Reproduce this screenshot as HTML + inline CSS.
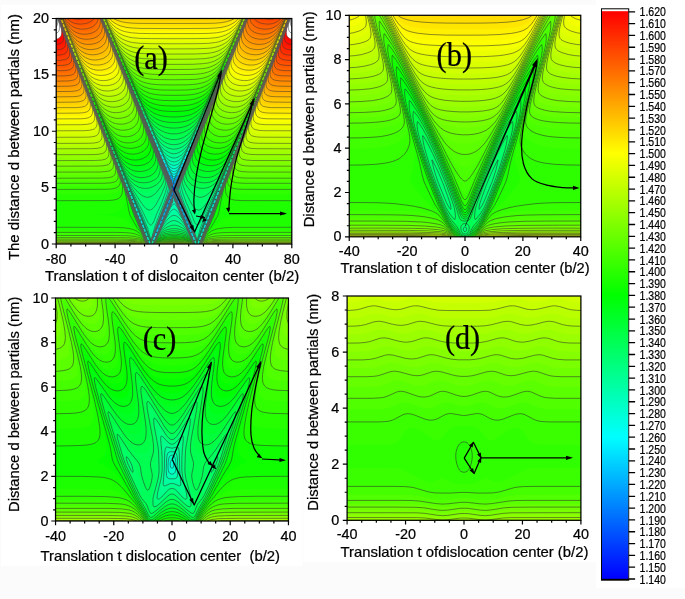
<!DOCTYPE html>
<html><head><meta charset="utf-8"><title>figure</title>
<style>
html,body{margin:0;padding:0;background:#fbfbfb;overflow:hidden}
svg{display:block;will-change:transform}
text{font-family:"Liberation Sans",sans-serif;fill:#000;stroke:#000;stroke-width:.22px}
.tk{font-size:14.4px}
.lb{font-size:14.2px}
.pl{font-family:"Liberation Serif",serif;font-size:33px}
.cb{font-size:13.2px}
</style></head><body>
<svg width="685" height="599" viewBox="0 0 685 599">
<rect width="685" height="599" fill="#fbfbfb"/>
<rect x="1" y="4.6" width="595" height="557.6" fill="#fff"/>
<rect x="1" y="560" width="301.3" height="5.8" fill="#fff"/>
<rect x="596" y="0" width="89" height="588.3" fill="#fff"/>
<rect x="302.2" y="440" width="1.2" height="126" fill="#fdfdfd"/>
<g id="panel-a">
<clipPath id="cpa"><rect x="56.20" y="18.50" width="235.60" height="225.50"/></clipPath>
<g clip-path="url(#cpa)">
<clipPath id="ha"><rect x="55.20" y="17.50" width="119.80" height="227.50"/></clipPath>
<g id="fa" clip-path="url(#ha)" fill-rule="evenodd" stroke="#333333" stroke-width="0.5" stroke-linejoin="round">
<rect x="53.2" y="15.5" width="123.8" height="231.5" fill="#0000ff"/>
<path fill="#0000ff" d="M53.2 15.5l123.8 0l0 231.5l-123.8 0zM173.8 189.6l.4 .2l0-.2z"/>
<path fill="#0000ff" stroke="none" d="M53.2 15.5l123.8 0l0 231.5l-123.8 0zM173.8 189.5l0 .5l.4 .4l0-.9z"/>
<path fill="#0000ff" d="M53.2 15.5l123.8 0l0 231.5l-123.8 0zM173.8 189.3l0 1.2l.4 .1l0-1.3z"/>
<path fill="#0000ff" stroke="none" d="M53.2 15.5l123.8 0l0 231.5l-123.8 0zM173.8 189.2l0 1.4l.4 .1l.1-1.1l-.1-.4z"/>
<path fill="#0004ff" d="M53.2 15.5l123.8 0l0 231.5l-123.8 0zM173.8 189.1l-.2 .5l.2 1.2l.4 0l.2-1.2l-.2-.5z"/>
<path fill="#000dff" stroke="none" d="M53.2 15.5l123.8 0l0 231.5l-123.8 0zM173.8 188.9l-.1 1.9l.5 .1l.1-1.7z"/>
<path fill="#0015ff" d="M53.2 15.5l123.8 0l0 231.5l-123.8 0zM173.8 188.8l-.3 .8l.2 1.2l.1 .2l.4 0l.4-2.2z"/>
<path fill="#001eff" stroke="none" d="M53.2 15.5l123.8 0l0 231.5l-123.8 0zM173.4 188.4l.2 2.4l.6 .3l.4-2.7z"/>
<path fill="#0026ff" d="M53.2 15.5l123.8 0l0 231.5l-123.8 0zM173.4 188.2l.2 2.6l.2 .4l.4 0l.2-.4l.2-2.4l0-.1l-.8 .1z"/>
<path fill="#002fff" stroke="none" d="M53.2 15.5l123.8 0l0 231.5l-123.8 0zM173.4 188.1l.1 2.7l.3 .5l.4 0l.5-2.9l-.1-.3z"/>
<path fill="#0037ff" d="M53.2 15.5l123.8 0l0 231.5l-123.8 0zM173 187.5l0 .2l.1-.1zM173.4 187.9l-.2 .5l.3 2.4l.1 .4l.6 .2l.2-.2l.1-.4l.2-2.8l-.1-.1l-.8 .1z"/>
<path fill="#0040ff" stroke="none" d="M53.2 15.5l123.8 0l0 231.5l-123.8 0zM173 187.3l.4 4.3l.8-.1l.4 .2l.4-4.3l-1.2 .4z"/>
<path fill="#0048ff" d="M53.2 15.5l123.8 0l0 231.5l-123.8 0zM173 187.1l-.1 .5l.5 2.4l-.1 1.6l.1 .2l.8-.2l.4 .2l.1-2.2l.4-2l-.1-.4l-.8 .4l-.4 0z"/>
<path fill="#0051ff" stroke="none" d="M53.2 15.5l123.8 0l0 231.5l-123.8 0zM173 186.9l-.2 .7l.5 2.4l0 1.6l.1 .3l.8-.2l.4 .2l.5-4.7l-.1-.3l-1.2 .4zM175.4 186.5l-.2 .3l.2 .1z"/>
<path fill="#0059ff" d="M53.2 15.5l123.8 0l0 231.5l-123.8 0zM172.6 186.2l-.1 .6l.2 .4l.6 2.8l-.1 1.6l.2 .4l.8-.2l.4 .2l.2-.4l0-2.4l.7-2.4l-.1-.5l-.8 .7l-.8 .1l-.8-.4z"/>
<path fill="#0062ff" stroke="none" d="M53.2 15.5l123.8 0l0 231.5l-123.8 0zM172.6 186l-.1 .8l.7 2.8l.1 2.4l.9-.1l.4 .2l.9-5.7l-.1-.4l-.8 .7l-.8 .1z"/>
<path fill="#006aff" d="M53.2 15.5l123.8 0l0 231.5l-123.8 0zM172.2 185.2l-.1 .4l1 4l.1 2.4l.2 .3l.8-.3l.8 .6l-.2-.6l.1-2.4l.9-3.6l0-.8l-.8 1l-.4 .2l-.8 .1l-.8-.4zM176.2 184.6l-.1 .2l.1 .1z"/>
<path fill="#0073ff" stroke="none" d="M53.2 15.5l123.8 0l0 231.5l-123.8 0zM171.8 184.3l1.3 5.3l-.2 3.2l1.3-.7l.8 .7l0-3.6l1.3-4.4l-.1-.5l-1.2 1.6l-1.2 .3l-.8-.4z"/>
<path fill="#007bff" d="M53.2 15.5l123.8 0l0 167.1l-.1 .2l.1 .1l0 64.1l-123.8 0zM171.4 183.3l0 .6l.2-.3zM171.8 184l-.1 .8l.9 2.8l.4 2l.1 1.2l-.2 2l.1 .2l.5-.6l.7-.1l.8 .7l.1-.6l-.2-1.6l.1-1.3l1.3-5.1l-.1-.4l-1.2 1.5l-1.2 .4l-.8-.4zM176.6 183.3l-.3 .7l.3 0z"/>
<path fill="#0084ff" stroke="none" d="M53.2 15.5l123.8 0l0 166.8l-1.6 2.5l-1.2 .7l-1.2-.3l-1.6-2.2l-.2 .6l1.8 6l-.2 3.2l.2 .4l.8-.8l.4 0l.8 .7l.2-.3l-.2-2l.2-2l1.5-5.6l.3-.1l0 63.9l-123.8 0zM171 182.3l0 .7l.2-.2z"/>
<path fill="#008cff" d="M53.2 15.5l123.8 0l0 166.6l-1.6 2.4l-1.2 .7l-1.2-.4l-.8-.8l-1.2-2l-.2 .4l1.8 5.5l.3 1.7l.1 1.6l-.6 2.4l.2 .4l.8-1.2l.4-.2l.8 .2l.8 1.1l.1-.3l-.5-2.4l.1-1.6l.7-2.9l1.2-3.5l0 63.8l-123.8 0zM170.2 180.5l0 .5l.1-.2zM170.6 181.3l0 .7l.2 0z"/>
<path fill="#0095ff" stroke="none" d="M53.2 15.5l123.8 0l0 166.3l-1.6 2.3l-.8 .6l-.8 .1l-1.6-1.2l-2-3.4l-.1 .6l.3 .4l2.3 7.6l.2 2l-.5 2.8l.2 .6l1.2-1.5l.8 .3l1 1l-.5-4.4l1.9-6.3l0 63.7l-123.8 0zM175.8 194.1l-.2 .3l.2 .5z"/>
<path fill="#009dff" d="M53.2 15.5l123.8 0l0 165.9l-1.6 2.3l-.8 .6l-.8 .1l-.8-.4l-.8-.8l-2.4-4l-.1 .4l2.5 7.3l.5 2.3l.1 2l-.8 3.2l0 .4l.2 .3l.8-1.4l.8-.8l.4 0l.4 .2l1.2 1.9l.2-.2l-.7-2.8l-.1-2l.6-3l1.2-3.5l0 63.5l-123.8 0zM169.4 178.4l0 .6l.2-.2zM171.4 196.2l0 .6l.1-.4zM171.8 195.2l-.2 .4l.2 .4l.1-.4zM176.2 195.1l-.2 .1l.2 .7l.1-.3zM176.6 196.2l-.1 .2l.1 .4z"/>
<path fill="#00a6ff" stroke="none" d="M53.2 15.5l123.8 0l0 165.6l-1.6 2.2l-.8 .6l-.8 .1l-.8-.4l-1.2-1.4l-2.4-4.1l-.2 .7l2.6 7l.9 3.8l-.1 2.4l-1.4 4.4l.2 .6l1.6-3.2l.8-.7l.4 0l.8 .7l1.7 3l-1.3-4.6l-.2-1.8l.6-3.2l1.2-3.6l0 63.4l-123.8 0zM169 177.3l0 .8l.3-.1z"/>
<path fill="#00aeff" d="M53.2 15.5l123.8 0l0 165.2l-1.2 1.7l-.8 .8l-.8 .3l-.8-.1l-.8-.6l-1.2-1.6l-2.8-5.1l-.2 .7l3.4 9.2l.8 2.8l.1 1.2l-.1 1.6l-.4 2l-2.2 6.1l.2 .3l2.4-5.3l.8-1.2l.4-.2l.4-.1l.8 .8l2 4l0 49l-123.8 0zM167.4 173.6l0 .5l.1-.1zM167.8 174.5l0 .6l.1-.3zM168.2 175.3l0 .9l.2-.2zM168.6 203.1l0 .7l.1-.5zM169 202.1l-.2 .4l.2 .3l.1-.3zM169.4 201.1l-.2 .6l.2 .2l.1-.6zM169.8 200l-.2 .5l.2 .4l.2-.4zM176.9 184l.1 12.9l-1.3-3.7l-.4-2.8l.4-2.8z"/>
<path fill="#00b7ff" stroke="none" d="M53.2 15.5l123.8 0l0 164.7l-2 2.5l-.8 .4l-1-.3l-1-.9l-1.6-2.4l-3.2-6.2l-.1 .7l.3 .4l4.2 11.8l.9 4.2l-.9 4.2l-4.2 11.1l.2 .2l4.4-10.2l1.2-2l.8-.3l.8 .8l2 4l0 48.8l-123.8 0zM167 206.9l0 .9l.1-.5zM177 184l0 12.7l-1.2-3.5l-.5-2.8l.5-2.8z"/>
<path fill="#00bfff" d="M53.2 15.5l123.8 0l0 164.3l-1.2 1.6l-1.2 1l-.8 .1l-.8-.3l-1.2-1.3l-1.2-1.8l-4.1-7.8l0 .3l-.1 .4l.4 .4l.1 .8l4.9 13.2l.7 2.8l.1 1.7l-.4 2.2l-.8 2.4l-7.9 19.8l.2 .4l.2-.4l6.7-15.9l2.4-5l.8-.7l.4 0l.4 .2l.8 1.1l1.6 3.4l0 48.6l-123.8 0zM161.7 219.7l-.1 .4l.1 .3l.2-.3zM162.1 218.7l0 .8l.2-.6zM162.5 217.7l-.1 .4l.1 .4l.2-.4zM162.9 216.7l-.1 .6l.1 .3l.2-.7zM163.3 215.7l-.1 .4l.1 .5l.2-.5zM165.7 169.6l0 .6l.2-.2zM166.1 170.5l0 .7l.2 0zM176.9 184.4l.1 12.1l-1.2-3.5l-.4-2.6l.4-2.5z"/>
<path fill="#00c8ff" stroke="none" d="M53.2 15.5l123.8 0l0 163.8l-1.2 1.6l-1.2 1l-.8 .1l-.8-.4l-2.8-3.6l-4.5-8.7l-.1 .3l6.2 17l.6 2.6l.1 2l-1.5 5.2l-9.9 24.9l.2 .2l.1-.2l11.2-26l.8-1.1l.8-.3l1.2 1.4l1.6 3.3l0 48.4l-123.8 0zM160.9 221.5l-.2 .6l.2 .4zM165.3 168.5l0 .8l.3-.1zM176.9 184.4l.1 11.9l-1.2-3.6l-.3-2.3l.3-2.3z"/>
<path fill="#00d0ff" d="M53.2 15.5l123.8 0l0 163.3l-1.2 1.5l-1.2 1l-.8 .1l-1.2-.7l-1.2-1.4l-1.6-2.5l-4.9-9.5l-.1 .3l.1 .8l6.5 17.1l.9 3.3l.1 2.4l-.6 2.7l-1.2 3.3l-11.9 29.7l.2 .5l.2-.5l0-.4l.4-.4l12.7-29.8l1.2-1.9l.4-.3l.4 0l.4 .3l.8 1.1l1.6 3.4l0 48.1l-123.8 0zM158.1 228.5l-.1 .4l.1 .3l.1-.3zM158.5 227.4l-.1 .7l.1 .2l.2-.6zM163.7 164.7l0 .6l.2-.1zM164.1 165.6l0 .7l.2-.3zM164.5 166.5l0 .8l.3-.1zM177 184.4l0 11.7l-1.2-3.7l-.2-2l.2-2z"/>
<path fill="#00d9ff" stroke="none" d="M53.2 15.5l123.8 0l0 162.7l-1.2 1.5l-1.2 1l-1.2 0l-1.2-1l-3.2-4.8l-5.3-10.5l-.1 .8l7.8 20.5l.8 3.1l.1 2.4l-.5 2.4l-1.6 4.4l-12.3 30.9l.2 .5l.2-.5l13.9-32.3l1.2-1.9l.8-.3l.4 .3l2.4 4.4l0 47.9l-123.8 0zM162.9 162.7l0 .7l.3-.3zM176.9 184.8l.1 11l-1.1-3.4l-.2-2l.2-2z"/>
<path fill="#00e1ff" d="M53.2 15.5l123.8 0l0 162.1l-1.2 1.5l-1.2 .9l-1.2 0l-1.2-.9l-1.2-1.5l-2-3.3l-2.9-5.2l-3.2-6.7l-.1 .3l0 .4l.3 .4l.2 .9l7.7 20.3l1.1 4.1l.1 2.4l-.4 2.1l-1.6 4.5l-13.5 34l.2 .4l.1-.8l.3-.1l1.4-3.2l13.1-30.4l1.6-2.7l.4-.3l.4 0l.4 .2l.8 1.2l1.6 3.3l0 47.6l-123.8 0zM162.1 160.7l0 .7l.3-.3zM162.5 161.6l0 .8l.3-.1zM177 184.8l0 10.8l-.9-2.8l-.4-2.4l.4-2.4z"/>
<path fill="#00eaff" stroke="none" d="M53.2 15.5l123.8 0l0 161.5l-1.6 1.8l-1.2 .6l-1.2-.4l-1.2-1l-4-6.4l-6.5-12.9l0 .8l.4 0l0 .8l9.3 24.6l.9 3.5l.2 2.4l-.3 2.1l-1.2 3.6l-14.3 36.5l.2 .2l2.3-5.1l13-30.1l1.6-2.7l.8-.3l.4 .3l2.4 4.4l0 47.3l-123.8 0zM160.9 157.8l0 .7l.2-.2zM176.9 185.2l.1 10.1l-.8-2.5l-.4-2.4l.3-2.4z"/>
<path fill="#00f2ff" d="M53.2 15.5l123.8 0l0 160.8l-1.6 1.7l-1.2 .5l-1.2-.2l-1.6-1.5l-1.6-2.3l-2.4-4.2l-3.7-6.9l-3.1-6.7l-.1-.1l-.1 .1l.1 .8l.6 1.2l9.5 25.3l1.2 4l.2 2.8l-.6 3.1l-1.2 3.4l-11.8 29.6l-2.6 6.9l0 .4l.3 0l3-6.5l12.3-28.5l1.6-3.1l.8-.7l.4 0l.4 .2l.8 1.1l1.6 3.3l0 47l-123.8 0zM155.3 235.4l-.1 .4l.1 .2zM155.7 234.2l-.2 .8l.2 .1l.2-.5zM159.3 154l0 .5l.2-.2zM159.7 154.8l0 .7l.2-.4zM160.1 155.7l0 .8l.3-.2zM176.9 185.6l.1 9.4l-.8-2.7l-.2-1.9l.2-2.2z"/>
<path fill="#00fbff" stroke="none" d="M53.2 15.5l123.8 0l0 160l-1.6 1.6l-1.2 .5l-1.6-.5l-1.6-1.6l-4.5-7.2l-7.1-14.4l-.1-.2l-.1 .2l11 29.1l1.6 5.4l.1 2.4l-.5 2.7l-1.2 3.4l-11.9 30l-3.2 8.9l.2 .3l3.8-8.4l12.3-28.2l1.6-3l.8-.7l.4-.1l1.2 1.4l1.6 3.2l0 46.7l-123.8 0zM158.5 151.9l0 .6l.2-.2zM158.9 152.8l0 .8l.2-.1zM177 185.6l0 9l-.9-4.2l.1-1.7z"/>
<path fill="#00fffb" d="M53.2 15.5l123.8 0l0 159.2l-1.6 1.5l-.8 .3l-.8 .1l-.8-.2l-.8-.5l-1.6-1.7l-2.4-3.7l-2.9-5l-3.6-7.1l-3.6-7.7l-.1 .8l.4 .4l.1 .8l8.5 21.7l3.2 8.9l1.2 3.9l.4 3.2l-.4 2.6l-1.2 3.6l-12.4 31.1l-3.1 8.9l0 .4l.2 0l4.2-8.9l12.3-28.2l1.6-3l.8-.7l.4 0l.4 .2l.8 1.1l1.6 3.2l0 46.3l-123.8 0zM133.6 201.8l0 .5l.1-.2zM134 202.8l0 .6l.1-.1zM134.4 203.8l0 .5l.1-.2zM134.8 204.7l0 .7l.2-.1zM135.2 205.7l0 .7l.2-.3zM135.6 206.7l0 .8l.2-.2zM136 207.7l0 .8l.2-.4zM136.4 208.7l0 .8l.3-.2zM136.8 209.7l0 .8l.2 0l0-.4zM137.2 210.7l-.1 .6l.1 .3l.4 .1l0 .9l.2-.1l0-.4zM138 212.7l-.1 .6l.1 .3l.4 .1l0 .9l.3-.1l-.1-.4zM138.8 214.7l0 .9l.3-.3zM139.2 215.7l0 1l.3-.2zM139.6 216.7l0 1l.3-.4zM140 217.7l0 1l.3-.2zM140.4 218.8l0 .9l.3-.4zM140.8 219.8l0 .9l.3-.2zM141.2 220.8l0 .9l.2-.4zM141.6 221.8l0 .9l.3-.2zM142 222.9l0 .9l.2-.5zM142.4 223.9l0 .9l.3-.3zM142.8 224.9l0 .9l.2-.5zM143.2 225.9l0 .9l.3-.3zM143.6 227l0 .8l.2-.5zM144 228l0 .8l.3-.3zM144.8 230.2l0 .5l.2-.1zM157.3 149l0 .6l.2-.1zM157.7 149.9l0 .7l.2-.3zM176.9 186l.1 8.3l-.6-2.3l-.2-1.6l.2-2z"/>
<path fill="#00fff2" stroke="none" d="M53.2 15.5l123.8 0l0 158.3l-1.6 1.3l-1.6 .4l-1.6-.7l-2-2l-2.4-3.6l-3.3-5.8l-7.7-15.5l.1 .8l12.5 32.5l2 6.4l.3 2.8l-.3 2.1l-1.2 3.7l-12.3 31.1l-3.6 10.5l.2 .2l.1-.2l4.6-9.7l12.2-27.8l1.6-2.9l.8-.7l.4 0l1.2 1.3l1.6 3.1l0 45.9l-123.8 0zM132 197.6l0 .7l.2-.2zM132.4 198.6l0 .8l.2-.1zM132.8 199.5l0 .9l.2-.3zM133.2 200.5l0 .9l.2-.1zM133.6 201.5l0 .9l.2-.3zM134 202.5l-.1 .8l.4 .4l.4 1.6l9.7 24.6l.4-.2l-.6-1.6zM144.8 229.8l0 1.1l.3-.3zM145.2 231l0 .9l.2-.1zM156.5 146.9l0 .8l.3-.2zM176.9 186.4l.1 7.4l-.7-3.8z"/>
<path fill="#00ffea" d="M53.2 15.5l123.8 0l0 157.3l-1.2 .9l-.8 .4l-1.6 .1l-1.6-.8l-2-2l-2.4-3.6l-2.9-4.9l-4-7.9l-4.7-9.9l-.1-.2l-.1 .2l0 .4l.4 .4l.1 .8l.2 .4l.1 .4l12.6 32.8l2 6.2l.5 3.5l-.2 2l-1.1 3.8l-12.8 32.3l-3.5 10.5l.2 .3l5-10.4l12.3-27.7l1.6-2.9l.8-.7l.4 0l.4 .3l.8 1l1.6 3.1l0 45.4l-123.8 0zM128.8 189.6l0 .5l.1-.1zM129.6 191.5l0 .7l.2-.2zM130 192.5l0 .8l.1-.5zM130.4 193.4l0 .9l.2-.3zM130.8 194.4l0 .9l.2-.1zM131.2 195.4l-.2 .6l.2 .4l.2 0l.1 .8l.3 .5l.2 .7l.6 1.3l3.6 9.6l7.3 18.4l1.7 4.3l.3 .2l.5 1.7l.3-.1l-.1-.4l-2-5.7l-6-15.2zM146.5 234l0 .8l.2-.2zM146.9 235.2l0 .6l.1 0zM154.9 143.2l0 .5l.2-.2zM155.3 144l0 .8l.2-.1zM176.9 186.8l.1 6.5l-.4-1.7l-.1-1.6z"/>
<path fill="#00ffe1" stroke="none" d="M53.2 15.5l123.8 0l0 156.2l-2 1.1l-1.6 .1l-2-.9l-2-2.1l-5.3-8.4l-9.1-18.4l-.1-.2l-.1 .2l13.8 36.3l2.3 7.4l.5 3.2l-.4 2.8l-1.2 3.7l-12.3 31.2l-3.7 11.3l.3 0l5.5-11.3l11.8-26.4l1.6-2.7l1.2-.7l1.2 1.2l1.6 3l0 44.9l-123.8 0zM128.4 188.4l0 .8l.2-.4zM128.8 189.4l-.1 .6l.4 .4l0 .8l.4 0zM129.6 191.3l-.2 .7l.8 2l16.7 42l.3-.2l-.1-.4l-2.9-8.1zM147.3 236l0 .9l.2-.3zM154.1 141.1l0 .7l.2-.3zM154.5 142l0 .8l.3-.1zM177 187.2l0 5.5l-.4-2.7z"/>
<path fill="#00ffd9" d="M53.2 15.5l123.8 0l0 155l-2 1l-1.2 .1l-.8-.1l-2-1.1l-2.4-2.5l-2.9-4.2l-3.2-5.8l-5.2-10.3l-3.6-7.7l-.1 .8l.3 .4l.2 .8l9.6 24.8l4.9 12.9l2 6.3l.4 2.1l.2 2l-.2 2l-1.2 3.9l-12.7 32.2l-2.5 7.3l-1.2 4.4l.3 .2l.1-.2l5.7-11.7l11.9-26.1l1.6-2.7l.8-.6l.4 0l.4 .2l.8 .9l1.6 2.9l0 44.3l-123.8 0zM126.8 184.5l0 .6l.1-.3zM127.2 185.4l0 .8l.2-.2zM127.6 186.3l0 .9l.4 1.1l.2 .1l.1 .8l3.9 10.1l11.2 28.4l4.3 10.3l.2-.2l-.1-.4l-3.5-10.5l-6.9-17.2zM148.1 238.2l0 .6l.1-.2zM152.1 136.4l0 .4l.1-.1zM152.9 138.1l0 .8l.2-.2zM153.3 139l-.1 .5l.1 .4l.1 0l.1-.4zM177 188l0 3.8l-.2-1.8z"/>
<path fill="#00ffd0" stroke="none" d="M53.2 15.5l123.8 0l0 153.7l-2 .9l-2.4-.2l-2-1.1l-2.4-2.5l-2.5-3.4l-2.8-4.9l-6.4-12.5l-4.4-9.4l-.1 .6l.4 .4l0 .8l15.4 39.7l2.4 7.4l.8 4.6l-.4 3.1l-1.2 3.8l-12.3 31.2l-2.8 8.5l-1.2 4.4l.2 .2l.5-1l5.6-11.3l11.6-25l2-3.3l1.2-.6l1.2 1.1l1.6 2.7l0 43.6l-123.8 0zM126 182.4l0 .7l.2-.3zM126.4 183.3l0 .9l.2-.2zM126.8 184.2l-.1 1l5.9 15.3l10.8 27.2l4.7 11.3l.2-.4l-.8-2.8l-3.6-10.5l-7.3-18z"/>
<path fill="#00ffc8" d="M53.2 15.5l123.8 0l0 152.2l-1.2 .6l-1.2 .3l-1.2 0l-1.2-.3l-1.2-.6l-1.2-.9l-2.4-2.6l-2.5-3.5l-3.2-5.6l-6-11.7l-4.6-9.9l-.2-.4l-.1 .4l16.6 43.3l2.4 7.3l.7 3.1l.2 2l-.1 2.4l-1.2 4.2l-2.9 7.6l-9.7 24.7l-2.6 7.7l-1.2 4.8l.3 .3l6.3-12.4l11.4-24.1l2-3.1l.8-.6l.4 0l1.2 1l1.6 2.6l0 42.7l-123.8 0zM124.3 178.4l0 .6l.2-.2zM125.1 180.3l-.1 .5l.1 .3l.4 .1l0 .8l.3 .4l0 .4l1.2 3.2l7.6 19.7l8.9 22.4l5 11.9l.3-.2l-.9-3.2l-3.6-10.9l-4.9-12.4l-5.6-13.2zM149.3 129.5l0 .5l.1-.2zM150.1 131.3l0 .7l.2-.1zM150.5 132.2l0 .8l.2-.3zM148.9 240.2l0 .6l.1-.2z"/>
<path fill="#00ffbf" stroke="none" d="M53.2 15.5l123.8 0l0 150.7l-2.4 .8l-2.8-.4l-2.4-1.5l-2.9-3l-2.8-4.2l-3.2-5.7l-5.6-10.9l-5.5-11.9l-.2 .4l.4 .4l0 .8l17.4 44.9l2.8 8.8l.7 4.5l-.3 2.9l-1.2 4l-12.3 31.6l-2.8 8.5l-1.2 5.2l.2 .4l7.1-13.7l10.6-21.9l2-3.2l.8-.7l.8-.1l1.2 .8l1.6 2.4l0 41.6l-123.8 0zM123.5 176.3l0 .7l.2-.2zM124.3 178.2l-.1 .6l.4 .4l.1 .8l10.3 26.9l8.4 21.2l5.5 12.9l.2-.4l-1.2-4.8l-3.2-9.7l-10.5-25.6z"/>
<path fill="#00ffb7" d="M53.2 15.5l123.8 0l0 149.2l-1.2 .4l-1.6 .3l-1.6-.2l-1.2-.4l-1.6-.8l-1.2-1l-2.5-2.6l-2.8-4.1l-3.2-5.5l-5.2-10l-6.4-13.6l-.2 .6l.4 .4l.1 .8l11.3 29l6.4 17.1l2.9 8.7l.8 4.6l-.2 2.8l-1 3.9l-2.9 7.8l-9.8 25.2l-2.8 8.9l-1 4.8l.4 .1l1.3-2.5l6.2-11.7l10.2-20.1l2-2.9l.8-.6l.8-.1l1.2 .7l1.6 2.1l0 40.2l-123.8 0zM121.9 172.4l0 .5l.2-.1zM122.3 173.3l0 .6l.2-.3zM122.7 174.2l0 .8l.3-.2zM123.1 175.1l0 .9l.3 0zM123.5 176.1l-.1 .7l.3 .4l.2 .8l3.4 9.2l8.1 20.9l8.5 21.2l4 9.7l1 2.1l.3 .3l.1 .5l.2-.1l-.1-.4l-1.1-5.2l-2-6.5l-1.3-3.6l-4.8-12l-6.1-14.4zM147.3 124.5l0 .6l.1-.1zM147.7 125.4l0 .7l.2-.3zM148.1 126.3l0 .8l.2-.1z"/>
<path fill="#00ffae" stroke="none" d="M53.2 15.5l123.8 0l0 147.5l-3.2 .6l-2.8-.6l-2.8-1.8l-2.9-3l-3.2-4.7l-4.4-7.8l-10.2-21.1l-.2-.4l-.2 .4l19 49.7l2.9 8.8l.8 4.9l-.2 3.2l-1 3.9l-12.8 33.4l-2.8 9.3l-.7 4.8l.2 .1l.5-.9l16.8-31.2l2.4-3.3l1.2-.8l.8-.1l1.2 .5l1.6 1.8l0 38.3l-123.8 0zM121.5 171.2l0 .7l.2-.3zM121.9 172.1l-.1 .7l.4 .4l.1 .8l5.5 14.4l9.6 24.9l8.1 20.1l4.2 9.3l-1-6.1l-3.2-10.1l-10.9-26.4zM146.5 122.5l0 .7l.2-.2zM146.9 123.4l0 .8l.2-.4z"/>
<path fill="#00ffa6" d="M53.2 15.5l123.8 0l0 145.8l-1.6 .4l-1.6 .2l-1.6-.3l-1.6-.5l-1.6-.9l-1.6-1.3l-2.9-3l-3.2-4.7l-4-6.9l-4.8-9.5l-6.8-14.2l-.1-.2l-.1 .6l.5 .4l0 .8l.6 1.2l.5 1.6l11 28.1l7.2 19.3l2.9 8.4l.8 3.2l.4 3.2l-.1 3.2l-1.1 4.5l-2.9 8l-9.9 25.6l-2.7 9.7l-.5 2.4l-.1 2l.4 .2l12.4-22.5l4.1-6.6l1.6-2.2l1.6-1.6l1.2-.6l1.2 0l1.2 .6l1.2 1.1l0 36l-123.8 0zM119.9 167.2l0 .6l.2-.2zM120.3 168.1l0 .8l.2-.1zM120.7 169l0 .9l.3-.3zM121.1 170l-.1 .8l.4 .4l.1 .8l5.9 15.6l8.8 22.9l8 20.1l3.3 7.6l2.2 4.7l.2-.3l0-.8l-.5-3.6l-1.2-4.4l-2-6.5l-5.6-14l-6-14zM144.8 118.7l0 .5l.2-.2zM145.2 119.5l0 .7l.2-.4z"/>
<path fill="#00ff9d" stroke="none" d="M53.2 15.5l123.8 0l0 143.9l-3.2 .6l-3.6-.9l-3.2-2.2l-3.3-3.3l-2.8-4l-3.6-6l-5.2-10.1l-7.1-14.9l-.2-.2l-.1 .6l20.2 52.6l2.9 8.5l1.1 6.3l-.3 4.7l-1.6 5.6l-12.3 32.6l-2.8 10.9l.1 3.2l.5-.5l11.6-20.2l3.3-4.9l2-2.5l2-1.9l1.6-.9l1.6-.1l2.4 1.3l0 33.3l-123.8 0zM119.1 165.1l0 .7l.2-.2zM119.5 166l0 .9l.3-.1zM119.9 166.9l-.1 .7l.4 1.2l16.4 42.9l8.4 20.9l5.1 11.2l.1-2.4l-.4-2.8l-3.1-11.3l-5.3-13.2l-6.5-14.8zM144 116.6l0 .7l.2-.3zM144.4 117.5l0 .8l.3-.1z"/>
<path fill="#00ff95" d="M53.2 15.5l123.8 0l0 142l-1.6 .4l-1.6 .1l-1.6-.2l-2-.7l-1.6-.8l-2.1-1.4l-1.6-1.5l-2-2.2l-3.6-5.1l-3.2-5.5l-6.8-13.3l-5.5-11.5l-.2-.4l-.1 .4l14.6 37.7l6 16.2l3.3 9.8l.8 3.6l.2 2.1l-.2 4.2l-1.2 4.9l-2.9 8.3l-4.6 11.5l-5 13.6l-3.2 12.4l-.4 .3l-3.2-12.3l-5.9-14.4l-7.2-16l-9.9-20.4l-6.3-14.2l-.1-.1l-.1 .5l.1 .3l.4 .1l0 .9l.3 .4l.4 1.6l8.3 22l10.9 28.1l6.8 16.9l3.2 7.2l1.1 2.1l.3 .3l.1 .6l.2-.2l.6-1.9l.4 .3l.4 1.2l.4 .2l7.2-12.4l5.2-7.9l2.9-3.7l2-2l2-1.5l1.6-.6l1.6-.1l1.2 .4l1.2 .6l0 30.6l-123.8 0zM117.5 161.2l0 .5l.2-.2zM117.9 162.1l0 .7l.1-.5zM142 111.9l0 .4l.2-.1zM142.8 113.7l0 .7l.2-.2zM143.2 114.6l0 .7l.3-.3z"/>
<path fill="#00ff8c" stroke="none" d="M53.2 15.5l123.8 0l0 139.9l-3.6 .5l-2-.4l-2-.7l-3.7-2.3l-4-4.2l-2.8-3.8l-3.2-5.4l-7.2-14l-6-12.5l-.2 .4l20.6 53.7l3.6 10.8l1.3 6.1l-.1 4l-1.6 6.3l-3.2 9.2l-9.8 24.6l-1.4 6.9l-.4 .8l-.4-.1l-1.9-7.2l-6.7-15.2l-8.2-17.3l-9.4-18.8l-7.1-15.7l-.1-.2l-.1 .6l.4 .4l0 .8l9.6 25.3l10.8 28.1l6.8 16.9l5.1 11.1l.8-.8l.4 0l.4 .5l.4 0l7.2-12.2l7.2-9.3l2.1-1.9l2-1.3l2-.8l2-.2l2.4 .7l0 28.2l-123.8 0zM116.7 159l0 .7l.2-.2zM142 111.6l0 .8l.3-.2z"/>
<path fill="#00ff84" d="M53.2 15.5l123.8 0l0 137.8l-2 .4l-2 0l-2-.4l-2-.8l-2-1.1l-2.5-1.7l-2-1.9l-2-2.2l-2.8-4l-3.6-6.2l-6.8-13.2l-6-12.4l-.1-.2l-.1 .2l0 .4l.1 .3l.3 .1l.1 .8l.3 .4l0 .4l12.2 31.2l7.6 20.3l4 11.9l.8 2.9l.6 3.1l.1 2.4l-.1 2l-1.8 6.8l-3.6 9.9l-5.4 12.2l-2.2 6l-1.6 3l-.8 .8l-.8 .4l-.4 0l-.8-.5l-1.6-2l-5.1-10.5l-17-33.3l-9.1-19.7l-.2-.3l-.1 .3l0 .4l.3 .4l.1 .8l10.8 28.5l9.6 24.9l8.1 20.1l2.8 6.4l1.5 2.8l.2 .8l0 2.8l-96.8 0zM115.1 155.1l0 .5l.1-.1zM115.5 156l0 .6l.2-.3zM115.9 156.9l0 .8l.2-.2zM116.3 157.8l0 1l.3-.1zM140.4 107.8l0 .6l.2-.2zM140.8 108.7l0 .8l.2-.1zM171.9 220.9l1.5-.3l1.2 0l2.4 .6l0 25.8l-25.2 0l0-2.8l5.5-9.1l2.8-4.1l3.6-4.1l2.8-2.7l2.9-2.1zM150.8 244.2l.1-.2l.4 0l.1 .2l0 2.8l-.6 0z"/>
<path fill="#00ff7b" stroke="none" d="M53.2 15.5l123.8 0l0 135.6l-4 .3l-4.4-1.2l-4.5-2.6l-4-3.9l-2.8-3.8l-3.6-6.1l-6.8-13l-6.4-13l-.1-.3l-.1 .3l20.2 52.9l3.6 10.5l2 7l.5 3.8l-.5 3.8l-2 6.4l-4 9.9l-4 7.9l-4 6.6l-1.6 1.3l-.8-.1l-1.2-.9l-2.9-3.9l-4.4-7.1l-12.4-22.4l-6.1-12l-7.4-16.4l-.2-.3l-.1 .3l22.4 59.4l7.7 18.9l4.8 10.4l.1 3.2l-96.8 0zM114.7 153.9l0 .8l.2-.4zM139.6 105.8l0 .7l.2-.3zM140 106.7l0 .9l.3-.2zM171.7 223.3l2.5-.3l2.8 .5l0 23.5l-25.1 0l0-2.8l4.6-7.6l3.6-5l2.4-2.5l4-3.2l2.9-1.7z"/>
<path fill="#00ff73" d="M53.2 15.5l123.8 0l0 133.3l-2.4 .3l-2 0l-2-.4l-2.4-.7l-2.5-1.2l-2-1.3l-2-1.6l-2-2.1l-3.6-4.9l-4-6.8l-6.5-12.2l-6.2-12.9l-.2-.4l-.1 .4l0 .4l.3 .4l.2 .8l13.3 34.1l5.6 14.9l4 11.3l2.4 7.8l.9 4.5l.1 2l-.3 2l-.7 2.8l-3.2 7.7l-4.8 9.3l-2 3.1l-2 2.3l-1.6 1.2l-1.6 .5l-1.6-.3l-2.1-1.3l-2.4-2.6l-2.8-3.8l-6-9.3l-5.6-9.4l-5.3-9.9l-5.6-11.8l-4.3-9.8l-.1-.1l-.1 .1l.1 .8l.3 0l0 .8l.3 .4l.2 .8l13.1 34.9l8.8 22.9l8.1 20.1l2.8 6.4l2.4 4.8l.1 3.2l-96.8 0zM113.1 149.9l0 .6l.2-.2zM113.5 150.8l0 .8l.2-.1zM137.6 101.1l0 .4l.1-.1zM138.4 102.9l0 .7l.3-.2zM138.8 103.8l0 .8l.3 0zM172.3 225.3l2.3-.1l2.4 .4l0 21.4l-24.9 0l0-2.8l.3-.8l4.5-7.1l3.2-4.1l2.4-2.2l3.2-2.1l3.7-1.8z"/>
<path fill="#00ff6a" stroke="none" d="M53.2 15.5l123.8 0l0 131.1l-4.8 .2l-4.8-1.2l-4.5-2.6l-4-3.7l-3.2-4.2l-4.4-7.2l-6.5-12.1l-6.4-13.2l-.1 .4l16.2 42.1l8.4 23.7l1.6 5.9l.6 4.1l-.3 3.2l-1.3 3.6l-5 9.1l-2.8 3.9l-2.8 3.2l-2 1.4l-2 .5l-2-.4l-2.1-1.1l-3.2-3l-4-4.6l-8-11.4l-5.3-9.5l-11.1-23.8l-.1-.2l-.1 .2l23.6 63l8 19.7l5.2 11.2l.1 3.2l-96.7 0zM112.3 147.8l0 .8l.2-.3zM112.7 148.7l0 .9l.3-.1zM137.6 100.8l-.1 .6l.4 .4l.1 .9l.4-.1zM171.2 227.3l3-.2l2.8 .3l0 19.6l-24.9 0l.2-3.2l4.2-6.7l3.2-3.9l2-1.8l2.8-1.7l3.3-1.4z"/>
<path fill="#00ff62" d="M53.2 15.5l123.8 0l0 128.9l-2.4 .3l-2.8-.2l-2.4-.4l-2.4-.8l-2.5-1.3l-2-1.3l-2.4-2l-2-2l-4-5.3l-4-6.5l-6.9-12.8l-6.4-13.3l-.1 .6l.1 .3l.2 .1l.1 .8l.3 .4l.5 1.6l16.2 41.7l5.2 14.3l2.8 8.5l1.6 6l.6 4.5l-.3 2.8l-1.5 3.6l-1.6 2.6l-4 5.3l-2.8 2.7l-2.8 1.8l-2.4 .8l-2.4 .1l-2.9-.9l-2.8-1.8l-3.2-2.7l-4-4.4l-2.8-3.5l-2.8-4.3l-2.4-4.3l-4.5-8.8l-4.4-9.2l-5.1-11.5l-.1-.2l-.1 .2l0 .4l.1 .3l.3 .1l0 .8l.3 .4l0 .4l15.7 41.7l9.2 24.1l7.7 18.9l2.8 6.4l2.3 4.4l.1 3.2l-96.7 0zM110.7 143.9l0 .6l.2-.2zM111.1 144.8l0 .7l.1-.4zM135.6 96.2l0 .5l.1-.2zM136 97l0 .6l.2-.3zM136.4 97.9l0 .8l.3-.1zM170 228.9l3.4-.3l3.6 .2l0 18.2l-24.8 0l.1-3.2l3.8-5.9l2.8-3.4l2-1.8l2.4-1.5l3.2-1.3z"/>
<path fill="#00ff59" stroke="none" d="M53.2 15.5l123.8 0l0 126.5l-5.2 .1l-5.3-1.3l-4.8-2.8l-4.4-4l-4-5l-4.4-7l-5.3-9.7l-7.9-16.2l-.1-.2l-.1 .2l18.2 47.4l6.8 19.2l2 7.1l.8 4.9l-.1 3.3l-1.1 3.2l-2 3.1l-2.8 2.9l-4 3.1l-3.2 1.6l-3.2 .6l-2.9-.3l-2.8-.9l-3.2-1.9l-5.6-4.9l-4.8-6.4l-7.3-13.7l-9.5-20.5l-.1-.3l-.1 .3l26 69.4l7.6 18.9l5.5 11.6l.1 3.2l-96.6 0zM109.9 141.8l0 .7l.2-.2zM134.8 94.1l0 .6l.2-.2zM173.1 229.7l3.9 .2l0 17.1l-24.8 0l0-2.8l.3-.6l4-6l3.2-3.3l2.8-1.9l3.2-1.3l3.7-.9z"/>
<path fill="#00ff51" d="M53.2 15.5l123.8 0l0 123.9l-2.8 .2l-2.8-.1l-2.8-.6l-2.9-.9l-2.4-1.2l-2.4-1.6l-2.4-2l-2.8-2.7l-4-5l-4-6.5l-6.5-11.9l-6.4-13.3l-.1 .3l0 .4l.3 .4l.1 .8l18.2 47l6.4 18.3l1.6 5.6l1 5.4l-.1 4l-.3 1.6l-.7 1.6l-.9 1.6l-1.4 1.6l-2.8 2.6l-3.6 1.9l-3.6 1.2l-3.7 .3l-3.6-.4l-3.6-1.2l-3.2-1.9l-2.4-2l-2.4-2.5l-2-2.7l-2-3.3l-6.5-12.2l-4.4-9.2l-5-11.1l-.2-.4l-.2 .4l.1 .4l.3 .4l.1 .8l18 48.1l8.4 22.1l8 19.7l2.8 6l2.3 4.4l.1 3.2l-96.6 0zM108.7 138.7l0 .7l.1-.3zM109.1 139.7l0 .8l.2-.2zM109.5 140.6l0 .9l.3 0zM134 92.1l0 .7l.2-.3zM134.4 93l0 .8l.3-.1zM170.8 231l3-.2l3.2 .1l0 16.1l-24.7 0l.1-3.2l3.7-5.4l2.8-2.9l2.4-1.7l2.8-1.3l3.3-.9z"/>
<path fill="#00ff48" stroke="none" d="M53.2 15.5l123.8 0l0 121.2l-6 0l-5.7-1.5l-5.6-3.2l-5.2-4.5l-4-5l-4-6.4l-6.5-11.9l-6.4-13.3l-.1 .4l19.4 50.6l6.4 18.7l1.6 6.5l.4 3.7l-.4 4l-1.2 3.2l-2.3 2.8l-3.3 2.3l-3.2 1.4l-4 .8l-4.1 .1l-3.6-.6l-3.2-1.3l-3.6-2.3l-2-1.8l-2-2.4l-4.9-7.8l-5.6-10.8l-9.5-20.5l-.1-.4l-.1 .4l28 75l7.6 18.9l5.8 12l.1 3.2l-96.5 0zM107.9 136.6l0 .8l.2-.3zM133.2 90.1l0 .7l.2-.3zM172.7 231.8l4.3 .1l0 15.1l-24.7 0l.2-3.3l3.6-5l2.8-2.8l2.4-1.4l3.6-1.4l4.1-1z"/>
<path fill="#00ff40" d="M53.2 15.5l123.8 0l0 118.2l-3.2 .2l-3.2-.2l-3.2-.6l-2.9-.9l-2.8-1.3l-2.8-1.6l-2.8-2.1l-2.4-2.2l-4-4.8l-4.1-6.3l-6.8-12.6l-6.4-13.3l-.1 .5l19 49.4l4.4 12.3l2.8 8.7l1.2 5l.4 2.6l.1 2.3l-.1 1.7l-.4 2l-.8 2.3l-.8 1.6l-.8 1.2l-1.2 1.2l-2.8 1.8l-3.6 1.4l-4.1 .7l-4 0l-3.6-.6l-3.6-1.4l-2.8-1.9l-2-1.9l-2.4-3l-2.5-3.6l-2.8-4.8l-5.6-10.9l-5.2-11.1l-3.9-8.8l-.1-.2l-.1 .2l-.1 .4l.2 .3l.2 .1l.1 .8l.3 .4l.1 .8l12.1 32.1l8.7 23.6l7.6 20.1l6.8 16.8l3.6 8.1l3 5.6l.1 3.2l-96.5 0zM105.5 130.7l0 .5l.1-.2zM106.3 132.6l0 .7l.2-.2zM106.7 133.5l0 .9l.2-.1zM131.2 85.4l0 .5l.1-.2zM132 87.2l0 .7l.2-.2zM169.3 233l3.7-.4l4 .2l0 14.2l-24.6 0l.1-3.2l2.8-3.9l2.4-2.6l2-1.4l2.4-1.2l3.6-1.1z"/>
<path fill="#00ff37" stroke="none" d="M53.2 15.5l123.8 0l0 115.3l-6.8-.1l-6.5-1.4l-3.2-1.4l-2.8-1.6l-5.2-4.3l-4-4.8l-4.1-6.2l-5.6-10.3l-7.7-15.4l19.8 51.8l6.4 18.8l1.5 6.4l.3 4.1l-.6 3.8l-1.6 3.5l-2 2.6l-2.4 1.8l-3.2 1.3l-4.1 .7l-4 .1l-4-.6l-3.2-1.2l-3.2-2.2l-2.4-2.3l-2.4-3l-5.3-8.4l-7.6-15.1l-7.7-16.8l30.8 83.1l6.5 16l3.8 8.5l3 5.6l.2 3.2l-96.5 0zM169.2 233.8l3.8-.3l4 .1l0 13.4l-24.6 0l.1-3.2l2.8-3.7l2.4-2.4l2-1.3l2.8-1.2z"/>
<path fill="#00ff2f" d="M53.2 15.5l123.8 0l0 112.5l-3.6 .1l-3.6-.2l-3.7-.6l-3.2-.8l-3.2-1.3l-2.8-1.6l-2.8-2l-2.4-2.1l-2-2.1l-2-2.5l-4.5-6.8l-5.2-9.5l-7.5-15.3l-.1-.2l-.1 .2l0 .4l.3 .4l.1 .8l.3 .4l0 .4l10.6 27.3l8.9 23.4l3.2 9l2.4 7.6l1.6 6.5l.4 3.6l-.2 2.1l-.4 2l-.6 1.6l-1.1 2l-2.1 2.6l-2.8 2.1l-3.2 1.3l-3.7 .7l-4 .1l-3.6-.7l-3.2-1.3l-3.2-2.1l-2.4-2.3l-2.5-2.8l-2.4-3.4l-2.4-4l-3.2-6l-4.4-8.9l-7.9-17.5l-.2-.3l-.1 .3l0 .4l.4 .4l.1 .8l.3 .4l0 .4l11.8 31.4l12.2 33.6l6.5 17.3l6.4 15.6l4 8.9l3.3 6l.1 3.2l-96.4 0zM103.4 125.6l0 .5l.2-.3zM103.8 126.5l0 .7l.3-.2zM104.2 127.4l0 .9l.3-.1zM129.6 81.4l0 .5l.1-.2zM130 82.2l0 .8l.2-.1zM168.6 234.6l4-.4l4.4 .1l0 12.7l-24.5 0l0-2.8l.1-.4l2.7-3.5l2-2l2-1.2l2.4-1l3.2-.9z"/>
<path fill="#00ff26" stroke="none" d="M53.2 15.5l123.8 0l0 109.7l-8-.1l-6.9-1.4l-6-2.8l-5.2-3.9l-4-4.5l-4.5-6.6l-5.2-9.4l-7.9-16l-.1-.3l-.1 .3l19 49.7l4.4 12.2l2.4 7.6l1.6 6.4l.4 4.3l-.5 3.7l-1.7 3.6l-2.2 2.5l-2.8 1.9l-3.7 1.5l-3.6 .6l-4 0l-3.6-.8l-3.2-1.4l-3.2-2.2l-4.5-4.7l-4.8-7.4l-7.2-14.1l-8.5-18.5l0 .8l14.5 38.6l16.3 44.9l7.6 18.8l4.5 9.7l3.1 5.6l.1 3.2l-96.3 0zM103 124.4l0 .8l.3-.2zM171.9 235l5.1 0l0 12l-24.5 0l.2-3.2l2.6-3.3l2.8-2.4l2.4-1.1l3.2-.9z"/>
<path fill="#00ff1e" d="M53.2 15.5l123.8 0l0 107l-4 0l-4-.2l-3.7-.5l-3.6-.8l-3.2-1.1l-2.8-1.4l-2.8-1.8l-2.8-2.2l-2-2l-2.1-2.3l-2-2.7l-2.4-3.8l-6.4-11.6l-6.8-13.9l-.2 .3l0 .4l.4 .4l.1 .8l17.8 46.1l4.4 12.1l2.4 7.3l2 7.8l.5 4.1l-.1 2.2l-.4 1.8l-.6 1.6l-1 1.9l-1.2 1.5l-1.2 1.2l-2.8 1.8l-3.3 1.3l-4 .7l-4-.1l-3.6-.7l-3.2-1.4l-3.2-2.1l-2.5-2.3l-2.4-2.9l-2-3l-2.4-4l-6-11.6l-9.5-20.8l-.2-.3l-.1 .3l0 .4l.4 .4l.1 .8l16.1 43l10.7 30l5.6 15.3l6.7 16.4l4.5 9.3l3.2 5.6l.1 3.2l-96.3 0zM101 119.5l0 .5l.2-.2zM101.4 120.4l0 .7l.2-.1zM101.8 121.4l0 .8l.3-.4zM127.6 76.4l0 .7l.2-.2zM128 77.3l0 .8l.2 0zM169.5 235.8l3.9-.2l3.6 .1l0 11.3l-24.4 0l0-2.8l.1-.4l2.2-2.7l2.4-2.1l2-1.1l2.8-.9l3.2-.7z"/>
<path fill="#00ff15" stroke="none" d="M53.2 15.5l123.8 0l0 104.2l-8.8-.2l-7.3-1.3l-6-2.3l-2.8-1.7l-2.8-2.2l-4.5-4.7l-4-5.8l-6.4-11.5l-6.8-13.9l-.2 .4l17.4 45.7l7.7 21.7l1.6 6.5l.5 4.7l-.5 4l-1.6 3.3l-2.4 2.5l-2.8 1.8l-3.7 1.3l-4 .6l-4-.2l-3.6-.8l-3.2-1.4l-3.2-2.3l-2.5-2.4l-2-2.5l-4.8-7.8l-5.6-10.9l-9.8-20.9l19 51.4l15.1 42.5l6.5 15.6l4.3 8.9l3.5 6l.1 3.2l-96.2 0zM100.2 117.4l0 .7l.2-.3zM100.6 118.3l0 .8l.3-.1zM126.8 74.4l0 .8l.2-.3zM127.2 75.3l0 .9l.3-.1zM167.2 236.6l5-.4l4.8 0l0 10.8l-24.4 0l.2-3.2l1.7-2.1l2-1.9l4-1.9z"/>
<path fill="#00ff0d" d="M53.2 15.5l123.8 0l0 101.4l-4.8 .1l-4.4-.3l-4.1-.5l-3.6-.7l-3.2-1l-3.2-1.5l-2.8-1.7l-2.8-2.1l-2.5-2.4l-2-2.3l-2-2.7l-2.4-3.8l-6-10.9l-7.3-14.6l-.1 .4l.2 .3l.2 .1l.1 .8l.3 .4l.1 .8l17.7 46.1l4.9 13.5l2.4 7.4l1.3 5.6l.3 2.8l.1 2.4l-.2 2l-.6 2l-.7 1.6l-1 1.5l-1.2 1.3l-1.2 1l-2.9 1.6l-3.6 1.1l-4 .5l-3.6-.1l-3.6-.9l-3.2-1.4l-2.9-1.9l-2.4-2.4l-2-2.4l-2.4-3.6l-2.8-4.8l-4.8-9.3l-9.9-21.5l-.2-.3l-.1 .3l.4 1.6l9.8 25.8l9.2 25.1l3.2 9.1l6.3 18.7l5.6 15.6l6.3 15.2l5 9.7l3.4 5.6l.1 3.2l-96.2 0zM98.6 113.4l0 .6l.2-.2zM99.4 115.3l0 .8l.3-.3zM99.8 116.2l0 .9l.3-.1zM124.7 69.8l0 .4l.2-.1zM125.1 70.6l0 .5l.2-.2zM125.6 71.5l0 .7l.2-.1zM168.4 237l4.2-.3l4.4 .1l0 10.2l-24.3 0l0-2.8l.1-.4l2.1-2.4l2-1.6l2-.9l2.4-.8l3.2-.6z"/>
<path fill="#00ff04" stroke="none" d="M53.2 15.5l123.8 0l0 98.7l-10-.2l-7.7-1.2l-3.2-1l-3.2-1.4l-5.6-3.7l-4.5-4.5l-4.4-6.4l-5.6-10l-7.7-15.3l0 .8l18.9 49.4l6.9 20.1l1.2 5.5l.1 4.4l-.8 3.6l-1.8 3.2l-2.3 2.3l-2.9 1.5l-3.6 1.1l-4 .5l-3.6-.2l-3.6-.8l-3.2-1.5l-2.9-2l-2.4-2.4l-2.4-3l-5.2-8.4l-4.4-8.7l-10.6-22.5l21 56.8l14.6 43.5l6.2 14.4l5.2 9.7l3.7 6l.1 3.2l-96.1 0zM124.7 69.5l0 .8l.3-.2zM169.7 237.4l7.3-.1l0 9.7l-24.2 0l.1-3.2l2-2.2l2-1.5l2-.9l3.2-.8z"/>
<path fill="#04ff00" d="M53.2 15.5l123.8 0l0 96l-5.2 0l-5.3-.3l-4.4-.4l-3.6-.7l-3.2-1l-3.2-1.3l-2.8-1.6l-2.8-2l-2.5-2.2l-2-2.2l-2-2.6l-2.4-3.6l-5.6-9.9l-4.4-8.7l-3.5-7.3l-.2-.3l0 .3l-.1 .4l.4 .4l.1 .8l10.9 28.1l7.2 19.2l4.5 12.5l2.8 8.8l1.2 5.2l.2 2.4l0 2l-.4 2l-.6 2.1l-.8 1.7l-1.2 1.7l-2.5 2.1l-2.8 1.5l-3.6 1.1l-4 .4l-3.6-.3l-3.2-.8l-3.3-1.5l-2.8-2.1l-2-1.9l-2.4-2.9l-2.4-3.5l-2.4-4.1l-7.2-14.4l-7.9-17.2l-.2-.3l-.1 .3l0 .4l.3 .4l.2 .8l15.3 40.9l7.2 20.1l2.4 7.3l5.5 18l5.2 15.6l5.7 12.8l6.3 10.9l3.3 5.2l.2 .4l0 2.8l-96.1 0zM96.6 108.3l0 .5l.1-.2zM97 109.2l0 .8l.2-.2zM97.4 110.2l0 .8l.2 0l0-.4zM123.1 65.7l0 .6l.2-.2zM123.5 66.6l0 .7l.2 0zM171.3 237.8l5.7 0l0 9.2l-24.2 0l0-2.8l.2-.4l1.9-2l2-1.4l2.4-1l3.2-.7l4.5-.6z"/>
<path fill="#0dff00" stroke="none" d="M53.2 15.5l123.8 0l0 93.2l-11.3-.2l-8-1.1l-3.6-1l-3.2-1.4l-5.7-3.6l-4.4-4.4l-4.4-6.2l-5.2-9.3l-7.9-15.8l-.2-.3l-.1 .3l17.8 46.9l4.4 12.4l3.3 10.1l1.2 5.2l.3 4.4l-1.1 4l-2 3.3l-2.5 2.2l-2.8 1.5l-3.6 1l-4 .4l-3.6-.2l-3.2-.8l-3.3-1.6l-2.8-2l-4.8-5.4l-4-6.4l-6.8-13.5l-9-19l.4 1.6l17.4 46.5l6.8 19.4l2.4 7.8l7.1 25.8l1.9 5.6l6.1 12.8l10.4 16.1l.2 3.2l-96 0zM96.2 107.1l0 .9l.3-.2zM122.3 63.7l0 .6l.2-.3zM122.7 64.5l0 .9l.3-.1zM166.1 238.6l10.9-.4l0 8.8l-24.1 0l.2-3.2l3-2.7l4-1.6z"/>
<path fill="#15ff00" d="M53.2 15.5l123.8 0l0 90.6l-11.7-.3l-4.4-.4l-4-.7l-3.6-1l-3.2-1.2l-2.8-1.6l-2.9-1.9l-2.4-2.1l-2-2.2l-2-2.5l-2.4-3.6l-5.2-9.2l-4.4-8.5l-3.9-8.1l-.2-.3l-.1 .3l0 .4l.4 .4l.1 .8l10.9 28.1l7.2 19.3l4 11.4l2.9 9.2l1.3 5.9l.2 2.4l0 2l-.3 1.6l-.6 1.6l-1 1.7l-1.3 1.5l-2.4 2.1l-2.8 1.5l-3.6 1.1l-4 .4l-3.6-.3l-3.2-.8l-3.3-1.6l-2.8-2l-2.4-2.3l-2-2.4l-2-3l-2-3.4l-6.4-12.6l-4.9-10.1l-4.6-10.3l-.2-.4l-.1 .4l18.2 48.9l8 23.3l2 7.2l1.6 7l2.5 11.8l1.2 7.3l1 3.6l1.1 2.4l6 10.4l3.9 4.9l8.2 11.6l.1 .4l0 2.8l-95.9 0zM94.2 102.3l0 .4l.1-.1zM94.6 103.2l0 .6l.1 0zM95 104.1l0 .8l.2-.3zM121.1 60.8l0 .6l.2-.2zM121.5 61.6l0 .8l.2-.4zM166 239l5.4-.4l5.6 0l0 8.4l-24 0l0-2.8l.2-.4l1.3-1.4l1.2-.9l1.6-.8l2.4-.7z"/>
<path fill="#1eff00" stroke="none" d="M53.2 15.5l123.8 0l0 87.9l-12.5-.3l-8.4-1l-3.6-1l-3.2-1.2l-5.7-3.4l-4.4-4.1l-4.4-6l-4.8-8.3l-8.9-17.6l-.1 .3l17.8 46.9l4 11.4l2.8 8.9l1.7 7l.3 4.1l-.7 3.8l-.9 1.7l-1.2 1.5l-2.4 2l-3.2 1.7l-3.6 1l-4 .4l-3.6-.2l-3.3-.9l-3.2-1.5l-3.2-2.3l-3.6-3.9l-4.4-7.1l-7.7-15l-8.4-18.3l-.1 .6l.4 .4l0 .8l18.6 49.7l8 23.6l1.6 6.2l1.3 7.1l.4 5.2l.1 6.5l-.6 3.2l-1.6 3.1l-2.4 2.2l-3.6 1.7l-4 .9l-6 .7l-18.6 .6l16.5 .6l8.9 .7l6.4 1.2l5.2 2l3.7 2.5l5.8 5.8l4.6 3.9l2.4 2.6l7.7 10l.1 3.2l-95.8 0zM120.3 58.7l0 .8l.3-.3zM120.7 59.6l0 .9l.3-.1zM165.7 239.4l11.3-.4l0 8l-24 0l.2-3.2l2.5-2.1l3.6-1.3z"/>
<path fill="#26ff00" d="M53.2 15.5l123.8 0l0 85.2l-12.9-.2l-4.8-.4l-4-.6l-3.6-.9l-3.2-1.2l-3.3-1.7l-2.8-1.9l-2.4-2.1l-2.4-2.6l-2-2.5l-2.4-3.7l-6-10.7l-7.7-15.4l0 .7l.4 .1l0 .8l.3 .4l0 .4l10.6 27.4l7.2 19.3l4 11.4l2.4 7.8l1.5 6.8l.3 2.8l0 2l-.2 2l-.7 2l-.9 1.7l-1.2 1.6l-2.4 1.8l-3.2 1.4l-3.6 .9l-4 .3l-3.6-.4l-3.3-.8l-2.8-1.4l-2.8-2l-2-2l-2.4-3.1l-4.4-7.3l-6.1-11.6l-9.1-19.6l-.1-.3l-.1 .3l0 .4l.1 .3l.2 .1l.1 .8l.3 .4l.5 1.6l13 34.5l6.8 18.9l4.8 14.3l2.4 8.3l.8 4.2l.2 2.4l0 4l-.4 2.8l-.7 2l-1.1 1.8l-1.6 1.4l-2 1l-4 .8l-6.8 .4l-52.7 .1zM91.8 96.3l0 .4l.1-.2zM92.6 98.1l0 .7l.2-.2zM93 99l0 .8l.2 0zM118.7 55l0 .4l.2-.2zM119.1 55.8l0 .7l.2-.1zM53.2 227.3l61.9 .1l8.8 .4l5.7 .8l3.6 1l2.8 1.2l2 1.3l2.8 2.3l3.6 3.9l4.4 5.5l.2 .4l0 2.8l-95.8 0zM172.4 239.4l4.6 0l0 7.6l-23.9 0l0-2.8l.2-.4l1.6-1.4l2-1l2.4-.7l4-.7l4.5-.4z"/>
<path fill="#2fff00" stroke="none" d="M53.2 15.5l123.8 0l0 82.6l-13.7-.3l-8.8-1l-6.8-2l-3.3-1.6l-2.8-1.8l-4.8-4.6l-4.4-6l-5.6-9.9l-8.2-16.1l.1 .8l17.7 46.2l4.4 12.6l2.4 7.8l1.4 6.4l.2 5.3l-.8 4l-1.1 2l-1.3 1.6l-2.4 1.8l-2.8 1.3l-3.6 .8l-4 .3l-3.2-.3l-3.3-.8l-2.8-1.3l-2.8-2.1l-4.4-5l-4.8-7.8l-6.9-13.3l-8-17.3l-.1 .3l20.2 54.9l4.8 14.1l2.8 9.5l1 5.4l-.2 4.6l-1.6 3.8l-1.2 1.2l-2 1.1l-4 .9l-6.4 .4l-52.7 .1zM91.8 96l0 .8l.2-.3zM92.2 96.9l0 .9l.3-.1zM118.3 53.8l0 .8l.3-.2zM53.2 230.6l0-.3l62.3 .1l10.1 .2l5.6 .6l3.2 .8l2.8 1.2l2.8 1.7l2.4 1.9l2.8 2.9l3.5 4.1l.2 3.2l-95.7 0zM170.2 239.8l6.8 0l0 7.2l-23.8 0l.2-3.2l3.1-2l5.6-1.4z"/>
<path fill="#37ff00" d="M53.2 15.5l123.8 0l0 79.9l-14.1-.2l-5.2-.4l-4-.6l-3.6-.8l-3.2-1.1l-3.3-1.6l-2.8-1.8l-2.4-1.9l-2.4-2.5l-2-2.4l-2.4-3.5l-5.6-9.8l-4.5-8.6l-3.9-8.2l-.1-.2l-.1 .2l0 .4l.4 .4l.1 .8l10.9 28.1l7.2 19.3l4 11.6l2.4 8.1l.8 3.8l.4 2.5l0 2.4l-.2 2.1l-.6 2.5l-.8 2l-.9 1.5l-1.5 1.6l-2.4 1.7l-3.2 1.3l-3.6 .7l-3.6 .1l-3.3-.5l-3.2-1.1l-2.8-1.6l-2.4-1.9l-2-2.2l-2-2.6l-2.4-3.6l-2.8-4.8l-6.1-11.6l-8.7-18.9l-.1-.2l-.1 .2l0 .4l.4 .4l0 .8l.3 .4l0 .4l14.7 39l5.2 14.4l4.4 12.9l3.2 10.8l.8 3.4l.4 2.6l0 2l-.2 2l-.6 1.5l-1 1.3l-1.4 1l-1.6 .7l-4 .9l-6.9 .3l-51.4 .1zM90.2 92.1l0 .6l.1-.2zM90.6 93l0 .7l.1-.4zM116.7 50l0 .6l.2-.2zM117.1 50.9l0 .7l.2-.4zM53.2 232.6l0-.2l62.7 0l9.7 .2l6 .6l3.2 .6l2.8 1l2.8 1.4l2.4 1.7l2.8 2.6l3 3.3l.2 .4l0 2.8l-95.6 0zM168.4 240.2l8.6-.1l0 6.9l-23.7 0l0-2.8l.8-.9l2-1.2l2-.6l2.8-.6z"/>
<path fill="#40ff00" stroke="none" d="M53.2 15.5l123.8 0l0 77.3l-14.5-.2l-9.2-.9l-3.6-.7l-3.7-1.2l-3.2-1.5l-2.8-1.8l-4.8-4.3l-4.8-6.4l-5.3-9.1l-8.3-16.7l-.1-.2l-.1 .2l17.8 47l4.4 12.6l2.4 8.2l1.1 6l-.1 4.4l-.6 2.2l-1.1 2.7l-2.5 3.2l-2.4 1.6l-2.9 1.2l-3.5 .7l-3.6 .1l-3.3-.5l-2.8-1l-2.8-1.5l-2.4-1.9l-4.8-5.6l-4.9-7.8l-6.8-13.3l-7.6-16.5l-.1 .7l.3 .4l19.5 52.8l4.8 14l2.8 9.3l1.6 7.1l.1 3.9l-.5 1.8l-.8 1.3l-1.2 1l-1.6 .8l-4 .8l-6.5 .3l-51.4 .1zM89.8 90.9l0 .8l.2-.4zM115.9 48l0 .6l.2-.2zM116.3 48.9l0 .8l.3-.1zM53.2 234.2l63.9-.1l9.3 .2l6 .5l3.6 .7l2.8 .9l4.8 2.7l4.9 4.7l.2 3.2l-95.5 0zM166.7 240.6l10.3-.2l0 6.6l-23.6 0l0-2.8l.7-.8l1.6-.9l4.4-1.2z"/>
<path fill="#48ff00" d="M53.2 15.5l123.8 0l0 74.7l-15.3-.2l-5.2-.4l-4.4-.5l-3.6-.8l-3.7-1.2l-3.2-1.5l-2.8-1.8l-2.4-1.9l-2.4-2.4l-2.4-3l-2.4-3.5l-2.8-4.8l-3.7-6.7l-7.2-14.6l-.1 .7l.4 .4l.1 .8l10.9 28l7.2 19.4l3.6 10.4l2.4 8.2l.8 3.7l.3 2.5l.1 2.4l-.3 2l-.7 2.4l-1 2l-1.2 1.7l-1.6 1.6l-2.4 1.7l-3.2 1.3l-3.2 .6l-3.7 0l-3.2-.6l-2.8-1l-2.8-1.7l-2.4-2l-2.4-2.5l-2-2.5l-2.4-3.7l-2.5-4.1l-6.8-13.3l-7.2-15.6l-.1 .8l.3 .4l.1 .8l19.4 52.1l4.8 14.1l2.4 8l1.6 7.3l.3 2.4l-.1 2l-.2 1.2l-.8 1.5l-1.2 1l-1.6 .8l-4 .8l-6.5 .4l-50.6 0zM88.2 87l0 .5l.1-.2zM88.6 87.9l0 .7l.2-.1zM89 88.8l0 .9l.2-.4zM114.7 45.1l0 .6l.2-.1zM115.1 46l0 .7l.2-.3zM53.2 235.8l0-.3l61.1 0l11.7 .2l6.8 .4l3.6 .6l2.8 .8l2.4 1l2.4 1.4l2.5 1.9l1.9 2l.2 .4l0 2.8l-95.4 0zM165 241l5.6-.3l6.4 0l0 6.3l-23.5 0l0-2.8l.6-.7l1.2-.7l1.6-.6l2-.5z"/>
<path fill="#51ff00" stroke="none" d="M53.2 15.5l123.8 0l0 72.1l-16.1-.2l-9.6-.9l-3.6-.7l-3.7-1.2l-3.2-1.5l-2.8-1.7l-4.8-4.2l-4.8-6.4l-6.5-11.4l-7.2-14.6l-.1 .8l18.2 47.6l3.6 10.4l2.4 8.1l1.2 6.5l-.3 4.4l-1.7 4.1l-2.8 3.2l-2.8 1.7l-2.8 1.1l-3.2 .6l-3.3 .1l-3.2-.5l-2.8-.9l-2.8-1.5l-2.8-2.2l-4.4-5l-4.5-7l-6-11.5l-8.5-17.9l19.8 53.8l7.2 22l1.6 7.3l.2 4.8l-.3 1.6l-.7 1.4l-1 1l-1.4 .7l-3.6 .8l-6.5 .4l-50.2 0zM87.4 84.9l0 .7l.2-.3zM87.8 85.8l0 .8l.2-.1zM113.9 43.1l0 .7l.2-.2zM114.3 44l0 .8l.3 0zM53.2 237l0-.4l59.5 0l13.3 .2l7.2 .4l6.4 1.2l4.8 2.2l3.9 3.2l.2 3.2l-95.3 0zM170.2 241l6.8 0l0 6l-23.4 0l0-2.8l.9-.8l1.6-.7l5.6-1.2z"/>
<path fill="#59ff00" d="M53.2 15.5l123.8 0l0 69.5l-16.5-.2l-5.2-.3l-4.4-.5l-4-.8l-3.3-.9l-3.2-1.4l-3.2-1.9l-2.8-2.2l-2.4-2.4l-2-2.4l-2.4-3.4l-2.9-4.6l-3.2-5.9l-7.6-15.3l-.1 .8l10.5 27.3l8.1 21.6l3.6 10.6l2 7.3l.8 5.4l0 2l-.4 2.3l-.8 2.1l-.8 1.6l-1.2 1.6l-1.6 1.5l-2.4 1.5l-3.2 1.1l-3.3 .6l-3.6 .1l-3.2-.5l-2.8-1l-2.8-1.5l-2.4-1.9l-2.4-2.4l-2-2.5l-4.5-7l-5.2-10l-4.4-9.1l-4.3-9.4l-.1-.3l-.2 .3l.5 1.6l19.8 53.4l4.4 13.1l2.4 8.1l1.3 6.1l.2 2.8l-.1 2l-.6 2l-.7 1.2l-.9 .9l-1.6 .8l-3.6 .8l-6.5 .4l-48.6 .1zM85.8 81l0 .4l.1-.1zM86.6 82.8l0 .8l.2-.3zM87 83.7l0 .9l.2-.1zM112.3 39.3l0 .4l.1-.1zM112.7 40.2l0 .6l.1 0zM113.1 41.1l-.1 .5l.1 .2l.3 .2l.1 .9l.4-.1zM53.2 237.8l0-.2l62.7 0l10.9 .1l6.8 .4l3.2 .4l3.2 .7l2.4 .8l2.4 1.2l1.7 1.1l1.7 1.5l.2 .4l0 2.8l-95.2 0zM166.6 241.4l10.4-.2l0 5.8l-23.2 0l0-2.8l.3-.4l1.2-.7l2-.6l2.4-.5z"/>
<path fill="#62ff00" stroke="none" d="M53.2 15.5l123.8 0l0 66.9l-17.3-.2l-9.6-.8l-7.3-1.6l-3.2-1.4l-3.2-1.8l-2.8-2.1l-2.4-2.4l-4.8-6.3l-6.1-10.6l-8.1-16l.4 1.6l17.8 46.5l4 11.6l2.4 8.4l.9 5.7l-.5 4.3l-1.7 3.7l-1.5 1.8l-1.6 1.4l-2.4 1.3l-3.2 1.1l-3.3 .5l-3.6 0l-3.2-.5l-2.8-1.1l-2.8-1.6l-2.4-1.9l-4.1-4.6l-4.8-7.7l-6.8-13.3l-7.2-15.7l-.2 .6l.5 .4l0 .8l21 56.6l6 18.9l1.3 6.4l.1 4.8l-.6 1.8l-.8 1.2l-1.2 1l-1.6 .8l-3.6 .7l-6.5 .4l-47 .1zM111.9 38.2l0 .7l.2-.1zM53.2 238.6l62.7-.2l18.1 .5l6.4 1l4.8 1.9l2.9 2l.2 3.2l-95.1 0zM164 241.8l13-.3l0 5.5l-23.1 0l0-2.8l.6-.6l3.6-1.1z"/>
<path fill="#6aff00" d="M53.2 15.5l123.8 0l0 64.3l-17.7-.2l-5.6-.2l-4.4-.5l-4.1-.7l-3.2-.9l-3.2-1.3l-3.2-1.8l-2.8-2.1l-2.4-2.3l-2.4-2.8l-2.4-3.4l-5.7-9.7l-4.4-8.6l-3.9-8.1l-.1-.2l-.1 .2l.1 .8l10.8 28l7.3 19.4l3.6 10.4l2.4 8.4l.9 5.6l0 2.4l-.4 2l-.7 2l-1 1.8l-1.5 1.8l-1.7 1.4l-2.5 1.4l-3.1 1.1l-3.3 .5l-3.6-.1l-3.2-.5l-2.8-1l-2.8-1.6l-2.4-2l-2-2l-2.5-3.1l-4.4-7.2l-6.8-13.3l-6.8-14.8l-.2 .7l.4 .4l.1 .8l.3 .4l0 .4l11.4 30.5l9.3 25.4l2.8 8.3l2.8 9.4l1.4 6.6l.2 2.4l-.1 2.1l-.4 1.6l-.7 1.2l-1.2 1.2l-1.6 .8l-3.6 .8l-6.5 .4l-46.2 .1zM84.2 76.8l0 .6l.1-.1zM84.6 77.7l0 .8l.1-.4zM110.3 34.4l0 .5l.2-.1zM110.7 35.3l0 .6l.1-.3zM111.1 36.1l0 .9l.3-.2zM53.2 239.4l0-.3l59.9 0l13.7 .1l7.6 .3l3.6 .4l2.8 .6l2.4 .7l2.4 1.1l2.1 1.3l.4 .6l0 2.8l-94.9 0zM168 241.8l9-.1l0 5.3l-22.9 0l0-2.8l.4-.4l.8-.4l2-.6l2.8-.4z"/>
<path fill="#73ff00" stroke="none" d="M53.2 15.5l123.8 0l0 61.7l-18.5-.1l-10-.8l-4.1-.7l-3.6-1l-3.2-1.3l-3.2-1.8l-2.8-2.1l-2.4-2.3l-4.9-6.3l-6.4-11.3l-7.6-15.4l-.1 .7l.3 .4l17.9 47.2l4 11.7l2 7l1 5.9l-.4 4.4l-1.8 3.8l-1.5 1.8l-1.7 1.4l-2.4 1.3l-3.3 1l-3.2 .5l-3.6 0l-3.2-.6l-2.8-1l-2.8-1.6l-2.4-1.9l-4.5-5.2l-4.4-7.1l-6.4-12.5l-6.8-14.8l-.2 .8l21.1 56.9l5.6 17.6l1.5 6.9l.1 4.3l-.4 1.6l-.8 1.4l-1.2 1.1l-1.6 .8l-3.7 .8l-6.4 .3l-45 .1zM83.3 74.7l0 .7l.2-.1zM83.7 75.6l0 .9l.3-.4zM109.5 32.4l0 .6l.2-.2zM53.2 239.8l65.1-.1l16.5 .4l6.8 1l4.4 1.6l2 1.5l0 2.8l-94.8 0zM164.3 242.2l12.7-.3l0 5.1l-22.7 0l0-2.8l.6-.5l3.6-.9z"/>
<path fill="#7bff00" d="M53.2 15.5l123.8 0l0 59.2l-18.9-.2l-5.6-.2l-4.8-.5l-4.1-.7l-3.6-1l-3.2-1.2l-3.2-1.8l-2.8-2.1l-2.4-2.2l-2.4-2.8l-2.5-3.4l-2.8-4.6l-3.6-6.6l-7.6-15.3l-.2 .7l.3 .4l.2 .8l11.3 29.2l6.9 18.4l3.6 10.7l2 7.4l.4 2.5l.3 2.8l-.2 2.4l-.5 2l-.8 1.8l-1.2 1.8l-1.6 1.6l-1.6 1.2l-2.5 1.2l-3.2 .9l-3.6 .5l-3.2-.1l-2.8-.6l-2.8-1l-2.8-1.6l-2.4-1.9l-2.1-2.1l-2-2.5l-4.4-7.1l-5.6-10.8l-8-17l-.1-.2l0 .2l0 .8l.6 1.2l.2 .8l10.5 28l8 22.1l4.9 14l2.4 8.1l1.5 7.2l.2 2.4l-.1 2l-.4 1.7l-.8 1.3l-1.2 1l-1.6 .7l-4.1 .8l-6 .3l-43.8 .1zM82.1 71.7l0 .6l.2-.2zM82.5 72.6l0 .8l.3-.1zM108.3 29.5l0 .5l.1-.1zM108.7 30.4l0 .6l.2-.3zM109.1 31.2l0 .9l.3-.2zM53.2 240.6l0-.4l55.5 0l17.7 .1l8.8 .3l4 .5l2.8 .5l2.4 .7l2.1 .8l1 .7l.3 .4l0 2.8l-94.6 0zM168.7 242.2l8.3-.1l0 4.9l-22.5 0l0-2.8l.8-.5l2-.6l2.8-.4z"/>
<path fill="#84ff00" stroke="none" d="M53.2 15.5l123.8 0l0 56.6l-19.7-.2l-10.4-.6l-7.7-1.6l-3.2-1.3l-3.2-1.7l-2.8-2l-2.8-2.6l-4.9-6.3l-6.4-11.2l-7.6-15.4l-.1 .7l18.6 48.8l3.6 10.6l2 7.2l.8 5.7l-.6 4l-.8 2l-1.3 2l-3.3 2.8l-2.5 1.2l-3.2 .9l-3.6 .4l-3.2-.1l-2.8-.5l-2.8-1l-2.8-1.6l-2.5-2l-4-4.6l-4.4-7.1l-5.2-10l-8-16.9l-.1-.2l-.1 .2l18.6 50.8l5.3 15l2.4 7.9l1.5 7.3l.2 4.4l-.5 2l-.7 1.2l-.9 1l-1.6 .8l-3.7 .8l-6 .4l-43.4 .1zM81.3 69.6l0 .7l.2-.2zM81.7 70.5l0 .9l.3-.1zM107.5 27.5l0 .6l.2-.2zM107.9 28.3l0 .8l.2-.4zM53.2 241l0-.3l59.9 0l22.5 .4l6.4 .8l4.5 1.4l1.1 .9l0 2.8l-94.4 0zM164 242.6l13-.3l0 4.7l-22.3 0l0-2.8l.6-.4l3.2-.7z"/>
<path fill="#8cff00" d="M53.2 15.5l123.8 0l0 54l-20.5-.1l-10.5-.7l-4-.6l-3.6-.9l-3.2-1.3l-3.2-1.6l-2.8-2l-2.8-2.5l-2.5-2.8l-2.4-3.4l-2.8-4.6l-3.6-6.5l-7.6-15.3l-.2 .7l.4 .4l.1 .8l10.1 26.1l7.7 20.5l3.6 10.5l2 7.1l.6 3.2l.2 2.5l0 2.1l-.5 2.3l-1 2.4l-1.3 1.8l-1.6 1.6l-2 1.3l-2.9 1.2l-3.2 .7l-3.2 .3l-3.2-.2l-2.8-.6l-2.8-1.1l-2.4-1.4l-2.5-2l-2-2.1l-2-2.5l-4.4-7.1l-6-11.7l-6.9-14.6l-.1 .7l.1 .4l11.3 30.1l8 22.2l4.5 12.9l2.4 8l1.2 6.2l.2 2.8l-.1 2l-.5 1.6l-.7 1.2l-.9 .9l-1.6 .9l-3.7 .8l-6 .4l-42.2 .1zM79.7 65.7l0 .5l.2-.1zM80.5 67.5l0 .8l.3-.2zM80.9 68.5l0 .9l.3-.1zM105.9 23.7l0 .4l.1-.2zM106.7 25.4l0 .8l.2-.3zM107.1 26.3l-.1 .8l.4 0zM53.2 241.4l0-.3l59.5 .1l14.9 0l8 .3l6.8 .8l4.1 1.2l.9 .7l0 2.8l-94.2 0zM168.1 242.6l8.9-.1l0 4.5l-22 0l0-2.8l.7-.4l4.4-.7z"/>
<path fill="#95ff00" stroke="none" d="M53.2 15.5l123.8 0l0 51.5l-20.9-.2l-10.9-.6l-4.4-.7l-3.6-1l-3.2-1.2l-3.2-1.7l-2.8-2l-2.9-2.6l-4.8-6.2l-6.8-11.9l-7.6-15.5l-.2 .5l.5 .4l0 .8l18.5 48.7l3.7 10.7l2 7.5l.5 5.3l-.7 4.1l-1 2l-1.2 1.6l-1.6 1.5l-2.1 1.3l-2.8 1.1l-3.2 .8l-3.2 .2l-3.2-.2l-2.8-.6l-2.8-1.1l-2.5-1.4l-2.4-2l-4-4.7l-4.4-7.2l-6.4-12.5l-6.9-14.7l-.1 .6l.4 .4l.1 .8l19.3 52.4l4.8 14.3l2.5 8.2l1 5.7l-.2 4.4l-1.2 2.5l-1.2 1l-1.7 .7l-3.6 .7l-6 .4l-40.6 0zM53.2 241.8l0-.3l57.9 0l24.9 .4l6 .6l4.5 1.2l.6 .5l0 2.8l-93.9 0zM163.2 243l13.8-.3l0 4.3l-21.6 0l0-2.8l.3-.2l2.4-.5z"/>
<path fill="#9dff00" d="M53.2 15.5l123.8 0l0 48.9l-21.7-.1l-10.9-.7l-4.4-.6l-3.6-.9l-3.2-1.2l-3.2-1.7l-2.8-2l-2.9-2.5l-2.4-2.7l-2.4-3.4l-3.2-5.2l-3.6-6.6l-7.6-15.4l0 .9l.2 0l.1 .8l.3 .4l.5 1.6l10.5 27.3l6.4 17.3l4.1 11.7l2 7.3l.4 2.6l.3 2.8l-.2 2.4l-.6 2.1l-1 2l-1.3 1.8l-2.1 1.7l-2 1.2l-2.8 1l-3.2 .7l-3.2 .2l-3.2-.3l-2.8-.7l-2.4-1l-2.5-1.5l-2.4-2l-2-2.1l-2-2.6l-4.4-7.2l-6.4-12.5l-6.5-13.9l-.1 .6l.4 .4l.1 .9l11.7 31.3l7.6 21.2l4 11.9l2.9 9.4l.8 3.5l.3 2.5l.1 2.2l-.3 1.8l-.5 1.6l-.8 1.2l-1.3 .9l-1.4 .7l-3.8 .8l-5.6 .3l-39.8 .1zM78.1 61.5l0 .7l.2-.2zM78.5 62.5l0 .8l.2-.5zM103.8 18.8l0 .4l.2-.1zM104.2 19.6l0 .6l.2-.3zM104.6 20.5l0 .8l.3-.2zM53.2 242.2l0-.3l67.1 0l15.3 .3l6.4 .5l4.3 1.1l.6 .4l0 2.8l-93.7 0zM166.6 243l10.4-.1l0 4.1l-21.2 0l0-2.8l.7-.3l4-.6z"/>
<path fill="#a6ff00" stroke="none" d="M53.2 15.5l123.8 0l0 46.3l-22.5-.1l-10.9-.6l-8-1.5l-3.2-1.2l-3.2-1.6l-2.8-1.9l-2.9-2.5l-2.8-3.2l-2.4-3.4l-6.8-11.9l-7.7-15.4l0 .6l.3 .4l.1 .8l18.1 47.5l3.7 10.6l2 7.3l.8 6l-.3 2.4l-.5 1.9l-1.2 2.1l-1.2 1.7l-1.9 1.6l-2.2 1.2l-2.8 1l-3.2 .6l-3.2 .2l-3.2-.3l-2.8-.7l-2.5-1l-2.4-1.5l-2.4-2l-4-4.8l-4.4-7.2l-6-11.8l-6.5-13.8l-.1 .7l19.4 52.7l4 12l2.8 9.4l1.3 5.8l0 4l-.4 1.3l-1 1.5l-1.1 1l-1.6 .8l-3.6 .8l-5.6 .3l-39 .1zM77.3 59.5l0 .7l.2-.2zM77.7 60.4l0 .8l.2 0zM53.2 242.2l67.5 0l15.7 .3l5.2 .4l4.3 .9l.6 .4l0 2.8l-93.3 0zM161.8 243.4l15.2-.4l0 4l-20.6 0l0-2.8l1.3-.4z"/>
<path fill="#aeff00" d="M53.2 15.5l123.8 0l0 43.8l-22.9-.2l-11.3-.5l-4.4-.7l-3.6-.8l-3.2-1.2l-3.2-1.6l-2.8-1.8l-2.9-2.5l-2.8-3.1l-2.4-3.3l-2.8-4.5l-3.6-6.5l-4-7.8l-4.1-8.3l-.1 .6l.4 .4l.1 .8l11.3 29.2l6.8 18.4l3.6 10.7l2.1 7.5l.4 2.8l.1 2.8l-.3 2l-.7 2l-1.1 2.1l-1.7 1.8l-1.7 1.4l-2.3 1.1l-2.8 .9l-3.2 .6l-3.2 .1l-2.8-.3l-2.8-.7l-2.5-1.1l-2.4-1.4l-2.4-2.1l-2-2.2l-2-2.7l-4-6.5l-5.6-10.9l-7.2-15.4l-.1-.1l-.1 .1l.1 .8l.6 1.2l.2 .8l10.5 28.2l7.2 20l4.4 13l2.8 9.3l1.6 7l.3 2.4l-.1 2l-.5 1.6l-.7 1.2l-1 .8l-1.6 .9l-3.6 .8l-5.6 .3l-38.2 .1zM76.1 56.5l0 .6l.2-.3zM76.5 57.4l0 .8l.3-.2zM102.6 15.6l0 .8l.2-.1zM53.2 242.6l0-.1l63.5 0l19.7 .2l5.2 .4l3.7 .7l.8 .4l0 2.8l-92.9 0zM164.3 243.4l12.7-.2l0 3.8l-20 0l0-2.8l1.9-.4z"/>
<path fill="#b7ff00" stroke="none" d="M53.2 15.5l49.2 0l18.3 48.6l3.2 9.5l2.1 7.3l.6 5.6l-.7 4l-1.2 2.2l-1.6 2l-2 1.5l-2.1 1.1l-2.7 1l-3.2 .6l-3.2 .1l-3.2-.3l-3.7-1.1l-3.6-1.9l-3.2-2.8l-2.8-3.4l-3.2-4.9l-3.6-6.6l-10.4-21.6l-.1-.2l-.1 .2l18.6 51l4 11.9l2.8 9.4l1.6 7.4l.2 4.2l-.4 1.6l-.7 1.2l-1.1 1.1l-1.6 .8l-3.6 .7l-5.6 .3l-37 .1zM75.3 54.4l0 .7l.2-.3zM75.7 55.3l0 .9l.3-.2zM102.7 15.5l74.3 0l0 41.2l-23.3-.1l-11.3-.6l-8-1.3l-3.2-1.1l-3.2-1.5l-2.9-1.7l-2.8-2.3l-2.8-3l-2.4-3.1l-6.4-10.8zM53.2 243l0-.3l82.8 .3l6.4 .4l2.8 .6l.3 .2l0 2.8l-92.3 0zM168.8 243.4l8.2 0l0 3.6l-19.1 0l0-2.8l3-.5z"/>
<path fill="#bfff00" d="M53.2 15.5l49 0l11.3 29.3l6.8 18.5l3.2 9.8l1.7 7l.4 2.7l-.1 2.1l-.4 2l-.7 2l-1.3 2l-2 1.9l-2 1.3l-2.4 1.1l-2.8 .7l-3.2 .4l-3.2 0l-2.9-.5l-3.6-1.2l-3.2-2l-3.2-2.9l-2.8-3.6l-3.2-5.1l-3.6-6.7l-4.5-8.9l-6.1-13l0 .4l.1 .3l.4 .1l-.1 .8l.4 .4l.1 .8l10.1 26.9l7.6 21.1l4.4 13l2.8 9.4l1.6 7.5l.2 2.4l-.1 2l-.5 1.7l-.8 1.3l-1.2 1.1l-1.5 .7l-3.7 .7l-5.6 .3l-35.4 .1zM73.7 50.5l0 .5l.2-.2zM102.9 15.5l74.1 0l0 38.6l-23.7-.1l-11.3-.5l-4.4-.5l-3.6-.7l-3.2-1l-3.2-1.4l-3.3-2l-2.8-2.2l-2.8-2.8l-2.4-3.1l-2.8-4.3l-3.2-5.6zM53.2 243l66.3 0l17.3 .2l5.6 .4l2.5 .6l0 2.8l-91.7 0zM161.8 243.8l6.8-.3l8.4 0l0 3.5l-18 0l0-2.8z"/>
<path fill="#c8ff00" stroke="none" d="M53.2 15.5l48.9 0l17 44.8l3.2 9.7l1.8 7.3l.4 4.8l-1 3.7l-1.2 2l-1.6 1.8l-2 1.5l-2.4 1.2l-2.8 .8l-3.2 .5l-3.2 0l-3.3-.4l-3.6-1.2l-3.2-1.8l-3.2-2.9l-2.8-3.5l-3.2-5l-3.6-6.7l-10.6-21.7l18.2 49.7l4.4 13l2.8 9.4l1.5 6.9l.1 4.9l-.4 1.6l-.8 1.5l-1.2 1.1l-1.6 .8l-3.6 .7l-5.2 .3l-34.6 .2zM72.9 48.4l0 .6l.2-.2zM103.1 15.5l73.9 0l0 36l-24.1-.1l-11.3-.4l-8-1.2l-6.4-2.2l-3.3-1.8l-2.8-2.1l-2.8-2.7l-2.4-2.9l-5.2-8.2zM53.2 243.4l0-.2l55.9 0l28.1 .2l4.8 .4l2 .4l0 2.8l-90.8 0zM164.3 243.8l12.7-.2l0 3.4l-16.5 0l0-2.8z"/>
<path fill="#d0ff00" d="M53.2 15.5l48.9 0l10.2 26.5l6.4 17.6l3.2 10.1l1.3 5.6l.2 2.8l-.1 2l-.4 2l-.7 1.6l-1.3 2l-1.8 1.8l-2 1.3l-2.4 1l-3.2 .9l-3.2 .3l-3.2-.1l-2.9-.5l-3.6-1.3l-3.2-2l-2.8-2.6l-2.8-3.5l-2.8-4.4l-3.7-6.6l-5.2-10.5l-5.1-11.1l-.1-.3l-.1 .3l0 .4l.3 .4l.1 .8l10.5 28.1l7.3 20l4.4 13.1l2.8 9.8l.8 3.8l.4 2.6l0 2.4l-.2 1.7l-.6 1.8l-.8 1.2l-1.2 1l-1.6 .7l-3.6 .7l-5.2 .3l-33 .1zM72.1 46.3l0 .7l.2-.2zM72.5 47.2l0 .8l.2 0zM103.3 15.5l73.7 0l0 33.4l-24.5-.1l-11.3-.4l-4.4-.4l-3.6-.6l-3.2-.9l-3.2-1.2l-3.3-1.7l-2.8-1.9l-2.8-2.5l-2.4-2.8l-2.4-3.3l-2.8-4.6zM53.2 243.4l68.3 0l15.7 .2l3.3 .2l2.3 .4l0 2.8l-89.6 0zM168.9 243.8l8.1 0l0 3.2l-14.6 0l0-2.8z"/>
<path fill="#d9ff00" stroke="none" d="M53.2 15.5l48.8 0l15.5 41.1l3.2 10l1.4 6.3l.2 4.4l-1.2 3.9l-1.4 2.1l-1.7 1.6l-2.1 1.3l-2.4 1.1l-2.8 .7l-3.2 .4l-3.3-.1l-2.8-.4l-3.6-1.3l-3.2-1.9l-2.8-2.6l-2.8-3.4l-3.2-5l-3.3-5.9l-5.2-10.4l-5-11l-.2-.4l-.1 .4l18.2 49.8l4.4 13.2l2.4 8.4l1.2 6.4l-.2 4l-.5 1.6l-.9 1.3l-1.2 1l-1.6 .7l-3.6 .8l-5.2 .3l-31.8 .1zM71.3 44.2l0 .8l.2-.2zM71.7 45.1l0 .9l.3 0zM103.6 15.5l73.4 0l0 30.8l-24.5 0l-11.7-.4l-8-1l-6.4-1.9l-3.3-1.5l-2.8-1.9l-2.8-2.4l-2.4-2.5l-4.8-7zM53.2 243.8l0-.2l83.6 .2l4.4 .4l0 2.8l-88 0zM165.3 244.2l11.7-.2l0 3l-11.7 0z"/>
<path fill="#e1ff00" d="M53.2 15.5l48.8 0l8.3 21.6l6 16.5l3.2 9.9l1.6 6.6l.2 2.4l0 2l-.4 2l-.6 1.6l-1.2 2l-1.6 1.7l-2 1.5l-2.7 1.2l-2.9 .8l-3.2 .4l-3.3 0l-2.8-.4l-3.6-1.2l-3.2-1.9l-3.2-2.8l-2.8-3.6l-2.8-4.3l-3.7-6.6l-5.2-10.5l-5.1-11.2l-.1-.2l-.1 .2l.1 .8l10 26.9l8.1 22.2l4 11.9l2.8 9.7l1.2 6.3l.1 2.4l-.2 1.6l-.5 1.6l-.8 1.2l-1 .9l-1.6 .8l-3.6 .8l-5.2 .4l-31 .1zM70.1 41.2l0 .7l.2-.3zM70.5 42.1l0 .9l.2-.2zM103.8 15.5l73.2 0l0 28.3l-24.9-.1l-11.7-.3l-8-.9l-3.2-.7l-3.2-1.1l-3.3-1.4l-2.8-1.8l-2.8-2.2l-2.4-2.4l-2.4-3.1l-2.4-3.6zM53.2 243.8l65.1-.1l15.7 .2l4.6 .3l0 2.8l-85.4 0zM172.4 244.2l3.2 0l0 2.8l-3.2 0z"/>
<path fill="#eaff00" stroke="none" d="M53.2 15.5l48.7 0l13.6 36.3l3.2 10l1.3 5.9l.2 4.4l-.4 2l-.8 2l-1.4 2l-1.7 1.6l-2 1.3l-2.8 1.1l-2.8 .7l-3.2 .4l-3.3-.1l-2.8-.5l-3.6-1.4l-3.2-2l-2.8-2.6l-2.8-3.6l-3.3-5.1l-4-7.5l-9.6-20.4l-.1 .8l18.6 50.4l4 11.9l2.4 8.4l1.2 6.2l0 4.1l-.4 1.4l-.8 1.5l-1.2 1l-1.6 .8l-3.2 .8l-5.3 .3l-30.1 .2zM69.3 39.1l0 .8l.2-.3zM104.1 15.5l72.9 0l0 25.7l-37-.3l-8-.9l-6.4-1.6l-3.3-1.4l-2.8-1.6l-2.8-2.1l-2.4-2.3l-4.8-6.3zM53.2 244.2l79.9 0l0 2.8l-79.9 0z"/>
<path fill="#f2ff00" d="M53.2 15.5l48.7 0l7.2 18.9l5.2 14.4l3.2 9.9l1.5 6.6l.2 2.4l-.1 2l-.4 1.9l-.8 1.9l-1.2 1.8l-2 1.9l-2 1.3l-2.4 1l-3.2 .8l-3.3 .3l-3.2-.1l-2.8-.6l-3.6-1.3l-3.2-2.1l-2.8-2.7l-2.8-3.6l-3.3-5.2l-3.6-6.8l-10.1-21l.1 .7l.3 .1l0 .8l.3 .4l.2 .8l10 26.9l7.3 20l4.4 13.1l2.4 8.3l1.2 5.9l.2 2.8l-.2 2l-.4 1.5l-.8 1.3l-1.2 1l-1.6 .8l-3.2 .7l-5.3 .4l-28.9 .1zM67.7 35.2l0 .6l.1-.2zM68.1 36.1l0 .7l.1 0zM104.5 15.5l72.5 0l0 23.2l-25.3-.1l-11.7-.2l-8-.7l-3.2-.6l-3.2-.9l-3.3-1.2l-3.2-1.7l-2.8-2l-2.4-2.1l-2.4-2.7l-2-2.7z"/>
<path fill="#fbff00" stroke="none" d="M53.2 15.5l48.6 0l11.7 31.4l2.8 8.7l1.6 6.8l.1 4.9l-1.1 3.6l-1.4 2l-1.7 1.6l-2.3 1.5l-2.4 .9l-2.8 .7l-3.3 .4l-3.2-.1l-2.8-.5l-3.6-1.3l-3.2-2l-2.8-2.6l-2.8-3.6l-2.9-4.4l-3.6-6.6l-10.5-21.7l18.2 49.7l4 12l2.4 8.2l1.3 6.7l0 4.4l-.5 1.5l-.8 1.2l-1.2 1l-1.6 .8l-3.2 .7l-5.3 .3l-27.7 .1zM66.9 33.1l0 .7l.2-.2zM104.9 15.5l72.1 0l0 20.6l-37.4-.3l-8-.6l-6-1.2l-3.3-1.1l-3.2-1.5l-5.2-3.8l-4.4-4.9z"/>
<path fill="#fffb00" d="M53.2 15.5l48.5 0l6.6 17.2l4.4 12.4l2.8 8.8l1.4 6.5l.2 2.4l-.1 2l-.5 2.1l-.8 1.6l-1.4 2l-1.6 1.5l-2.1 1.3l-2.7 1.1l-2.8 .7l-3.3 .3l-3.2-.1l-2.8-.5l-3.6-1.4l-3.2-2.1l-2.8-2.6l-2.9-3.6l-2.8-4.5l-3.2-5.9l-5.2-10.5l-5.1-11l-.1-.3l-.1 .3l-.1 .4l.4 .4l.1 .8l10.5 28.1l6.9 18.9l4.4 13.2l2.4 8.4l1.1 6l.1 2l-.2 2l-.6 1.6l-.8 1.2l-1.2 .9l-1.6 .7l-3.2 .7l-4.9 .3l-26.9 .1zM66.1 31l0 .8l.2-.3zM66.5 32l0 .8l.2 0zM105.3 15.5l71.7 0l0 18.1l-25.7 0l-11.7-.2l-8-.6l-6-1l-3.3-1l-2.8-1.2l-2.8-1.5l-2.4-1.8l-2.4-2.1l-2-2.2l-2.4-3.2z"/>
<path fill="#fff200" stroke="none" d="M53.2 15.5l48.5 0l9.8 26.6l3.2 10.2l1.2 5.7l0 4.4l-1.2 3.5l-1.2 1.8l-2 1.8l-2 1.3l-2.4 .9l-2.9 .7l-3.2 .4l-3.2-.1l-2.8-.4l-3.6-1.3l-3.2-2.1l-2.8-2.6l-2.9-3.5l-6-10.3l-10.3-21.4l-.1-.3l-.2 .3l17.4 47.6l4.1 11.9l2.8 9.6l1.1 6l0 4l-.3 1.3l-.8 1.5l-1.2 1.1l-1.6 .8l-3.2 .7l-4.9 .3l-26.1 .2zM65.3 29l0 .7l.2-.2zM65.7 29.9l0 .9l.3-.1zM105.9 15.5l71.1 0l0 15.6l-37.4-.2l-8-.5l-6-.9l-6.1-1.9l-5.2-3l-4.4-3.9z"/>
<path fill="#ffea00" d="M53.2 15.5l48.4 0l9.1 24.7l2.8 9l.8 3.2l.6 3.2l.1 2.4l-.2 2l-.5 1.9l-.8 1.7l-1.6 2.1l-1.6 1.4l-2.4 1.4l-2.4 .8l-2.9 .7l-3.2 .2l-3.2-.1l-2.8-.6l-3.2-1.2l-3.2-2.1l-2.8-2.6l-2.9-3.7l-2.8-4.4l-3.6-6.7l-5.2-10.5l-4.8-10.4l0-.1l-.1 .1l0 .8l10.1 27l7.2 19.9l4.1 11.8l2.8 9.5l1.3 6.5l.1 2.4l-.2 2l-.4 1.2l-.8 1.3l-1.2 1l-1.6 .8l-3.3 .7l-4.8 .3l-24.9 .2zM64.1 26l0 .6l.1-.3zM64.5 26.9l0 .8l.2-.2zM106.6 15.5l70.4 0l0 13.1l-37-.2l-8-.4l-6-.7l-5.7-1.5l-2.8-1.2l-2.4-1.3l-2.4-1.6l-2-1.7l-2-2z"/>
<path fill="#ffe100" stroke="none" d="M53.2 15.5l48.3 0l8.4 22.9l2.8 9.1l1.2 6.1l-.2 4l-1.4 3.6l-1.6 2l-1.6 1.4l-2.4 1.3l-2.5 .9l-2.8 .6l-3.2 .3l-3.2-.2l-2.8-.6l-3.2-1.3l-3.2-2.1l-2.9-2.7l-2.8-3.7l-3.2-5.2l-4-7.6l-9.2-19.5l-.1 .7l18.1 49.3l4.1 12l2.4 8.5l1 5.7l-.1 4l-.5 1.5l-.8 1.2l-1.2 .9l-1.6 .7l-3.3 .7l-4.4 .3l-24.1 .2zM63.2 23.9l0 .7l.3-.3zM107.7 15.5l69.3 0l0 10.5l-37-.1l-8-.3l-5.6-.6l-5.7-1.3l-4.8-1.9l-4.4-2.8z"/>
<path fill="#ffd900" d="M53.2 15.5l48.3 0l7.2 19.9l2.8 9l1.2 6l.2 2.4l-.2 2l-.4 1.7l-.9 1.9l-1.5 2l-1.6 1.4l-2.4 1.4l-2.5 1l-3.2 .7l-3.2 .2l-3.2-.2l-2.8-.6l-3.2-1.3l-3.2-2.2l-2.9-2.8l-2.8-3.8l-3.2-5.2l-3.6-6.8l-9.7-20.3l0 .7l.4 .1l0 .8l.3 .4l.1 .8l10.5 28.1l6.8 18.9l4.1 11.9l2.4 8.4l1.1 6.1l.1 2.5l-.1 1.6l-.6 1.6l-.8 1.2l-1 .8l-1.5 .7l-3.3 .7l-4.4 .4l-23.3 .1zM61.6 20l0 .5l.2-.2zM62 20.9l0 .7l.2-.1zM109.2 15.5l67.8 0l0 8l-36.2-.1l-8-.2l-5.6-.5l-5.3-.9l-4.8-1.5l-4-2z"/>
<path fill="#ffd000" stroke="none" d="M53.2 15.5l48.2 0l6.5 18l2.8 9.3l1 5.6l-.1 4l-1.4 3.6l-1.5 2l-1.6 1.4l-2.5 1.4l-2.4 .8l-2.8 .7l-3.2 .2l-3.2-.1l-2.8-.6l-3.2-1.3l-3.3-2.1l-2.8-2.7l-2.8-3.7l-6.4-11.2l-10.1-20.9l17.7 48.7l4 11.9l2.5 8.2l1.2 6.2l0 4.5l-.4 1.4l-.8 1.3l-1.2 1l-1.7 .7l-3.2 .7l-4.4 .3l-22.1 .2zM60.8 17.9l0 .6l.2-.2zM111.6 15.5l65.4 0l0 5.5l-35.4-.1l-13.2-.5l-4.9-.6l-4.4-1l-4-1.4z"/>
<path fill="#ffc800" d="M53.2 15.5l48.1 0l5.8 16.2l2.4 7.9l.8 3.5l.4 2.7l0 2.2l-.2 2l-.6 2l-.8 1.6l-1.6 2l-1.6 1.3l-2.5 1.4l-2.4 .8l-2.8 .6l-3.2 .3l-3.2-.2l-2.8-.7l-3.2-1.3l-2.9-1.8l-2.8-2.7l-2.8-3.6l-2.8-4.5l-3.6-6.6l-5.2-10.5l-4.7-10.2l-.2-.3l-.1 .3l0 .4l.3 .4l.2 .8l10.9 29.3l6.4 17.8l4 12l2.5 8.4l1 5.9l.1 2l-.2 2l-.5 1.5l-.8 1.1l-1.3 1l-1.6 .7l-2.8 .6l-4.4 .3l-21.3 .2zM60 15.8l0 .7l.2-.2zM60.4 16.7l0 .9l.2-.1zM115.6 15.5l61.4 0l0 3l-33 0l-12.8-.3l-4.8-.4l-4.1-.5l-3.6-.8z"/>
<path fill="#ffbf00" stroke="none" d="M53.2 15.5l48 0l4.7 13.2l2.8 9.3l.9 5.2l-.1 4.1l-.6 1.9l-1 2l-1.3 1.6l-2 1.6l-2.1 1.2l-2.7 1l-2.8 .6l-3.2 .2l-2.8-.2l-2.8-.6l-3.2-1.2l-3.3-2.2l-2.8-2.7l-2.8-3.6l-6-10.4l-9.9-20.6l-.2-.3l-.1 .3l17 46.5l4.4 13l2.4 8.3l1.2 6l.1 4.1l-.4 1.4l-.9 1.4l-1.2 1l-1.6 .8l-2.8 .6l-4.4 .4l-20.5 .2zM127.7 15.5l49.3 0l0 .5l-35.8-.1z"/>
<path fill="#ffb700" d="M53.2 15.5l6.4 0l.2 .4l13.5 36.6l6 17.3l2 6.3l1.6 5.9l.8 3.9l.3 3l-.1 2.4l-.8 2l-1.4 1.5l-2 1l-2.8 .6l-4.4 .3l-19.3 .2zM60.2 15.5l40.9 0l4.8 13.8l1.6 5.5l.8 3.6l.3 3.2l-.1 2.8l-.6 2.2l-1.2 2.2l-2.1 2.2l-2.7 1.8l-3.3 1.2l-3.6 .7l-3.6 .1l-3.6-.6l-3.2-1.1l-2.9-1.7l-2.4-2l-2-2.2l-2-2.6l-2.4-3.8l-6-11.2z"/>
<path fill="#ffae00" stroke="none" d="M53.2 15.5l6.3 0l.2 .4l12 32.4l6.8 19.6l3.2 10.8l.9 4.2l.4 3.6l-.2 2.4l-.9 2l-1.4 1.4l-2 .9l-2.8 .5l-4 .4l-18.5 .1zM60.3 15.5l40.6 0l4.6 13.3l1.9 8l.1 4.8l-.7 2.4l-1 2l-2 2.2l-2.4 1.7l-3.2 1.4l-3.6 .7l-3.6 .2l-3.6-.4l-3.3-1l-3.2-1.8l-2.4-2l-2-2.1l-4-5.6l-5.6-10.2z"/>
<path fill="#ffa600" d="M53.2 15.5l6.3 0l11.4 30.8l6.8 19.7l3.2 11l.8 4l.3 3.1l-.3 2.3l-.8 1.8l-1.2 1.3l-2 1l-2.8 .6l-4 .3l-17.7 .2zM60.5 15.5l40.3 0l3.8 11.6l1.7 6.6l.2 2.7l0 2.4l-.5 2l-.9 2.1l-2.1 2.5l-2.4 1.8l-2.8 1.3l-3.6 .8l-3.6 .3l-3.6-.3l-3.3-.9l-3.2-1.6l-2.4-1.8l-2-1.9l-2-2.5l-2-2.9l-5.2-9.2z"/>
<path fill="#ff9d00" stroke="none" d="M53.2 15.5l6.2 0l10.7 28.9l6.8 19.6l3.2 11.3l.9 6.4l-.4 2.4l-.8 1.6l-1.3 1.3l-2 .9l-2.8 .6l-4 .3l-16.5 .2zM60.7 15.5l40 0l3.1 9.8l1.5 6.6l.1 4.5l-1.2 3.6l-1.6 2.2l-2.4 2l-2.8 1.4l-3.2 .9l-4 .5l-3.6-.2l-3.3-.8l-3.2-1.4l-2.4-1.6l-2-1.9l-4-5l-4.8-8.2z"/>
<path fill="#ff9500" d="M53.2 15.5l6.1 0l10 26.9l6.4 18.5l3.2 11l.8 4.2l.2 2.8l-.2 2.1l-.8 1.9l-1.2 1.3l-2 1l-2.8 .6l-3.6 .4l-16.1 .2zM60.9 15.5l39.6 0l2.5 8.1l1.3 5.5l.2 2.4l-.1 2.1l-.4 2l-.7 1.6l-1.7 2.4l-2.2 1.9l-2.8 1.5l-3.2 .9l-3.6 .5l-3.6-.1l-3.3-.6l-3.2-1.3l-2.4-1.5l-2-1.7l-2-2.2l-2-2.6l-4.4-7.2z"/>
<path fill="#ff8c00" stroke="none" d="M53.2 15.5l6.1 0l9.6 26l6.4 18.7l2.8 10.1l.8 6.2l-.3 2.4l-.9 1.7l-1.2 1.1l-2 1l-2.8 .6l-3.6 .3l-14.9 .1zM61.1 15.5l39.2 0l1.9 6.5l1.1 5.1l.1 3.6l-.8 3.3l-1.4 2.4l-2.1 2l-2.5 1.5l-2.8 1.1l-3.6 .7l-3.6 .1l-3.7-.4l-3.2-1.1l-2.4-1.3l-2.4-1.8l-4-4.5l-4.4-7z"/>
<path fill="#ff8400" d="M53.2 15.5l6 0l10.1 27.4l5.6 16.7l2.4 9.2l.5 2.9l.1 2.8l-.4 2l-1 1.7l-1.2 1.1l-2 .8l-2.4 .5l-3.6 .4l-14.1 .2zM61.4 15.5l38.7 0l1.3 4.9l.9 4.7l0 3.2l-.6 2.8l-1.4 2.5l-1.9 2l-2.4 1.6l-3 1.2l-3.6 .7l-3.6 .2l-3.3-.4l-3.2-.9l-2.4-1.2l-2-1.3l-2-1.8l-2-2.2l-2-2.7l-2-3.2z"/>
<path fill="#ff7b00" stroke="none" d="M53.2 15.5l6 0l8.9 24.3l5.6 16.7l2.4 8.8l.6 3.6l.2 2.8l-.4 2.1l-.8 1.6l-1.2 1.1l-2 1l-6 .9l-13.3 .2zM61.7 15.5l38.1 0l1.5 7.6l0 2.4l-.4 2.4l-1.1 2.3l-1.7 2.2l-2.3 1.8l-2.8 1.3l-3.2 .9l-3.6 .3l-3.7-.1l-3.2-.8l-2.4-1l-2.4-1.4l-4-3.7l-4-5.6z"/>
<path fill="#ff7300" d="M53.2 15.5l5.9 0l8.6 23.5l5.2 15.6l2.4 9.1l.5 3.2l0 2.8l-.5 2l-.8 1.4l-1.2 1l-2 .9l-2.4 .5l-3.2 .3l-12.5 .2zM62 15.5l37.4 0l.9 5.2l0 2l-.3 2l-1 2.6l-1.6 2.2l-2 1.7l-2.4 1.4l-3.2 1l-3.2 .5l-3.7 .1l-3.2-.5l-2.4-.8l-2.4-1.1l-2.4-1.7l-2-1.8l-2-2.4l-2-2.8z"/>
<path fill="#ff6a00" stroke="none" d="M53.2 15.5l5.9 0l8.2 22.7l4.8 14.5l2.3 8.9l.4 5.3l-.3 1.7l-.8 1.6l-1.2 1.2l-2 .9l-5.6 .9l-11.7 .2zM62.4 15.5l36.5 0l.4 3.2l-.1 2.8l-.8 2.4l-1.4 2.4l-1.6 1.6l-2.4 1.6l-2.8 1.2l-3.2 .7l-3.7 .3l-3.2-.3l-2.8-.6l-2.4-1l-4.4-3.1l-4-4.6z"/>
<path fill="#ff6200" d="M53.2 15.5l5.8 0l7.5 20.7l4.8 14.7l2 7.9l.5 3.2l0 2.4l-.5 2.1l-.8 1.4l-1.2 1l-2 .9l-2.4 .5l-2.8 .3l-10.9 .2zM62.9 15.5l35.3 0l.1 2.4l-.5 2.4l-1.1 2.4l-1.7 2.1l-2 1.6l-2.4 1.3l-3.2 .9l-3.2 .5l-3.3 0l-2.8-.4l-2.4-.7l-2.4-1.1l-2.4-1.5l-2-1.8l-2-2.2l-2-2.7z"/>
<path fill="#ff5900" stroke="none" d="M53.2 15.5l5.7 0l7.6 21.1l4.4 13.8l1.6 7l.2 5l-.6 2l-.8 1.1l-1.2 1l-2 .8l-5.3 .7l-9.6 .2zM63.4 15.5l33.8 0l-.5 2.4l-.9 2.1l-1.4 1.9l-1.9 1.6l-2.3 1.4l-2.8 1l-2.8 .5l-3.3 .2l-5.2-.6l-2.4-.9l-2.4-1.3l-4-3.3z"/>
<path fill="#ff5100" d="M53.2 15.5l5.7 0l7.2 20.3l4 12.8l1.5 7l.2 2.4l-.2 2l-.4 1.6l-1.1 1.5l-1.3 .9l-1.9 .8l-4.9 .6l-8.8 .3zM64.2 15.5l31.5 0l-.9 2l-1.2 1.6l-1.4 1.4l-2 1.3l-2 1l-2.4 .7l-2.5 .4l-2.8 .2l-2.4-.1l-2.4-.4l-2-.6l-2-.9l-2-1.2l-2-1.6l-1.6-1.6z"/>
<path fill="#ff4800" stroke="none" d="M53.2 15.5l5.6 0l6.5 18.4l3.6 11.5l1.6 7l.3 2.8l-.2 2.4l-.5 1.6l-.9 1.2l-1.1 .9l-2 .8l-4.5 .7l-8.4 .3zM65.3 15.5l28.1 0l-2.4 2.6l-3.2 1.9l-4.1 1.2l-4.4 .4l-4-.4l-3.6-1.1l-3.2-1.9z"/>
<path fill="#ff4000" d="M53.2 15.5l5.5 0l5.8 16.4l3.6 11.7l.8 3.2l.7 4l.1 2.4l-.2 2l-.6 1.6l-.8 1.2l-1.2 .8l-2 .8l-4.5 .7l-7.2 .2zM67.2 15.5l22.9 0l-2.3 1.5l-2.8 1.1l-3.3 .7l-3.2 .3l-3.2-.2l-2.8-.7l-2.8-1.1z"/>
<path fill="#ff3700" stroke="none" d="M53.2 15.5l5.4 0l5.5 15.7l3.2 10.6l1.3 6.6l-.1 4.4l-.7 1.6l-.9 1.2l-1.3 .8l-1.9 .7l-4.1 .6l-6.4 .2zM70.9 15.5l13.4 0l-3.4 .8l-3.6 .3l-3.2-.3z"/>
<path fill="#ff2f00" d="M53.2 15.5l5.3 0l5.2 15l2.8 9.6l.8 3.7l.3 2.6l.1 2.3l-.3 1.7l-.7 1.6l-1 1.1l-1.6 .9l-1.7 .6l-3.6 .5l-5.6 .2z"/>
<path fill="#ff2600" stroke="none" d="M53.2 15.5l5.2 0l4.8 14.3l2.5 8.6l.9 5.6l-.3 4l-.6 1.4l-1.2 1.3l-3.3 1.3l-8 .7z"/>
<path fill="#ff1e00" d="M53.2 15.5l5.1 0l4.5 13.8l1.7 5.7l.8 3.7l.3 4.5l-.2 2l-.5 1.3l-.8 1.1l-1.3 .9l-1.6 .7l-1.6 .3l-6.4 .6z"/>
<path fill="#ff1500" stroke="none" d="M53.2 15.5l5 0l5 16.2l1.1 5.1l.3 3.2l-.5 3.5l-.9 1.2l-1.2 1l-3.2 1.2l-5.6 .6z"/>
<path fill="#ff0d00" d="M53.2 15.5l4.8 0l2.8 8.7l1.6 5.7l.9 4.1l.3 3.6l-.1 1.6l-.4 1.6l-.7 1.2l-1.2 1l-1.6 .8l-1.6 .5l-4.8 .5z"/>
<path fill="#ff0400" stroke="none" d="M53.2 15.5l4.7 0l3.7 12.7l.8 4.2l.2 2.8l-.6 3.1l-1.6 2l-2.8 1.3l-4.4 .6z"/>
<path fill="#ffffff" d="M53.2 15.5l4.5 0l1.9 6.3l1.2 4.7l.6 3l.2 2.9l-.1 1.6l-.4 1.6l-.6 1.2l-.9 .8l-1.2 .8l-1.2 .5l-4 .7z"/>
<path fill="#ffffff" stroke="none" d="M53.2 15.5l4.3 0l2.5 9.2l.6 5.2l-.4 2.9l-1.4 2.1l-2.4 1.4l-3.2 .6z"/>
<path fill="#ffffff" d="M53.2 15.5l4.1 0l1.9 7.6l.4 4.4l-.4 2.8l-.4 .9l-.8 1l-2 1.3l-2.8 .8z"/>
<path fill="#ffffff" stroke="none" d="M53.2 15.5l3.8 0l1.2 5.2l.4 4l-.2 2.4l-.9 2l-1.9 1.6l-2.4 .8z"/>
<path fill="#ffffff" d="M53.2 15.5l3.4 0l.8 3.6l.2 3.2l-.2 2.4l-.7 1.6l-1.5 1.5l-2 1z"/>
<path fill="#ffffff" stroke="none" d="M53.2 15.5l3 0l.4 4.4l-.1 2l-.6 1.6l-1.1 1.4l-1.6 1z"/>
<path fill="#ffffff" d="M53.2 15.5l2.4 0l.1 2l-.2 1.6l-.5 1.6l-.6 1l-1.2 1.1z"/>
<path fill="#ffffff" stroke="none" d="M53.2 15.5l1.4 0l-.4 2.4l-1 1.6z"/>
<path d="M149.5 244.2L59.0 15.4L56.2 16.5L146.2 245.6zM174.6 187.5L101.6 15.4L98.9 16.5L169.5 189.7zM151.3 243.7L174.5 187.0L171.6 185.8L149.2 242.9zM152.6 244.3L175.8 187.5L178.8 188.7L154.6 245.1z" fill="#595959" fill-opacity=".86" stroke="none"/>
<path d="M151.7 243.4L61.1 14.5M176.7 186.6L103.7 14.5" fill="none" stroke="#2e4a2e" stroke-opacity=".5" stroke-width="1.5"/>
<g fill="none" stroke-width="1.3" stroke-dasharray="3.2 1.2" stroke-opacity=".88">
<path d="M150.1 244.0L143.7 227.7" stroke="#00ffe1" stroke-dashoffset="0.0"/>
<path d="M143.7 227.7L137.2 211.3" stroke="#00fffa" stroke-dashoffset="4.4"/>
<path d="M137.2 211.3L130.7 195.0" stroke="#00fff3" stroke-dashoffset="4.4"/>
<path d="M130.7 195.0L124.3 178.6" stroke="#00ffd9" stroke-dashoffset="4.3"/>
<path d="M124.3 178.6L117.8 162.3" stroke="#00ffa8" stroke-dashoffset="4.3"/>
<path d="M117.8 162.3L111.3 145.9" stroke="#00ff78" stroke-dashoffset="4.3"/>
<path d="M111.3 145.9L104.9 129.6" stroke="#00ff48" stroke-dashoffset="4.3"/>
<path d="M104.9 129.6L98.4 113.2" stroke="#00ff1b" stroke-dashoffset="4.3"/>
<path d="M98.4 113.2L91.9 96.9" stroke="#17ff00" stroke-dashoffset="4.3"/>
<path d="M91.9 96.9L85.5 80.5" stroke="#4bff00" stroke-dashoffset="4.2"/>
<path d="M85.5 80.5L79.0 64.2" stroke="#80ff00" stroke-dashoffset="4.2"/>
<path d="M79.0 64.2L72.5 47.8" stroke="#b6ff00" stroke-dashoffset="4.2"/>
<path d="M72.5 47.8L66.0 31.5" stroke="#ecff00" stroke-dashoffset="4.2"/>
<path d="M66.0 31.5L59.6 15.1" stroke="#ffdb00" stroke-dashoffset="4.2"/>
<path d="M175.2 187.3L170.0 175.0" stroke="#0099ff" stroke-dashoffset="0.0"/>
<path d="M170.0 175.0L164.8 162.7" stroke="#00d5ff" stroke-dashoffset="0.2"/>
<path d="M164.8 162.7L159.5 150.4" stroke="#00feff" stroke-dashoffset="0.3"/>
<path d="M159.5 150.4L154.3 138.1" stroke="#00ffe4" stroke-dashoffset="0.5"/>
<path d="M154.3 138.1L149.1 125.8" stroke="#00ffbe" stroke-dashoffset="0.6"/>
<path d="M149.1 125.8L143.9 113.5" stroke="#00ff97" stroke-dashoffset="0.8"/>
<path d="M143.9 113.5L138.7 101.2" stroke="#00ff6e" stroke-dashoffset="0.9"/>
<path d="M138.7 101.2L133.5 88.9" stroke="#00ff51" stroke-dashoffset="1.1"/>
<path d="M133.5 88.9L128.3 76.6" stroke="#00ff28" stroke-dashoffset="1.2"/>
<path d="M128.3 76.6L123.1 64.3" stroke="#05ff00" stroke-dashoffset="1.4"/>
<path d="M123.1 64.3L117.9 52.0" stroke="#31ff00" stroke-dashoffset="1.5"/>
<path d="M117.9 52.0L112.6 39.7" stroke="#52ff00" stroke-dashoffset="1.7"/>
<path d="M112.6 39.7L107.4 27.4" stroke="#7aff00" stroke-dashoffset="1.9"/>
<path d="M107.4 27.4L102.2 15.1" stroke="#a7ff00" stroke-dashoffset="2.0"/>
<path d="M151.9 244.0L153.6 239.9" stroke="#00ffb5" stroke-dashoffset="0.0"/>
<path d="M153.6 239.9L155.2 235.9" stroke="#00fff1" stroke-dashoffset="4.4"/>
<path d="M155.2 235.9L156.9 231.8" stroke="#00ecff" stroke-dashoffset="4.4"/>
<path d="M156.9 231.8L158.6 227.8" stroke="#00d7ff" stroke-dashoffset="4.3"/>
<path d="M158.6 227.8L160.2 223.7" stroke="#00cbff" stroke-dashoffset="4.3"/>
<path d="M160.2 223.7L161.9 219.7" stroke="#00c4ff" stroke-dashoffset="4.3"/>
<path d="M161.9 219.7L163.5 215.6" stroke="#00beff" stroke-dashoffset="4.3"/>
<path d="M163.5 215.6L165.2 211.6" stroke="#00baff" stroke-dashoffset="4.3"/>
<path d="M165.2 211.6L166.9 207.5" stroke="#00b7ff" stroke-dashoffset="4.2"/>
<path d="M166.9 207.5L168.5 203.5" stroke="#00b4ff" stroke-dashoffset="4.2"/>
<path d="M168.5 203.5L170.2 199.4" stroke="#00afff" stroke-dashoffset="4.2"/>
<path d="M170.2 199.4L171.9 195.4" stroke="#00a5ff" stroke-dashoffset="4.2"/>
<path d="M171.9 195.4L173.5 191.3" stroke="#0087ff" stroke-dashoffset="4.2"/>
<path d="M173.5 191.3L175.2 187.3" stroke="#0008ff" stroke-dashoffset="4.1"/>
</g>
</g>
<use href="#fa" transform="translate(348.000 0) scale(-1 1)"/>
</g>
<rect x="56.20" y="18.50" width="235.60" height="225.50" fill="none" stroke="#000" stroke-width="1.25"/>
<path d="M56.20 244.00v4.3M70.93 244.00v2.4M85.65 244.00v2.4M100.38 244.00v2.4M115.10 244.00v4.3M129.82 244.00v2.4M144.55 244.00v2.4M159.28 244.00v2.4M174.00 244.00v4.3M188.73 244.00v2.4M203.45 244.00v2.4M218.18 244.00v2.4M232.90 244.00v4.3M247.62 244.00v2.4M262.35 244.00v2.4M277.08 244.00v2.4M291.80 244.00v4.3M56.20 244.00h-4.3M56.20 232.72h-2.4M56.20 221.45h-2.4M56.20 210.18h-2.4M56.20 198.90h-2.4M56.20 187.62h-4.3M56.20 176.35h-2.4M56.20 165.07h-2.4M56.20 153.80h-2.4M56.20 142.52h-2.4M56.20 131.25h-4.3M56.20 119.97h-2.4M56.20 108.70h-2.4M56.20 97.42h-2.4M56.20 86.15h-2.4M56.20 74.88h-4.3M56.20 63.60h-2.4M56.20 52.33h-2.4M56.20 41.05h-2.4M56.20 29.78h-2.4M56.20 18.50h-4.3" fill="none" stroke="#000" stroke-width="1.2"/>
<text class="tk" x="56.20" y="263.70" text-anchor="middle">-80</text>
<text class="tk" x="115.10" y="263.70" text-anchor="middle">-40</text>
<text class="tk" x="174.00" y="263.70" text-anchor="middle">0</text>
<text class="tk" x="232.90" y="263.70" text-anchor="middle">40</text>
<text class="tk" x="291.80" y="263.70" text-anchor="middle">80</text>
<text class="tk" x="48.90" y="248.60" text-anchor="end">0</text>
<text class="tk" x="48.90" y="192.22" text-anchor="end">5</text>
<text class="tk" x="48.90" y="135.85" text-anchor="end">10</text>
<text class="tk" x="48.90" y="79.47" text-anchor="end">15</text>
<text class="tk" x="48.90" y="23.10" text-anchor="end">20</text>
<text class="lb" x="45.00" y="280.90" textLength="254.3" lengthAdjust="spacingAndGlyphs">Translation t of dislocaiton center (b/2)</text>
<text class="lb" transform="translate(18.90 260.10) rotate(-90)" textLength="246.0" lengthAdjust="spacingAndGlyphs">The distance d between partials (nm)</text>
</g>
<g id="panel-b">
<clipPath id="cpb"><rect x="349.25" y="15.30" width="231.50" height="221.50"/></clipPath>
<g clip-path="url(#cpb)">
<clipPath id="hb"><rect x="348.25" y="14.30" width="117.75" height="223.50"/></clipPath>
<g id="fb" clip-path="url(#hb)" fill-rule="evenodd" stroke="#2e2e2e" stroke-width="0.55" stroke-linejoin="round">
<rect x="346.2" y="12.3" width="121.8" height="227.5" fill="#00ff75"/>
<path fill="#00ff6c" d="M346.2 12.3l121.8 0l0 227.5l-121.8 0zM432.2 159.8l-.3 .2l0 .4l1.9 8.5l2.1 6.9l2 5.9l8.4 20.6l2 3.8l2.4 3.3l.3-.5l-.1-1.6l-.6-3.2l-2-6l-5.2-14.4l-4.8-11.5zM464.8 226.9l-.8 .4l-.4 .7l-.2 1.8l.2 .8l.4 .6l.4 .3l.8 .1l.8-.4l.4-.5l.2-1.7l-.2-1.1l-.4-.6l-.5-.3z"/>
<path fill="#00ff63" stroke="none" d="M346.2 12.3l121.8 0l0 216.2l-.3-1.5l-.7-1.2l-1-.7l-1.2-.2l-1.2 .4l-.9 .9l-.5 1.2l-.2 1.6l.2 1.6l.5 1.2l.9 .9l1.2 .4l1.2-.2l1-.7l.7-1.2l.3-1.6l0 10.4l-121.8 0zM426.6 145.2l-.2 .3l.6 4.3l2.4 10.2l3.2 10.9l4.1 11.6l9.2 22.7l3.6 5.8l3.2 3.9l.4 0l0-5.1l-.8-4.5l-8-22.4l-8-18.7l-6.1-12.3z"/>
<path fill="#00ff5a" d="M346.2 12.3l121.8 0l0 212.2l-1.2-.7l-1.2-.3l-1.6 .1l-1.2 .4l-.8 .6l-.6 .8l-.4 1.2l-.2 1.6l.2 2l.4 1.2l.6 1.2l1.2 1l1.2 .4l1.6-.1l1.1-.5l.9-.9l0 7.3l-121.8 0zM423 135.5l-.4 .4l.4 4.5l.8 4.5l1.2 4.9l4.8 15.9l5.7 16.2l6.8 17.4l3.2 7.5l2 3.6l2.4 3.7l2 2.5l2.8 3.1l.7-2l0-2.4l-.5-4.4l-.7-3.6l-1.9-5.9l-6.4-17.4l-6-14.7l-7.3-15.9l-4.8-9.7z"/>
<path fill="#00ff51" stroke="none" d="M346.2 12.3l121.8 0l0 210.2l-3.2-.2l-3.4 .2l-2.2 .8l-.3 .9l1.2 6.4l1.6 2.8l1.5 1.1l1.6 .3l1.7-.2l1.5-.9l0 6.1l-121.8 0zM419.8 127.3l-.3 2.2l.4 4.4l2.3 10.5l6.4 20.3l6.9 19.1l7.6 19.4l3.2 6.9l4.4 7.2l5.6 6.5l.3 0l1.6-.9l.1-1.2l-2.7-13.2l-2.1-6.5l-7.2-19.4l-6.8-16.6l-8.5-18.8l-5.6-10.9z"/>
<path fill="#00ff48" d="M346.2 12.3l121.8 0l0 208.4l-1.2 .3l-1.6 .2l-2.8-.4l-1.6-.9l-1.1-1.4l-1.2-3.2l-3.4-11.2l-8.4-22.5l-6-14.8l-8.5-19.4l-6-12.3l-3.2-5.8l-2.4-3.8l-2.8-3.8l-.4 .1l-.1 .4l-.3 3.2l.4 3.7l1.2 5.8l2 7.4l2.8 8.9l9.6 27.8l10.5 26.7l2.8 5.8l2.8 5.1l2.8 4.1l4.8 5.6l1.4 2.3l1.8 3.6l.8 1.2l1.3 1.2l2 .8l2 0l2-.8l0 5.2l-121.8 0z"/>
<path fill="#00ff3f" stroke="none" d="M346.2 12.3l121.8 0l0 206.9l-2 .8l-2.4-.1l-1.9-1l-1.3-1.8l-1.4-3.4l-3.5-10.5l-9.2-24.4l-8.4-20.5l-7.7-17.3l-6.8-13.5l-6-9l-1.6-2.1l-.4 .2l-.5 4l.4 4.4l.9 4.5l5.6 18.8l10.8 31l10.9 27.7l3.6 7.4l2.8 5l2 2.8l4.8 5.7l3.7 6.1l1.2 1l2 .8l2.4 .1l2-.6l0 4.5l-121.8 0z"/>
<path fill="#00ff36" d="M346.2 12.3l121.8 0l0 205.4l-.8 .7l-1.2 .6l-1.2 .1l-.8-.2l-1.6-.8l-.8-.9l-.8-1.3l-1.3-3l-3.6-10.3l-10.8-28.4l-10.5-25.1l-6.4-14.2l-3.2-6.5l-2.8-5l-4-6.3l-3.2-4.3l-1.2-1.5l-.2 .1l-.5 2l-.2 2.4l.5 4.9l1.2 6l2 7.1l3.2 10.2l6.4 18.7l5.6 15.7l7.7 19.9l3.6 8.9l4 8.4l2.8 5l2.4 3.5l4.4 5.1l3.3 5.1l1.1 1.1l2.1 .8l2.4 .2l2.4-.6l0 4l-121.8 0z"/>
<path fill="#00ff2d" stroke="none" d="M346.2 12.3l121.8 0l0 204l-1.6 1.4l-2 .3l-1.6-.9l-1.6-2.2l-16.9-44.1l-10.1-24.1l-7.6-16.8l-3.2-6.3l-4-6.9l-7.7-10.6l-.4 1.7l-.2 3.2l.3 4.4l1.1 6.2l1.7 6.3l3.6 11.6l12.4 35.7l11.6 30.1l4.9 10.6l4 7.1l5.6 6.9l4.1 5.5l1.2 .8l3.1 .8l0 2.8l-118.5 0zM467.1 236.6l.9-.3l0 3.5l-2.7 0l0-2.8z"/>
<path fill="#00ff24" d="M346.2 12.3l121.8 0l0 202.6l-.8 1.1l-.8 .6l-.8 .4l-1.2 0l-.8-.4l-.8-.7l-1.5-2.2l-1.2-2.8l-10.6-28.3l-4.8-12.2l-10.1-24.2l-7.6-17.1l-3.2-6.4l-4-7.2l-3.2-5.2l-4.9-7.1l-2-2.7l-.4 .1l-.2 3.2l.2 5.2l.8 5.4l1.6 6.9l2.5 8.5l5.2 15.9l7.5 21.5l4.8 13.2l7 18.1l4.4 10.7l3.2 6.8l2.8 5.4l2.8 4.3l4.4 5.2l2.8 3.7l1.7 1.6l1.4 .8l0 2.8l-116 0zM467.8 237l.2-.1l0 2.9l-.2 0z"/>
<path fill="#00ff1b" stroke="none" d="M346.2 12.3l121.8 0l0 201.3l-.4 .6l-1.6 1.6l-1.6 .1l-1.4-1l-1.4-2l-17.3-44.8l-9.7-23.2l-7.6-17.2l-7.2-13.9l-8.5-13.8l-4-5.6l-.5 3l.2 4.4l1.1 7l1.6 7.2l2.8 10.2l7.7 23.2l12.3 34.2l8.4 21.7l6.2 13.2l4.8 8.1l7.1 8.4l2.1 2l0 2.8l-114.9 0z"/>
<path fill="#00ff12" d="M346.2 12.3l121.8 0l0 199.9l-.8 1.3l-1.2 1.2l-.8 .2l-.8-.1l-.8-.4l-.6-.7l-1.4-2.3l-13.1-34.2l-11-26.9l-9.3-21.3l-6-12.3l-8.4-15.2l-3.3-5.3l-2.8-4.1l-2.4-3.2l-.4 .3l-.3 2.9l.3 5.1l1.2 6.5l2.4 10l3.2 11.4l7.5 22.8l12.1 33.7l8.9 22.9l6.1 13.3l2.8 5.3l2.8 4.4l6.5 7.5l2.1 2l0 2.8l-114.3 0z"/>
<path fill="#00ff09" stroke="none" d="M346.2 12.3l121.8 0l0 198.5l-1.2 2l-1.2 .9l-1.2 0l-1.2-1l-1.5-2.6l-12.9-33.3l-11.3-27.7l-8.9-20.4l-6.4-13.3l-9.2-17.3l-6.1-9.7l-4-5.3l-.4 3.4l.2 4.4l1 6.1l6.8 25.6l7.9 24.1l12.1 34.1l9.2 23.7l6.1 13.2l3.3 6.2l2.8 4.3l8.1 8.8l0 2.8l-113.8 0z"/>
<path fill="#00ff00" d="M346.2 12.3l121.8 0l0 197l-1.6 2.6l-.9 .6l-1.1 0l-1.2-1.1l-1.2-2.2l-13.1-33.6l-11.2-27.3l-8.7-19.9l-7.2-15.1l-9.3-17.8l-3.6-6.3l-3.2-5.1l-2.8-4l-2-2.4l-.5 3.6l.3 5.2l1.4 7.3l2 7.8l5.2 18.4l2.8 9.1l5.4 16.4l12.1 34.5l9.6 24.5l5.8 12.4l3.6 6.9l2.9 4.5l2.5 3.1l5.5 5.6l0 2.8l-113.3 0z"/>
<path fill="#09ff00" stroke="none" d="M346.2 12.3l121.8 0l0 195.4l-2 3.2l-.8 .3l-1.2-.4l-2-3.1l-13.6-34.5l-12.8-30.9l-7.8-17.7l-12-24.6l-7.3-13.5l-6.4-10.1l-3.2-4.2l-.6 3.5l.4 5.6l1.4 7.4l7.6 27.3l8.7 27.5l12.4 36.1l9.6 24.5l5.7 12l3.9 7.2l3.1 5.1l2.8 3.6l5.1 5l0 2.8l-112.8 0z"/>
<path fill="#12ff00" d="M346.2 12.3l121.8 0l0 193.7l-1.2 2.3l-.8 1l-.8 .4l-.4 0l-.8-.5l-.8-1l-1.2-2.3l-2.8-6.7l-10.3-26.4l-13.3-31.7l-7.8-17.6l-13.6-28.1l-4.1-7.8l-3.6-6.5l-3.2-5.2l-3.6-5.4l-2.8-3.8l-.3 .2l-.1 .4l-.3 2.8l.3 4.8l.8 5l1.6 7l2.4 8.8l11 37l10.5 32.1l5.2 14.8l9.7 24.5l5.5 11.2l4.6 8.5l3.3 5.2l2.8 3.5l4.6 4.5l0 2.8l-112.3 0z"/>
<path fill="#1bff00" stroke="none" d="M346.2 12.3l121.8 0l0 191.9l-1.2 2.2l-1.2 1.3l-.8 .2l-.8-.5l-2.4-4.2l-12.3-30.8l-13.3-31.7l-7.2-16.1l-15.4-32.2l-7.3-13.8l-7.2-11.8l-4-5.6l-.4-.1l-.4 3l.1 4l.7 4.8l1.6 7.2l2.4 9l11.8 40l16.2 51.3l7.1 17.7l3.6 8l8.1 14.8l3.8 6.5l3.6 4.8l4.9 4.8l0 2.8l-111.8 0z"/>
<path fill="#24ff00" d="M346.2 12.3l121.8 0l0 189.8l-1.2 2.1l-1.2 1.3l-.8 .2l-.8-.5l-1.2-1.6l-1.2-2.4l-11.1-27.6l-14.5-34.1l-6.8-15.3l-18.3-38l-7.6-14.4l-3.6-6.1l-3.2-5l-4-5.5l-.4 1.2l-.1 2l.1 3.7l.4 3.6l1.2 5.7l1.6 6.6l3.2 11.5l6.4 21.4l12.5 43.5l2.4 9.5l2.6 12.1l1.5 5.2l1.7 4l5.3 11.3l3.9 7.6l5.1 7.9l6.9 11.8l3.1 4.8l3.2 4.1l4.5 4.3l0 2.8l-111.4 0z"/>
<path fill="#2dff00" stroke="none" d="M346.2 12.3l121.8 0l0 187.3l-1.2 2.1l-1.2 1.3l-.8 .1l-1.2-.9l-2-3.5l-9.9-24.3l-15.2-35.3l-6.4-14.1l-21.6-45l-8-15l-6.4-10.4l-3.7-4.9l-.3 .7l-.3 2.4l.6 7.2l2.1 9.7l3.6 13.2l10.8 36.8l4.8 18.5l2.5 11.8l.7 5.9l-.2 4.5l-.9 4.9l-3.5 11.1l-.3 2.8l.5 2.4l2.4 4l11.4 14.1l5 4.8l6.6 5l2.8 2.9l12.3 18.2l2.7 3.2l3.2 2.8l.2 .4l0 2.8l-110.9 0z"/>
<path fill="#36ff00" d="M346.2 12.3l121.8 0l0 183.9l-1.2 2.1l-1.2 1.2l-.8 .2l-.8-.5l-1.2-1.5l-1.2-2.3l-8.2-19.8l-15.7-35.3l-6.1-13.2l-23.5-49.2l-6-11.8l-5.2-9.3l-4.4-7l-4.1-5.3l-.2 .3l-.4 2l-.1 3.6l.7 5.2l1.2 5.7l4.5 16.3l10 33.8l2.4 9.3l2.4 11l.8 5l.2 3.6l-.2 2.9l-.8 3.1l-1.2 2.8l-1.6 2.8l-1.6 2.2l-1.8 1.8l-2.2 1.8l-2.4 1.5l-2.8 1.3l-3.2 1.1l-3.7 .9l-3.6 .7l-9.2 1.1l-12.1 .6l-17.3 .3zM346.2 202.5l29.8 .2l10.4 .4l8.5 .6l10.8 1.3l8.5 1.3l8 1.7l6.8 2l3.6 1.3l2.9 1.4l2.4 1.7l2.4 2.3l2.8 3.4l8.1 11.3l2.7 3l2.5 2.2l.3 .4l0 2.8l-110.5 0z"/>
<path fill="#3fff00" stroke="none" d="M346.2 12.3l121.8 0l0 178.7l-2 2.8l-.8 .4l-1.2-.4l-1.2-1.5l-1.2-2.1l-5.1-11.4l-23.3-49.7l-22.7-47.5l-8.4-17l-8-14.6l-3.7-5.5l-4-5.3l-.5 2.4l-.1 3.6l.4 4l1 5.3l4.1 15.1l11.2 37.9l2.8 11.4l.8 4.5l.5 4.9l-.1 3.6l-.5 2.4l-1 2l-1.3 1.7l-4 3.3l-5.2 2.7l-6.1 2l-6.8 1.3l-8.8 .9l-11.3 .5l-15.3 .3zM346.2 210.5l0-.4l20.1 .1l35.4 .5l15.3 1.1l6 .9l5.2 1.2l8.5 2.8l2.4 1.4l2.4 1.9l3.2 3.4l7.1 9.2l4.2 4l.3 .4l0 2.8l-110.1 0z"/>
<path fill="#49ff00" d="M346.2 12.3l121.8 0l0 167.2l-.8 .6l-1.6 .9l-1.2 0l-1.2-.6l-1.6-1.4l-2-2.3l-2.4-3.4l-5.3-8.6l-5.2-9.8l-22.1-44.6l-14.9-31.5l-10-20.4l-4-7.5l-3.2-5.5l-4.1-6.1l-4-5.6l-.4 .2l-.1 .9l-.2 4l.3 4l.9 4.8l1.1 5.1l2.4 8.9l11.7 39.3l2.4 8.9l1.2 5.9l.6 4.1l0 3.2l-.6 2.4l-.8 1.6l-1.2 1.4l-1.6 1.5l-2 1.4l-2.4 1.3l-2.4 1l-6.1 1.8l-6.8 1.2l-8.4 .7l-10.9 .5l-14.9 .2zM346.2 214.9l0-.3l25.4 .1l18.8 .1l13.3 .3l8.4 .4l7.3 .7l6.4 .8l5.6 1.1l4.1 1l3.2 1.2l2.4 1.3l2 1.5l2.8 2.8l6.3 7.5l3.4 3.2l.3 .4l0 2.8l-109.7 0z"/>
<path fill="#52ff00" stroke="none" d="M346.2 12.3l121.8 0l0 154l-2.4 .4l-2.8-.2l-2.4-.8l-2.4-1.3l-2.5-1.9l-2.4-2.5l-4.8-6.8l-8.8-15.4l-13.3-25.4l-21.3-44.8l-8.4-16.9l-7.3-12.5l-7.2-10.7l-.4 2.5l0 4l1.6 10l3.2 12.4l10.9 36.6l3.6 13.2l1.4 8l0 3.2l-.5 2l-.6 1.2l-1.1 1.3l-3.2 2l-4.8 1.8l-6.5 1.5l-6.8 1l-8.4 .7l-24.2 .6zM346.2 218.5l0-.3l6.1 0l53 .4l15.7 .8l12 1.7l6.9 1.8l2.4 1.1l2 1.4l2.4 2.3l5.9 6.5l2.6 2.4l.3 .4l0 2.8l-109.3 0z"/>
<path fill="#5bff00" d="M346.2 12.3l121.8 0l0 142l-3.6 .2l-3.6-.4l-3.2-1l-3.3-1.6l-3.2-2.3l-3.2-3l-3.2-3.7l-3.2-4.6l-3.2-5.1l-5.7-9.7l-7.2-13.6l-22.5-47.3l-7.6-15.3l-8.5-14.9l-3.6-5.6l-3.6-5.2l-.2 .3l-.2 2l.1 4l.6 4.5l.9 4.9l3.6 14.3l10.1 33.8l4 14.6l1.2 5.1l.6 3.9l.2 2.8l-.4 2.2l-.7 1.4l-.9 1.2l-2.8 1.9l-4.4 1.7l-5.7 1.3l-6.8 .9l-8 .6l-10.5 .4l-14.1 .2zM346.2 221.3l0-.3l39.4 .1l20.1 .2l16.1 .7l6.8 .7l5.6 .8l4.1 .8l2.8 .8l2.4 1.1l2 1.3l2 1.8l5.1 5.3l2.2 2l.3 .4l0 2.8l-108.9 0z"/>
<path fill="#64ff00" stroke="none" d="M346.2 12.3l121.8 0l0 131.1l-4.8 0l-4.4-.4l-4.9-1.2l-4-1.6l-3.2-1.8l-3.2-2.7l-2.8-3l-3.2-4.3l-5.7-8.6l-6.8-12.4l-25.3-53.1l-7.6-14.9l-8.1-14.3l-6.8-10.1l-.4 2.5l.1 3.2l1.5 9.4l4.4 17.3l9.3 31l4 14.5l2.2 10.5l.2 3.2l-.4 2.4l-1.2 2l-2.8 1.8l-4.5 1.6l-6 1.4l-6.4 .8l-8 .6l-23 .6zM346.2 223.3l62.7 .3l15.3 .7l11.7 1.2l6.4 1.4l4 2.1l8.2 7.6l.2 .4l0 2.8l-108.5 0z"/>
<path fill="#6dff00" d="M346.2 12.3l28.3 0l.1 3.2l.6 4l2.4 10.8l4.8 17.3l9.3 31.2l2.4 9l1.6 7.4l.6 5.4l-.1 1.6l-.3 1.6l-.6 1.4l-.8 1l-1.2 1l-1.6 .9l-2.9 1.1l-3.6 1l-4 .8l-4.8 .6l-12.1 .8l-18.1 .4zM377.4 12.3l90.6 0l0 122.5l-5.6 0l-5.7-.5l-5.2-1l-4.4-1.5l-3.6-1.8l-3.2-2.4l-3.2-3l-3.3-3.9l-5.2-8.2l-4.8-8.9l-8-16.5l-17.3-36.5l-8.5-16.6l-7.2-13.2zM346.2 225.4l0-.2l24.2 0l38.5 .2l15.7 .6l12.1 1.1l3.6 .6l2.8 .7l2 .8l2 1.2l7 6.2l.3 .4l0 2.8l-108.2 0z"/>
<path fill="#76ff00" stroke="none" d="M346.2 12.3l26.5 0l1.3 6.7l2 7.8l13.6 46.7l2.5 9.1l1.5 7.1l.4 5.3l-.6 3.6l-1.7 2.3l-3.3 2.1l-6.4 2.1l-8.4 1.4l-11.3 .8l-16.1 .4zM379.1 12.3l88.9 0l0 115.2l-6.4 0l-6.5-.5l-6-.9l-4.8-1.2l-3.6-1.5l-2.8-1.7l-2.8-2.5l-2.9-3.3l-4.4-6.5l-4.4-8.1l-31.3-64.9l-7.7-14.8zM346.2 227l0-.3l62.3 .2l16.5 .5l12.1 1l6.4 1.1l4 1.9l6.3 5.2l.2 .4l0 2.8l-107.8 0z"/>
<path fill="#7fff00" d="M346.2 12.3l25.3 0l3.7 13.8l12.8 43.6l2 7.7l1.3 5.7l.4 3l.2 2.8l-.2 2l-.4 1.6l-.7 1.3l-1 1l-1.6 1.2l-2 1.1l-2.8 1.1l-3.6 1.1l-3.6 .7l-4.4 .7l-10.5 .8l-14.9 .5zM380.3 12.3l87.7 0l0 109.6l-7.2 0l-6.9-.4l-6-.8l-5.2-1.1l-3.6-1.4l-2.8-1.6l-2.9-2.2l-2.8-3.1l-2-2.7l-2.4-3.9l-6.8-12.8l-7.7-15.5l-12.8-27.2l-8-16.6l-6.5-12.8zM346.2 228.2l36.2-.1l28.1 .2l15.7 .4l11.3 .9l6.4 1l2 .6l2 1.1l5.5 4.3l.3 .4l0 2.8l-107.5 0z"/>
<path fill="#88ff00" stroke="none" d="M346.2 12.3l24.5 0l14.9 50.8l3.6 14.8l.6 5.4l-.6 3.4l-1.6 2.3l-3.2 2.1l-6 2.1l-8 1.4l-10.1 .9l-14.1 .5zM381.4 12.3l86.6 0l0 104.5l-14.5-.4l-6.4-.8l-5.2-.9l-3.6-1.1l-3.2-1.5l-2.9-2l-2.4-2.5l-5.2-7.7l-7.6-14.1l-27.8-57.8zM346.2 229.4l64.7 0l15.7 .4l11.7 .8l6.4 1l4 1.7l4.4 3.3l.2 .4l0 2.8l-107.1 0z"/>
<path fill="#91ff00" d="M346.2 12.3l23.9 0l13.1 44.2l2.4 8.9l1.6 7.4l.5 4.9l-.1 1.6l-.4 1.7l-.8 1.5l-.8 .9l-2.8 1.8l-2.4 1.1l-3.2 1l-3.6 .8l-4 .7l-9.7 .9l-13.7 .5zM382.2 12.3l85.8 0l0 99.6l-8 0l-7.3-.4l-6.4-.6l-5.6-1l-3.6-1l-3.3-1.4l-2.8-2l-2.4-2.5l-2.8-3.6l-3.2-5l-3.6-6.4l-4-7.6l-6.1-12.2l-21.7-45.7zM346.2 230.6l0-.3l62.3 .1l17.7 .4l12.5 .7l6 .8l2 .6l2 .9l4 2.8l.3 .4l0 2.8l-106.8 0z"/>
<path fill="#9aff00" stroke="none" d="M346.2 12.3l23.3 0l10.9 36.2l3.2 11.8l1.6 7.4l.5 4.8l-.5 3l-1.4 2.2l-2.6 1.8l-5.6 2.1l-7.3 1.5l-9.2 .9l-12.9 .6zM382.9 12.3l85.1 0l0 94.7l-15.7-.4l-6.8-.7l-5.6-1.1l-4.4-1.2l-3.3-1.5l-2.8-2l-2.8-2.7l-2.8-3.6l-3.2-4.9l-7.6-13.8zM346.2 231.4l63.9-.1l16.5 .3l12.5 .7l6.4 .8l3.6 1.4l3.5 2.5l0 2.8l-106.4 0z"/>
<path fill="#a3ff00" d="M346.2 12.3l22.9 0l9.3 30.8l3.2 12.1l1.5 7.3l.4 4.4l-.1 1.6l-.3 1.6l-.7 1.3l-.8 1l-2.4 1.7l-2.4 1l-2.8 1l-6.9 1.4l-8.8 1l-12.1 .6zM383.6 12.3l84.4 0l0 89l-8.4 0l-7.7-.4l-6.8-.6l-6-1l-4.5-1.2l-3.6-1.4l-3.2-2l-2.8-2.5l-2.8-3.3l-2.8-4.1l-3.6-6l-3.7-6.7l-5.2-10.5l-9.2-19.2zM346.2 232.2l0-.2l63.1 .1l16.9 .3l12.5 .5l6.4 .7l2 .5l2 .8l2.4 1.4l.8 .7l0 2.8l-106.1 0z"/>
<path fill="#acff00" stroke="none" d="M346.2 12.3l22.4 0l8.6 28.4l2.4 9.4l1.4 7.1l.4 4.5l-.5 2.8l-1.3 2.1l-2.4 1.8l-5 2.1l-6.7 1.5l-8.4 1l-10.9 .6zM384.2 12.3l83.8 0l0 83.2l-17.3-.4l-7.2-.6l-6-.9l-4.9-1.2l-3.6-1.4l-2.8-1.6l-2.8-2.3l-2.8-3.1l-2.8-4l-6.9-11.8l-12.8-26.1zM346.2 233l0-.3l61.5 .1l18.9 .2l12.5 .6l6.4 .6l4 1.3l2.4 1.5l0 2.8l-105.7 0z"/>
<path fill="#b5ff00" d="M346.2 12.3l22 0l7.8 26.1l1.6 6.4l1.2 6.4l.4 4.4l-.4 3.1l-.4 1l-.8 1.1l-2.4 1.9l-2 1l-2.8 1l-6.1 1.5l-8 1.1l-10.1 .6zM384.7 12.3l83.3 0l0 77.6l-9.6 0l-8.5-.3l-7.2-.6l-6.4-.9l-4.9-1.1l-4-1.3l-3.2-1.8l-2.8-2.2l-2.8-3.1l-2.8-3.9l-2.8-4.6l-3.7-6.5l-11.2-22.6zM346.2 233.4l66.3 0l15.3 .3l11.3 .4l6.8 .7l2 .4l2 .8l1.2 .6l.3 .4l0 2.8l-105.2 0z"/>
<path fill="#beff00" stroke="none" d="M346.2 12.3l21.5 0l6.7 22.4l2.4 11.3l.3 4l-.4 2.8l-1.1 2.1l-2.4 2l-4.4 2l-6.1 1.5l-7.2 1.1l-9.3 .6zM385.2 12.3l82.8 0l0 72.1l-18.5-.3l-14-1.4l-5.3-1l-4-1.2l-3.2-1.5l-2.8-2l-2.8-2.8l-2.8-3.7l-6.5-10.8l-10-19.8zM346.2 234.2l0-.3l61.1 .1l32.2 .7l6.4 .5l4 1.1l1 .7l0 2.8l-104.7 0z"/>
<path fill="#c7ff00" d="M346.2 12.3l21.1 0l5.5 18.9l1.2 4.9l.9 5.1l.2 3.2l-.3 2.6l-.4 1l-.8 1.2l-1.6 1.5l-2 1.1l-2.5 1l-5.6 1.7l-6.8 1.1l-8.9 .7zM385.8 12.3l82.2 0l0 66.7l-10.4 0l-9.3-.3l-7.6-.5l-6.5-.7l-5.2-1l-4.4-1.2l-3.2-1.5l-2.8-1.9l-2.4-2.3l-2.8-3.4l-3.3-4.9l-3.2-5.6l-8.8-17.1zM346.2 234.6l0-.1l63.5 0l17.3 .2l12.5 .4l6.4 .5l2 .4l1.9 .6l.6 .4l0 2.8l-104.2 0z"/>
<path fill="#d0ff00" stroke="none" d="M346.2 12.3l20.6 0l4.4 15.4l1.8 9.1l.1 2.8l-.3 2.4l-.8 1.6l-1.2 1.2l-3.7 2l-5.6 1.7l-6.8 1.3l-8.5 .8zM386.3 12.3l81.7 0l0 61.4l-19.7-.3l-14.5-1.2l-5.6-.9l-4.4-1.1l-3.6-1.5l-2.8-1.7l-2.8-2.5l-2.9-3.3l-6-9.4l-7.6-14.4zM346.2 235l66.8 0l26.9 .6l5.6 .4l3.5 .6l.6 .4l0 2.8l-103.4 0z"/>
<path fill="#d9ff00" d="M346.2 12.3l20.1 0l3.3 12.3l.8 3.8l.5 3.6l.1 2.8l-.4 2l-.6 1.5l-1.2 1.3l-1.7 1.1l-1.8 .9l-5 1.6l-6.4 1.2l-7.7 .8zM386.8 12.3l81.2 0l0 55.8l-20.5-.3l-7.6-.4l-6.9-.6l-5.6-.9l-4.8-1.1l-3.6-1.3l-3.2-1.8l-2.8-2.3l-2.9-3.2l-2.8-3.9l-3.6-5.9l-3.2-5.7l-3.6-7.1zM346.2 235.4l67.6 .1l26.1 .5l6 .4l2.4 .5l.3 .1l0 2.8l-102.4 0z"/>
<path fill="#e2ff00" stroke="none" d="M346.2 12.3l19.5 0l2.2 9.6l.8 5.2l-.4 4.1l-.7 1.6l-.9 1l-3.2 2.1l-4.4 1.7l-5.6 1.3l-7.3 .9zM387.3 12.3l80.7 0l0 50.2l-21.3-.3l-14.9-1l-6-.8l-4.8-1.1l-3.6-1.2l-3.2-1.7l-2.9-2.2l-2.4-2.5l-2.8-3.6l-3.2-4.9l-6.4-11.8zM346.2 236.2l0-.4l43.8 0l48.7 .5l6.1 .3l2.1 .4l0 2.8l-100.7 0z"/>
<path fill="#ebff00" d="M346.2 12.3l18.7 0l1 5.4l.5 4.2l-.3 3.2l-1 2l-1.1 1.2l-1.3 .9l-2 1.1l-2.4 1l-5.2 1.5l-6.9 1.1zM387.9 12.3l80.1 0l0 44.6l-21.7-.3l-8-.4l-6.9-.5l-6-.8l-5.2-1l-4-1.1l-3.2-1.5l-2.9-1.8l-2.4-2.2l-2.4-2.8l-2.8-4l-2.8-4.7l-3.2-6zM346.2 236.2l65.5 0l26.2 .4l5.1 .4l0 2.8l-96.8 0z"/>
<path fill="#f4ff00" stroke="none" d="M346.2 12.3l17.5 0l.3 4.4l-.8 3.2l-.9 1.5l-1.2 1.1l-3.6 2.2l-4.8 1.6l-6.5 1.3zM388.5 12.3l79.5 0l0 39l-22.1-.3l-15.3-.8l-11.6-1.6l-4.4-1.1l-3.3-1.3l-2.4-1.4l-2.4-1.9l-2.4-2.7l-2.4-3.3l-5.6-9.5zM346.2 236.6l64.3 0l21.3 .3l1.7 .1l0 2.8l-87.3 0z"/>
<path fill="#fdff00" d="M346.2 12.3l15.3 0l-.6 1.6l-.9 1.2l-1.3 1.2l-1.6 1l-2.4 1.2l-2.4 .9l-6.1 1.6zM389.2 12.3l78.8 0l0 33.7l-22.9-.2l-15.3-.7l-6.4-.6l-5.2-.8l-4.4-1l-3.3-1.1l-2.4-1.2l-2.4-1.8l-2-1.9l-2.4-3l-2.4-3.5l-2.8-4.7z"/>
<path fill="#fff800" stroke="none" d="M346.2 12.3l6.6 0l-6.6 2zM390 12.3l78 0l0 28.5l-23.3-.2l-15.3-.6l-11.2-1.3l-8.1-2l-2.8-1.2l-2.4-1.5l-4.4-4.4l-4.4-6.3z"/>
<path fill="#ffef00" d="M390.9 12.3l77.1 0l0 22.9l-22.5-.1l-15.3-.6l-11.6-1.1l-4.4-.8l-4.1-1l-2.8-.9l-2.4-1.2l-2.4-1.6l-2-1.8l-2-2.2l-2.4-3.3z"/>
<path fill="#ffe600" stroke="none" d="M392.3 12.3l75.7 0l0 17.1l-22.1-.2l-14.9-.4l-11.2-.9l-8.9-1.5l-6-1.9l-4.4-2.6l-4-3.9z"/>
<path fill="#ffdd00" d="M394.4 12.3l73.6 0l0 10.9l-20.1-.1l-14.1-.3l-10.8-.6l-8.4-.9l-7.3-1.5l-5.2-1.8l-2-1l-2-1.4l-2-1.6z"/>
<path fill="#ffd400" stroke="none" d="M400.5 12.3l67.5 0l0 4.6l-28.1-.2l-17.3-.6l-13.3-1.5l-4.8-1z"/>

</g>
<use href="#fb" transform="translate(930.000 0) scale(-1 1)"/>
</g>
<rect x="349.25" y="15.30" width="231.50" height="221.50" fill="none" stroke="#000" stroke-width="1.25"/>
<path d="M349.25 236.80v4.3M363.72 236.80v2.4M378.19 236.80v2.4M392.66 236.80v2.4M407.12 236.80v4.3M421.59 236.80v2.4M436.06 236.80v2.4M450.53 236.80v2.4M465.00 236.80v4.3M479.47 236.80v2.4M493.94 236.80v2.4M508.41 236.80v2.4M522.88 236.80v4.3M537.34 236.80v2.4M551.81 236.80v2.4M566.28 236.80v2.4M580.75 236.80v4.3M349.25 236.80h-4.3M349.25 225.73h-2.4M349.25 214.65h-2.4M349.25 203.58h-2.4M349.25 192.50h-4.3M349.25 181.43h-2.4M349.25 170.35h-2.4M349.25 159.28h-2.4M349.25 148.20h-4.3M349.25 137.12h-2.4M349.25 126.05h-2.4M349.25 114.98h-2.4M349.25 103.90h-4.3M349.25 92.83h-2.4M349.25 81.75h-2.4M349.25 70.68h-2.4M349.25 59.60h-4.3M349.25 48.53h-2.4M349.25 37.45h-2.4M349.25 26.38h-2.4M349.25 15.30h-4.3" fill="none" stroke="#000" stroke-width="1.2"/>
<text class="tk" x="349.25" y="255.80" text-anchor="middle">-40</text>
<text class="tk" x="407.12" y="255.80" text-anchor="middle">-20</text>
<text class="tk" x="465.00" y="255.80" text-anchor="middle">0</text>
<text class="tk" x="522.88" y="255.80" text-anchor="middle">20</text>
<text class="tk" x="580.75" y="255.80" text-anchor="middle">40</text>
<text class="tk" x="341.60" y="241.40" text-anchor="end">0</text>
<text class="tk" x="341.60" y="197.10" text-anchor="end">2</text>
<text class="tk" x="341.60" y="152.80" text-anchor="end">4</text>
<text class="tk" x="341.60" y="108.50" text-anchor="end">6</text>
<text class="tk" x="341.60" y="64.20" text-anchor="end">8</text>
<text class="tk" x="341.60" y="19.90" text-anchor="end">10</text>
<text class="lb" x="340.60" y="273.10" textLength="249.0" lengthAdjust="spacingAndGlyphs">Translation t of dislocation center (b/2)</text>
<text class="lb" transform="translate(313.90 227.30) rotate(-90)" textLength="216.0" lengthAdjust="spacingAndGlyphs">Distance d between partials (nm)</text>
</g>
<g id="panel-c">
<clipPath id="cpc"><rect x="55.55" y="298.00" width="232.90" height="223.00"/></clipPath>
<g clip-path="url(#cpc)">
<clipPath id="hc"><rect x="54.55" y="297.00" width="118.45" height="225.00"/></clipPath>
<g id="fc" clip-path="url(#hc)" fill-rule="evenodd" stroke="#2e2e2e" stroke-width="0.55" stroke-linejoin="round">
<rect x="52.5" y="295.0" width="122.5" height="229.0" fill="#00ffda"/>
<path fill="#00ffcf" d="M52.6 295l122.4 0l0 229l-122.4 0zM171.4 460.1l-.4 .5l-.6 1.6l-.2 1.6l.1 1.6l.3 1.6l.4 .7l.4 .4l.8 .2l.8-.6l.4-.6l.3-1.7l0-2l-.2-1.6l-.5-1.2l-.8-.7z"/>
<path fill="#00ffc5" stroke="none" d="M52.6 295l122.4 0l0 168.8l-.4-3l-.7-2.2l-.9-1.1l-1.2-.3l-1.2 .7l-.8 1.5l-.6 2.4l-.2 3.2l.5 4.5l.7 1.2l1.2 .8l1.2 0l1.2-.8l.8-1.6l.4-2.5l0 57.4l-122.4 0z"/>
<path fill="#00ffba" d="M52.6 295l122.4 0l0 162.8l-.8-1.6l-1.2-.9l-1.6-.1l-.8 .3l-.8 .7l-.8 1.6l-.5 2l-.4 2.8l-.1 3.2l.1 2.9l.3 2l.5 1.6l.9 1.1l1.2 .6l1.6 .2l1.2-.5l1.2-1.3l0 51.6l-122.4 0z"/>
<path fill="#00ffaf" stroke="none" d="M52.6 295l122.4 0l0 159.6l-1.2-.9l-2-.3l-1.6 .3l-1.2 .9l-.8 1.7l-.6 2.7l-.5 8.1l.3 5.6l1.2 2.6l1.2 .9l1.6 .3l2-.1l1.6-.7l0 48.3l-122.4 0z"/>
<path fill="#00ffa5" d="M52.6 295l122.4 0l0 157l-2-.4l-3.2 .2l-1.2 .5l-.8 1l-.8 2.5l-.4 3.1l-.4 11l.3 5.6l.5 1.5l.6 .9l1 .6l1.2 .3l3.2 0l2-.2l0 45.4l-122.4 0z"/>
<path fill="#00ff9a" stroke="none" d="M52.6 295l122.4 0l0 154.7l-6.8 .1l-.8 .4l-.8 1.3l-.7 2.7l-.3 3.6l-.5 18.9l.3 3.2l.4 .8l.8 .6l1.2 .2l4.4-.4l2.8 .3l0 42.6l-122.4 0z"/>
<path fill="#00ff8f" d="M52.6 295l122.4 0l0 152.6l-2 .5l-1.6 0l-4-1l-.8-.1l-.8 .5l-.5 1.1l-.6 4l-.4 17.3l-1.1 13.6l.1 1.2l.3 .8l.6 .4l.4 0l1.2-.3l3.2-1.5l1.6-.5l2-.1l2.4 .6l0 39.9l-122.4 0z"/>
<path fill="#00ff85" stroke="none" d="M52.6 295l122.4 0l0 150.4l-2 .8l-1.6 0l-2.3-.8l-4.1-2.6l-.8-.1l-.7 1.1l-.3 3.6l.2 16.4l-.2 7.3l-.6 5.6l-2.1 11.2l-.4 3.6l.4 1.4l1.3-.1l5.6-4.9l2.8-1.7l2.4-.3l2.4 .9l0 37.2l-122.4 0z"/>
<path fill="#00ff7a" d="M52.6 295l122.4 0l0 148.1l-1.2 .7l-1.2 .4l-1.2 0l-1.2-.4l-1.2-.7l-1.5-1.3l-4.9-5.3l-.8-.5l-.5 0l-.4 .6l-.2 1.6l0 2l1 10.4l.4 7.6l.1 7.6l-.1 4.9l-.4 3.6l-.6 4l-3.4 14.1l-.7 4.7l.1 1.2l.6 .8l.8 .1l.8-.3l2.4-1.8l4.9-5.5l1.6-1.5l1.2-.9l1.6-.6l1.2-.1l1.2 .2l1.6 .8l0 34.5l-122.4 0z"/>
<path fill="#00ff70" stroke="none" d="M52.6 295l122.4 0l0 145.7l-1.6 1l-1.2 .3l-1.2-.1l-1.6-.9l-2.8-2.8l-7.3-9.9l-1.2-.9l-.4 .1l-.2 .6l0 4.9l2.8 19.2l.5 17.3l-1.1 8.6l-4.6 18.2l-.3 2.8l.6 3.2l.7 .7l1.2-.2l4-2.8l6.1-6.4l2-1.6l1.6-.7l1.2-.1l1.2 .2l1.6 .8l0 31.8l-122.4 0z"/>
<path fill="#00ff65" d="M52.6 295l122.4 0l0 143.2l-1.6 1.1l-1.2 .3l-1.6-.3l-1.6-1.1l-1.6-1.7l-2-2.7l-6.5-10.2l-2.4-3.5l-1.2-1.4l-.8-.5l-.4 .1l-.3 .6l-.1 2.4l.4 4.3l3.4 18.2l.9 6l.3 5.6l.4 14.1l-.3 4.4l-.6 4l-1.3 5.3l-3.6 13.5l-.3 2l-.1 2.4l.1 3.2l.3 1.6l.7 .9l.9 0l1.6-.7l2-1.4l9.3-8.6l1.6-1.3l1.6-.7l1.2-.1l1.2 .2l1.6 .9l0 28.9l-122.4 0zM126.4 456.7l-.2 .7l.2 1.9l1.6 4.8l2.8 5.8l1.2 1.8l.8 .6l.3-.8l-.3-2.3l-.7-3l-.9-2.4l-1.2-2.5l-1.6-2.7l-1.2-1.5z"/>
<path fill="#00ff5a" stroke="none" d="M52.6 295l122.4 0l0 140.4l-1.6 1.1l-1.2 .3l-1.6-.3l-1.6-1.1l-4-5.1l-8.9-14.6l-3.2-4.7l-1.2-1.2l-.8-.3l-.5 .6l-.3 2l.8 7l4 20.6l1.2 7.7l.3 5.6l-.2 10l.4 8.5l-.2 4l-.9 4.8l-4.6 17.2l-.4 8.1l.3 2.8l.9 1.7l.8 .3l1.2-.2l3.6-2.4l7.3-6.7l4-3.1l1.6-.7l1.6-.4l1.6 .2l1.6 .7l0 26.2l-122.4 0zM122.4 446.2l-.4 .2l-.1 1.4l.9 4.7l2 6.9l2 5.5l10.9 22.9l2.8 4.5l.8 .7l.4-.1l0-2.2l-.8-3.7l-5.2-18.7l-1.5-4.5l-2-4l-3.3-5.2l-4.5-6.4z"/>
<path fill="#00ff50" d="M52.6 295l122.4 0l0 137.2l-2 1.2l-1.6 .1l-1.6-.7l-2-1.9l-2-2.5l-2-3l-9.3-15.5l-3.2-4.9l-1.6-2.1l-1.2-1.2l-.8-.3l-.4 .4l-.3 1.1l-.1 1.6l.4 4.8l5.2 28.1l.8 6l.3 4.4l-.1 3.2l-.5 2.8l-2.2 7.6l-.4 2.4l.2 2.8l1.5 6.9l.2 2.4l-.3 2.8l-.7 3.7l-1.2 4.2l-1.2 2.6l-.6 .7l-.6 .3l-.8-.4l-1.2-1.9l-2.4-6.5l-1.7-5.9l-1.3-8.9l-1.3-3.2l-1.7-2.4l-5.7-6.9l-3.2-4.2l-9.2-14.1l-1.6-1.7l-.4 .2l-.1 .7l.1 1.2l.8 3.8l3.6 12.8l2 6.4l2.4 6.3l9.3 20.4l4 8.3l2.4 4.3l4.6 5.4l.8 1.7l1.8 4.9l1 1.9l.6 .8l.8 .3l.8-.1l.8-.4l5-3.8l7.5-6.8l3.2-2.1l1.6-.7l1.6-.2l1.6 .1l1.6 .6l0 23.9l-122.4 0z"/>
<path fill="#00ff45" stroke="none" d="M52.6 295l122.4 0l0 133.4l-2 1.2l-2-.1l-2-1.1l-2-2l-4.8-6.8l-12.9-20.9l-2.8-3.8l-1.6-1.2l-.8 .8l-.2 1.2l.2 5.2l4.8 28.5l1.2 10.8l-.1 4l-.4 3.2l-1.1 2.6l-1.6 1.9l-2.8 1.7l-3.6 .3l-3.6-1l-3.7-2.4l-3.2-3.2l-3.2-4.2l-12.4-19.2l-1.6-1.5l-.4 .9l.8 4.6l2.4 8.7l6 19.5l2.8 7.7l14.1 31.1l7 11.9l3.8 7.7l.8 1l.8 .3l1.6-.5l11.7-10l4-2.7l3.2-1l3.2 .4l.4 .2l0 21.8l-122.4 0z"/>
<path fill="#00ff3a" d="M52.6 295l122.4 0l0 129l-1.2 .7l-1.2 .4l-2-.2l-2-1.2l-2.4-2.3l-2.8-3.5l-3.3-4.7l-14-22.4l-2.4-3.2l-.8-.8l-.8-.4l-.4 .1l-.4 .3l-.3 1.2l-.1 2l.1 2.5l1 7.2l3.3 21.2l.7 6l.2 4.9l-.2 4l-.7 3.6l-1.2 2.5l-1.6 1.7l-1.2 .7l-1.6 .5l-1.6 .1l-1.6-.2l-1.6-.4l-1.7-.8l-3.2-2.3l-3.2-3.3l-3.6-4.7l-12.8-19.7l-1.6-1.7l-.4-.1l-.3 .4l-.1 .8l.4 2.3l.8 3.5l2.4 8.6l8.8 28.1l2.8 7.6l10 22.8l4.5 9.4l1.6 3.1l5.4 9.3l4.2 8.3l.8 1l.8 .5l.8 0l.8-.2l1.6-1.2l6.8-6l3.7-2.8l2.4-1.6l2-1l2-.6l2-.1l2 .4l.4 .1l0 19.6l-122.4 0z"/>
<path fill="#00ff30" stroke="none" d="M52.6 295l122.4 0l0 123.8l-2.4 .8l-2.4-.2l-2.8-1.6l-2.8-2.7l-3.3-3.9l-4-5.6l-14-22l-2.4-3l-1.6-1.1l-.7 .5l-.4 1.2l0 4.4l3.5 25.6l.7 10.9l-.3 4l-.8 3.3l-1.2 2.4l-1.6 1.6l-2.8 1.1l-3.3-.1l-3.2-1.2l-3.2-2.3l-3.2-3.3l-3.6-4.7l-12.5-18.7l-2-1.9l-.4 .3l-.1 .7l.9 5.6l2.9 10.2l13.9 43.1l14.9 32.9l7.5 13.3l4.2 8.4l1.6 1.7l.8 .3l1.2-.2l1.6-1.1l6.8-6.1l5.7-3.7l2.4-1.1l2-.5l2-.1l2 .4l.4 .1l0 17.5l-122.4 0z"/>
<path fill="#00ff25" d="M52.6 295l122.4 0l0 117.9l-1.6 .4l-1.6 .1l-1.6-.2l-1.6-.5l-3.2-1.9l-3.6-3.3l-3.3-3.8l-4-5.5l-14-21.6l-2-2.6l-1.6-1.4l-.4-.1l-.4 .2l-.4 .8l-.3 1.7l0 2.4l.6 6.4l2.4 18.5l.4 5.6l0 4.4l-.4 3.6l-.8 3.2l-1.3 2.4l-1.8 1.7l-1.3 .6l-1.6 .4l-2.8 0l-1.6-.4l-1.6-.7l-3.2-2.2l-3.2-3.1l-3.6-4.5l-3.6-5.1l-6.9-10.3l-2.4-3.2l-.8-.9l-.8-.4l-.3 .5l-.1 .8l.4 3.1l.8 3.7l3.2 11.7l13.5 42.4l2.3 6.4l2.6 6.1l12.4 26.8l1.7 3.2l7 12.1l3.5 7l1 1.4l1 .8l.8 .2l1.2-.1l1.6-.9l7.2-6.2l4.5-2.8l2.4-1l2.4-.6l2.4-.1l2.4 .4l0 15.5l-122.4 0z"/>
<path fill="#00ff1b" stroke="none" d="M52.6 295l122.4 0l0 111.4l-4 .3l-4-.9l-3.6-2l-4.1-3.5l-3.6-4.1l-3.6-4.8l-15.2-23.1l-2-2.5l-1.3-.7l-.4 .1l-.5 1.2l-.1 3.6l2.7 23.7l.3 9.2l-.5 4l-1 3.2l-1.3 2.1l-2 1.8l-2.8 .9l-3.2-.1l-3.2-1.1l-3.2-2.2l-3.2-3.1l-3.6-4.4l-12.1-17.3l-1.6-1.3l-.4 .3l-.1 1.1l1.3 7.4l4 14.7l16.7 52.5l2.8 6.5l12.9 27.2l9 15.7l3.6 7.1l2 2.3l1.2 .5l1.2 0l2-1.1l6.8-5.6l4.5-2.6l4.8-1.4l2.4-.1l2.4 .3l0 13.8l-122.4 0z"/>
<path fill="#00ff10" d="M52.6 295l122.4 0l0 104.7l-2.4 .2l-2.4 0l-2.4-.4l-2.4-.7l-2.4-1l-2.1-1.2l-4-3.3l-3.6-3.9l-4-5.2l-4.8-7l-10-15.7l-2.1-2.7l-1.6-1.3l-.5 .1l-.4 .8l-.2 1.2l-.1 2l.4 4.4l2.2 17.6l.4 6.4l0 4.9l-.5 3.6l-.9 2.8l-1.4 2.4l-2 1.6l-1.4 .6l-1.6 .4l-1.6 .1l-1.6-.2l-2-.5l-1.6-.7l-3.2-2.1l-3.2-3.1l-3.2-3.9l-11.7-16.6l-1.6-1.5l-.4-.1l-.4 .7l.3 3.2l.9 4.8l3.6 13.6l4.2 14.1l10.3 32.6l3.1 10.7l1.5 4.4l2.5 5.7l14.1 28.8l8.7 14.5l3.9 7.6l.8 1.2l1.4 1.6l0 2.8l-97 0zM168.5 512l3.3-.4l3.2 .3l0 12.1l-21.4 0l0-2.8l.3-.4l5-4l3.3-2.2l3.2-1.6z"/>
<path fill="#00ff05" stroke="none" d="M52.6 295l122.4 0l0 97.9l-6 0l-5.6-1.1l-4.9-2.3l-4.4-3.4l-3.6-3.8l-4-5.1l-4.4-6.5l-10.1-16l-2.4-3.3l-1.6-1.5l-.8 .1l-.4 .7l-.2 3.3l2.8 22l.4 5.6l-.1 4.8l-.5 4l-.8 2.9l-1.6 2.5l-2 1.6l-2.8 .9l-3.6 0l-3.6-1.2l-3.2-2.2l-3.2-3l-3.3-3.9l-12-17.1l-1.2-1.1l-.4-.1l-.4 .7l.8 6l3.2 13.2l5.8 20.1l10.7 35.1l4.6 16.6l2.1 4.8l15.5 30.1l9 14.5l4.1 7.8l1.6 2.2l.2 3.2l-96.1 0zM168.6 513.6l3.2-.4l3.2 .3l0 10.5l-20 0l0-2.8l1.9-1.7l6.1-4l2.8-1.2z"/>
<path fill="#05ff00" d="M52.6 295l122.4 0l0 91.1l-3.6 0l-3.6-.1l-3.2-.4l-2.8-.6l-2.9-.9l-2.4-1.2l-2.4-1.5l-2-1.6l-3.6-3.6l-4-5l-4.8-7.2l-10.9-17.3l-2.4-3.2l-.8-.8l-.8-.5l-.5 .1l-.3 .4l-.2 .8l-.1 3.6l.6 5.3l2.4 17.6l.4 4.8l0 4l-.5 4l-1 2.9l-1.6 2.5l-2 1.6l-1.6 .6l-1.6 .4l-1.6 .1l-2-.3l-2-.5l-1.6-.7l-3.2-2.2l-3.3-3l-3.6-4.4l-3.2-4.5l-8.4-12.6l-.8-.9l-.8-.6l-.4 .1l-.2 .7l.2 2.3l.8 4.2l3.6 14.6l14 49.4l3.3 11.9l1.1 5.4l1.4 8.4l.9 3.2l1.7 3.6l6.9 11.2l11.1 20.1l6.2 9.4l4.4 7l3.2 6.1l1.4 2.4l0 2.8l-95.3 0zM168.2 515.2l3.6-.4l3.2 .2l0 9l-18.7 0l0-2.8l.3-.4l3.1-2.2l2.9-1.5l2.8-1.2z"/>
<path fill="#10ff00" stroke="none" d="M52.6 295l122.4 0l0 84.5l-8.4-.2l-6.9-1l-5.2-1.9l-4.4-2.9l-4-4l-4-5.1l-4.8-7.1l-11.3-17.9l-2.4-3.3l-1.6-1.5l-.8 .2l-.4 1l-.1 3.7l3.2 23.7l.4 5.2l0 4.4l-.6 3.6l-.9 2.6l-1.6 2.3l-2 1.4l-3.2 .9l-4-.2l-3.6-1.3l-3.3-2.3l-3.2-3.1l-3.2-4.1l-12-18.3l-1.6-1.7l-.4-.1l-.5 .7l.5 4l1.6 7.1l16.8 63.8l2 9l1.2 7.1l.2 5.2l-1.2 4l-2.2 3l-5.1 4.2l-.4 1.2l1.3 1.2l7.8 3.8l4.1 2.4l4 3.2l3.2 3.6l4 5.6l9.5 15.1l4.6 6.1l6 9l5.1 9l.1 3.2l-94.7 0zM170.2 516.4l4.8 .1l0 7.5l-17.4 0l0-2.8l1.3-1l5.7-2.7z"/>
<path fill="#1bff00" d="M52.6 295l122.4 0l0 77.7l-9.6-.2l-4.1-.4l-3.2-.5l-2.8-.8l-2.4-.9l-2.4-1.3l-2.4-1.7l-4-3.9l-4.4-5.4l-5.2-7.7l-11.7-18.5l-2.4-3.2l-.8-.8l-.8-.4l-.5 .1l-.5 1.2l-.1 3.6l.6 5.2l2.6 18.9l.5 5.6l-.1 4.4l-.5 3.6l-.9 2.8l-1.5 2l-1.2 1l-1.2 .6l-1.6 .6l-2 .2l-1.6 0l-2-.4l-2.1-.7l-1.6-.9l-3.2-2.4l-3.2-3.5l-3.2-4.2l-12-18.7l-1.6-1.9l-.4-.2l-.5 0l-.3 .8l.1 1.6l1.1 5.6l12.8 49.5l3.2 14.6l1.8 10.9l.3 4.1l0 3.2l-.4 2.8l-.7 2l-1 1.6l-1.6 1.6l-2 1.1l-2.4 .8l-4.8 .9l-7.2 .5l-10.5 .3l-16.8 .2zM52.6 476.3l28.9 .1l15.6 .5l5.2 .4l4 .7l3.3 .9l3.2 1.3l4 2.5l4.4 4l3.6 4l5.2 6.4l4.9 5.7l6.4 8.8l5.3 9.2l.1 .4l0 2.8l-94.1 0zM168.1 518l3.3-.3l3.6 .2l0 6.1l-15.8 0l0-2.8l.4-.4l4.2-1.8z"/>
<path fill="#25ff00" stroke="none" d="M52.6 295l122.4 0l0 70.5l-11.2-.2l-7.7-.9l-5.6-1.8l-4.8-2.9l-4.4-4.1l-4.8-5.9l-5.3-7.7l-11.2-17.9l-2.4-3.3l-1.6-1.4l-.8 .3l-.4 1l-.1 3.6l3.3 24.4l.4 5.7l-.1 4.4l-.5 3.6l-1 2.9l-1.6 2.2l-2.4 1.5l-3.2 .6l-3.7-.4l-3.6-1.7l-3.2-2.5l-3.2-3.5l-3.6-4.9l-12.4-19.4l-1.7-1.9l-.8-.1l0 3.1l1.2 6.1l8.9 33.3l4.8 21.3l1.6 12.3l.1 4.8l-.5 3.6l-1.2 3l-1.6 2l-2.4 1.5l-3.6 1.2l-4.4 .7l-6.1 .4l-21.6 .5zM52.6 488.7l0-.2l21.6 0l26.1 .4l10.5 .9l6.8 1.7l3.2 1.4l3.2 2l6.4 5.1l3.6 3.5l5.7 7l3.2 4.8l3.1 5.5l.2 3.2l-93.6 0zM168.3 519.2l6.7-.1l0 4.9l-13.8 0l0-2.8l.6-.4l3.2-1z"/>
<path fill="#30ff00" d="M52.6 295l122.4 0l0 63l-12.4-.2l-4.9-.4l-3.6-.5l-3.2-.7l-2.8-1l-2.8-1.4l-2.4-1.6l-2-1.6l-2.4-2.4l-4.5-5.4l-5.2-7.6l-12-19.1l-2.4-3.2l-.8-.7l-.8-.4l-.4 .1l-.5 1.1l-.1 3.7l.5 5.2l2.7 19.2l.4 5.6l-.1 4.4l-.5 3.9l-1.2 3.1l-1.6 2l-1.2 .9l-1.2 .5l-1.6 .5l-1.7 .1l-2-.2l-1.6-.3l-3.2-1.6l-1.6-1.1l-2-1.8l-2.8-3.1l-3.2-4.3l-3.6-5.4l-8.9-14.3l-2-2.7l-1.2-1l-.4 .4l0 2l1.2 6.6l9.7 36.4l2.8 12.7l1.2 7.3l.6 5.2l0 4.4l-.5 3.6l-.9 2.4l-1.6 2.2l-2.4 1.6l-3.2 1.1l-4.1 .7l-5.6 .5l-18.4 .4zM52.6 496.3l34.1 0l18.8 .3l10.5 .7l3.6 .5l3.6 .9l3.6 1.3l3.2 1.9l2.8 2.2l3.7 3.7l4.4 5.5l4.6 7.5l.1 3.2l-93 0zM167.6 520.4l3.8-.3l3.6 .1l0 3.8l-10.7 0l0-2.8l.9-.4z"/>
<path fill="#3aff00" stroke="none" d="M52.6 295l122.4 0l0 55.4l-14.1-.2l-8.8-.7l-6.4-1.7l-5.2-2.8l-4.4-3.8l-4.5-5.3l-5.6-8l-12.4-19.7l-2.4-3.1l-.8-.7l-.8-.2l-.8 1.6l0 2.8l3.4 26.9l.2 6.4l-.4 4.6l-.6 2.2l-1 2l-1.2 1.6l-1.2 .9l-1.7 .8l-2 .4l-2 0l-2.4-.5l-2.4-1l-2.4-1.6l-2.4-2.1l-2.8-3.2l-5.2-7.3l-11.3-18.1l-1.6-2.1l-1.2-.8l-.3 .6l0 1.6l1.1 6.4l9.7 36.5l2.8 12.3l1.3 10.1l0 4.4l-.4 3.3l-.9 2.6l-1.6 2.1l-2 1.3l-2.9 1.1l-3.6 .7l-4.8 .4l-16.4 .5zM52.6 500.3l55.4 .1l10 .5l6.4 .9l3.2 1.1l3.2 1.7l3.2 2.4l3.7 3.5l3.2 4l4 6.3l.2 3.2l-92.5 0z"/>
<path fill="#45ff00" d="M52.6 295l122.4 0l0 47.9l-15.3-.2l-9.6-.7l-3.6-.6l-3.2-1l-2.8-1.2l-2.4-1.4l-2.4-1.8l-2.5-2.3l-4.8-5.7l-5.6-8.1l-12-19.1l-2.4-3.1l-.8-.7l-.9-.4l-.4 .3l-.4 .9l-.1 3.2l.5 5.2l2.1 14.5l.8 7.2l.2 6.4l-.5 4.8l-.5 2.1l-1 1.9l-1.1 1.4l-1.6 1.2l-1.6 .7l-2 .4l-2 0l-2.4-.6l-2.4-1l-2.4-1.7l-2.4-2.2l-2.8-3.3l-2.8-3.8l-2.8-4.2l-10.9-17.7l-2-2.7l-.8-.6l-.4 0l-.2 1.2l.1 2l1.3 6.6l8.8 33.8l3.3 13.9l1.2 8.3l.1 3.6l-.3 2.8l-.6 2.6l-1.4 2.2l-1.9 1.7l-2.8 1.2l-3.2 .8l-4.4 .5l-14.4 .6zM52.6 503.5l0-.3l54.1 .1l11.7 .5l3.6 .3l3.2 .6l3.2 1l3.2 1.5l3.3 2.1l2.8 2.5l3.2 3.8l3.5 5.2l.1 .4l0 2.8l-91.9 0z"/>
<path fill="#50ff00" stroke="none" d="M52.6 295l50.4 0l3 23.3l.4 6l-.1 4.8l-.8 4l-1.6 3.1l-2.4 2l-2.8 .9l-3.2-.1l-3.2-1l-3.2-2l-3.2-3.1l-3.2-3.9l-3.7-5.2l-12.8-21l-2-2.4l-.4-.2l-.4 .3l0 2.5l.8 4.8l10.4 41.2l2.1 9.8l1 7.6l-.1 5.6l-.6 2.3l-.8 1.6l-1.2 1.5l-1.6 1.1l-4.4 1.4l-6.4 .8l-10 .4zM109 295l66 0l0 40.3l-16.9-.2l-10-.6l-6.8-1.4l-5.2-2.3l-2.9-2l-2.4-2.1l-5.2-6.1l-5.6-8zM52.6 506l57 .1l10 .4l6.4 .8l3.2 .8l2.8 1.1l2.9 1.6l2.4 1.9l3.2 3.5l3.3 4.6l.1 3.2l-91.3 0z"/>
<path fill="#5aff00" d="M52.6 295l7.3 0l1.9 9l6.8 26.5l2.8 11.9l1.6 8.7l.5 4.1l.2 3.6l-.3 3.6l-.7 2.8l-1.3 2l-2 1.6l-2.4 1l-3.6 .8l-4.4 .5l-6.4 .4zM63.3 295l37.6 0l2 14.4l.5 4.9l.1 4l-.2 3.6l-.5 2.8l-.9 2.3l-1.2 1.8l-1.6 1.4l-1.6 .8l-2 .5l-2 0l-2.4-.4l-2-.9l-2-1.1l-2-1.7l-3.6-3.8l-4.5-6l-3.6-5.7zM110.8 295l64.2 0l0 32.7l-17.7-.1l-10.4-.5l-4-.5l-3.2-.7l-2.8-.9l-2.4-1l-2.9-1.7l-2.4-1.9l-2.4-2.4l-2.8-3.2l-5.6-7.7zM52.6 508.4l57.4 0l10.4 .4l6.4 .7l3.2 .7l2.8 1l2.5 1.4l2.4 1.8l2.4 2.5l3 3.9l.2 .4l0 2.8l-90.7 0z"/>
<path fill="#65ff00" stroke="none" d="M52.6 295l5.6 0l8.8 35.4l2 10.7l.5 6.8l-.2 3.2l-.6 2.9l-1 2l-1.5 1.6l-2 1.2l-2.8 .9l-8.8 1.1zM65 295l34.1 0l1.2 10.4l.2 6.8l-.8 5.3l-.8 2l-1 1.5l-1.2 1.2l-1.6 1l-2 .6l-2 .1l-4-.8l-4-2.5l-3.7-3.5l-4-5.2l-4.4-6.8zM112.5 295l62.5 0l0 25.2l-18.5-.2l-10.8-.4l-7.2-.9l-5.3-1.5l-4.8-2.7l-4.8-4.3l-5.2-6.4zM52.6 510.4l57.8 0l10.4 .3l6.4 .6l5.6 1.5l2.5 1.2l2.4 1.7l4.7 5.1l.2 3.2l-90 0z"/>
<path fill="#70ff00" d="M52.6 295l4.2 0l4.2 16.5l2.4 10.7l1.5 8.9l.5 6.4l-.3 3.2l-.5 2.4l-.8 1.7l-1.2 1.5l-1.6 1.2l-2 1l-2.8 .7l-3.6 .5zM66.6 295l30.5 0l.4 6l-.1 4.8l-.7 4l-1.2 2.8l-1.2 1.6l-1.2 .9l-1.6 .8l-1.6 .3l-2 .1l-2-.3l-2-.6l-1.6-.9l-3.3-2.4l-3.6-3.9l-4-5.5zM114.6 295l60.4 0l0 17.6l-18.1-.1l-11.2-.3l-7.2-.6l-5.7-1.1l-2.4-.8l-2.4-1.2l-2.4-1.5l-2-1.5l-4.4-4.5zM52.6 512.4l0-.3l54.1 .1l12.9 .2l7.2 .6l2.8 .4l2.8 .8l2.5 1l2.4 1.5l2 1.6l2.4 2.5l.1 .4l0 2.8l-89.2 0z"/>
<path fill="#7aff00" stroke="none" d="M52.6 295l2.8 0l4.4 19.3l1.1 7.2l.3 5.2l-.5 4.8l-1.5 3.2l-2.6 2.3l-4 1.4zM68.4 295l26.2 0l-.2 3.6l-.5 3.2l-1.6 3.7l-2.4 2.2l-3.2 1l-4-.3l-3.7-1.6l-3.2-2.5l-3.6-4zM117.6 295l57.4 0l0 10l-28.9-.2l-7.2-.4l-5.7-.7l-4.4-1.1l-4-1.8l-3.6-2.4zM52.6 514l55.8-.1l11.6 .2l6.8 .5l6 1.2l4.5 2.1l3.5 2.9l.2 3.2l-88.4 0z"/>
<path fill="#85ff00" d="M52.6 295l1.3 0l.7 2.9l1.9 10.7l.5 4l.1 3.3l-.3 3.6l-.8 2.8l-.6 1.3l-.8 1l-2 1.6zM71.3 295l19.4 0l-1.2 2.7l-1.6 1.7l-1.2 .8l-1.2 .5l-2.8 .5l-2.8-.4l-2.9-1.1l-2.8-1.8zM125.7 295l49.3 0l0 2.5l-22.9-.1l-12.4-.3l-8.1-.7l-3.2-.6zM52.6 515.6l0-.2l54.6 .1l12 .2l7.2 .4l3.2 .4l2.8 .6l2.5 .8l2.4 1.2l2 1.4l.6 .7l0 2.8l-87.3 0z"/>
<path fill="#8fff00" stroke="none" d="M52.6 299.4l.4 5.6l-.4 4.6zM52.6 517.2l0-.3l50.1 .1l23.3 .5l6.4 .9l4.9 1.8l1.3 1l0 2.8l-86 0z"/>
<path fill="#9aff00" d="M52.6 518.4l0-.1l53.3 0l12.5 .2l7.2 .2l6.4 .8l2.5 .6l1.9 .7l.5 .4l0 2.8l-84.3 0z"/>
<path fill="#a5ff00" stroke="none" d="M52.6 519.6l52.5-.1l20.1 .4l5.2 .4l3.2 .7l.4 .2l0 2.8l-81.4 0z"/>
<path fill="#afff00" d="M52.6 520.8l0-.2l68.3 .2l5.3 .4l0 2.8l-73.6 0z"/>

</g>
<use href="#fc" transform="translate(344.000 0) scale(-1 1)"/>
</g>
<rect x="55.55" y="298.00" width="232.90" height="223.00" fill="none" stroke="#000" stroke-width="1.25"/>
<path d="M55.55 521.00v4.3M70.11 521.00v2.4M84.66 521.00v2.4M99.22 521.00v2.4M113.77 521.00v4.3M128.33 521.00v2.4M142.89 521.00v2.4M157.44 521.00v2.4M172.00 521.00v4.3M186.56 521.00v2.4M201.11 521.00v2.4M215.67 521.00v2.4M230.22 521.00v4.3M244.78 521.00v2.4M259.34 521.00v2.4M273.89 521.00v2.4M288.45 521.00v4.3M55.55 521.00h-4.3M55.55 509.85h-2.4M55.55 498.70h-2.4M55.55 487.55h-2.4M55.55 476.40h-4.3M55.55 465.25h-2.4M55.55 454.10h-2.4M55.55 442.95h-2.4M55.55 431.80h-4.3M55.55 420.65h-2.4M55.55 409.50h-2.4M55.55 398.35h-2.4M55.55 387.20h-4.3M55.55 376.05h-2.4M55.55 364.90h-2.4M55.55 353.75h-2.4M55.55 342.60h-4.3M55.55 331.45h-2.4M55.55 320.30h-2.4M55.55 309.15h-2.4M55.55 298.00h-4.3" fill="none" stroke="#000" stroke-width="1.2"/>
<text class="tk" x="55.55" y="540.80" text-anchor="middle">-40</text>
<text class="tk" x="113.77" y="540.80" text-anchor="middle">-20</text>
<text class="tk" x="172.00" y="540.80" text-anchor="middle">0</text>
<text class="tk" x="230.22" y="540.80" text-anchor="middle">20</text>
<text class="tk" x="288.45" y="540.80" text-anchor="middle">40</text>
<text class="tk" x="48.60" y="525.60" text-anchor="end">0</text>
<text class="tk" x="48.60" y="481.00" text-anchor="end">2</text>
<text class="tk" x="48.60" y="436.40" text-anchor="end">4</text>
<text class="tk" x="48.60" y="391.80" text-anchor="end">6</text>
<text class="tk" x="48.60" y="347.20" text-anchor="end">8</text>
<text class="tk" x="48.60" y="302.60" text-anchor="end">10</text>
<text class="lb" x="40.60" y="560.50" textLength="239.4" lengthAdjust="spacingAndGlyphs">Translation t dislocation center  (b/2)</text>
<text class="lb" transform="translate(18.90 512.00) rotate(-90)" textLength="215.3" lengthAdjust="spacingAndGlyphs">Distance d between partials (nm)</text>
</g>
<g id="panel-d">
<clipPath id="cpd"><rect x="347.10" y="296.00" width="233.80" height="224.30"/></clipPath>
<g clip-path="url(#cpd)">
<clipPath id="hd"><rect x="346.10" y="295.00" width="118.90" height="226.30"/></clipPath>
<g id="fd" clip-path="url(#hd)" fill-rule="evenodd" stroke="#2e2e2e" stroke-width="0.55" stroke-linejoin="round">
<rect x="344.1" y="293.0" width="122.9" height="230.3" fill="#25ff00"/>
<path fill="#30ff00" d="M344.1 293l122.9 0l0 149.7l-2-.8l-2 0l-2 .8l-1.6 1.4l-1.5 2.2l-1.1 2.8l-.8 3.2l-.3 3.6l.3 4l.8 4l1.1 3.2l1.5 2.8l1.6 1.5l2 .8l2 0l2-.8l0 51.9l-122.9 0z"/>
<path fill="#3aff00" stroke="none" d="M344.1 293l122.9 0l0 133.2l-10.4 .1l-2.5 .4l-2.4 .8l-2.3 1.5l-2.2 2l-5.9 7.7l-1.6 1.2l-1.6 .5l-2.4-.1l-2.8-1.2l-9.2-6.5l-5.3-3l-3.6-1.4l-2.8-.2l-2.8 .6l-2.6 1.6l-3 3.2l-3.3 5.2l-2 2.4l-2.8 2l-3.2 1.2l-3.6 .6l-5.2 .2l-39.4 0zM344.1 467.9l43.8 0l9.2 .4l4 .8l3.6 1.4l16.5 8.7l5.6 2.1l2.8 .4l2.9-.2l7.6-2.7l2.8-.3l2.8 .7l6.3 3.2l3.8 1.3l4.8 .7l6.4 0l0 38.9l-122.9 0z"/>
<path fill="#45ff00" d="M344.1 293l122.9 0l0 122.3l-2.4 .2l-2.4-.1l-9.7-1.7l-2-.2l-2 .2l-2 .4l-2 .8l-6 3.3l-2.4 1l-2.8 .8l-2.8 .2l-2.9-.4l-2.8-.7l-9.6-3.8l-2.8-1l-2.8-.5l-2.4-.1l-2.1 .3l-2.4 .8l-7.2 3.9l-2.8 1.3l-2.8 .9l-2.8 .5l-3.6 .3l-5.3 .2l-34.1 0zM344.1 486.4l51 0l9.6 .2l4.9 .4l4 .6l4 1.1l10 3l3.3 .6l3.2 .5l3.6 .2l12.4 .1l11.7-.7l5.2 .1l0 30.8l-122.9 0z"/>
<path fill="#50ff00" stroke="none" d="M344.1 293l122.9 0l0 112.9l-2.8 .2l-3.2-.2l-10.9-3l-4.4-.4l-4 .9l-9.6 4l-2.9 .5l-3.2 .1l-5.6-1l-11.6-3.9l-4.9-.6l-4.4 .9l-9.6 4.2l-6 1.3l-8.9 .4l-30.9 0zM344.1 494.8l66.3 .2l8.4 .9l16.1 3.4l6.8 .6l6.8-.3l12.5-1.6l6 0l0 25.3l-122.9 0z"/>
<path fill="#5aff00" d="M344.1 293l122.9 0l0 103.3l-3.2 .2l-3.6-.4l-3.6-.9l-9.3-3.2l-2.4-.5l-2.4-.2l-2 .2l-2.4 .7l-6.8 3.2l-2.9 1l-3.2 .6l-3.2 0l-2.8-.4l-2.8-.8l-11.3-3.9l-2.4-.5l-2-.1l-2 .2l-2 .5l-9.6 4.3l-3.2 1l-3.3 .5l-8.4 .5l-28.1 0zM344.1 500.4l56.6 0l11.3 .1l7.6 .6l15.7 2.4l6.8 .6l6-.3l12.5-1.4l6.4-.1l0 21l-122.9 0z"/>
<path fill="#65ff00" stroke="none" d="M344.1 293l122.9 0l0 93.1l-4 .1l-4.4-.5l-4.1-1.1l-10-3.4l-4.8-.7l-2.4 .2l-2.4 .5l-7.3 3.1l-3.1 1l-2.9 .5l-3.2-.1l-5.2-.9l-11.3-3.7l-4.8-.6l-4 .6l-9.6 4.1l-6.1 1.3l-8.4 .5l-24.9 .1zM344.1 504.4l0-.3l69.9 .1l8.8 .6l14.5 2.1l5.2 .4l5.2-.2l12.5-1.7l6.8 0l0 17.9l-122.9 0z"/>
<path fill="#70ff00" d="M344.1 293l122.9 0l0 83.3l-5.6 .1l-5.2-.6l-4.5-1l-9.6-2.8l-4.4-.7l-2.4 0l-2.4 .3l-2.4 .7l-8.1 2.7l-2.8 .5l-2.8 .2l-2.4-.2l-2.8-.4l-12.1-3.2l-2.8-.5l-2.4-.2l-2 .2l-2.4 .4l-9.7 3.3l-2.8 .7l-3.2 .5l-8 .4l-22.1 0zM344.1 507.3l0-.2l50.6 0l20.5 .2l8.4 .5l13.7 2.2l5.2 .4l5.2-.3l12.5-1.8l3.6-.1l3.2 .1l0 15l-122.9 0z"/>
<path fill="#7aff00" stroke="none" d="M344.1 293l122.9 0l0 74.9l-7.2 0l-6.1-.6l-4.8-1l-9.6-2.6l-4-.6l-4.8 .3l-10.5 3.1l-6 .7l-5.6-.6l-11.7-3l-4.8-.5l-4.4 .5l-9.7 3l-6 1.1l-8 .3l-19.7 .1zM344.1 510.1l72.3 .1l8 .5l13.3 2.1l5.2 .4l4.8-.4l12.1-1.7l7.2-.1l0 12.3l-122.9 0z"/>
<path fill="#85ff00" d="M344.1 293l122.9 0l0 66.8l-8.8 0l-6.5-.6l-5.2-1l-10-2.8l-2.4-.5l-2.4-.2l-2.5 .1l-2.4 .5l-7.6 2.5l-2.8 .7l-3.2 .4l-3.2 0l-5.7-.8l-10.8-2.9l-4.4-.5l-2 .1l-2.4 .5l-9.3 3l-5.6 1.1l-7.6 .5l-18.1 0zM344.1 512.9l0-.2l72.7 .1l8.4 .6l12.5 1.9l5.2 .4l4.8-.3l12.1-1.8l3.6-.1l3.6 0l0 9.8l-122.9 0z"/>
<path fill="#8fff00" stroke="none" d="M344.1 293l122.9 0l0 58.5l-10.8-.1l-6.9-.6l-5.6-1.1l-10-2.8l-4.9-.6l-4.8 .6l-10.4 3.2l-3.2 .4l-3.2 0l-5.7-.9l-10.8-2.9l-4.4-.4l-4 .5l-9.3 3.1l-5.6 1.1l-7.2 .4l-16.1 .1zM344.1 515.3l73.1 0l8 .5l12.9 1.9l4.8 .3l4.8-.3l12.1-1.7l7.2-.1l0 7.4l-122.9 0z"/>
<path fill="#9aff00" d="M344.1 293l122.9 0l0 50.1l-12.5-.1l-7.2-.5l-6-1.1l-10.4-2.9l-2.5-.5l-2.4-.2l-2.4 .2l-2.4 .5l-7.2 2.4l-3.2 .8l-3.2 .4l-3.3 0l-5.2-.8l-10.8-2.9l-4.4-.6l-2 .2l-2.5 .4l-9.2 3.1l-5.2 1l-6.8 .5l-14.1 .1zM344.1 517.7l0-.2l73.1 .1l8 .4l12.8 1.7l4.9 .3l4.8-.3l11.7-1.5l3.6-.2l3.6 .1l.4 0l0 5.2l-122.9 0z"/>
<path fill="#a5ff00" stroke="none" d="M344.1 293l122.9 0l0 41.6l-14.5-.1l-7.6-.5l-6-1.1l-10.9-2.9l-4.4-.6l-4.8 .5l-10.4 3.3l-3.3 .4l-3.2 0l-5.6-.9l-10.8-2.8l-4.4-.5l-4.5 .6l-8.8 2.9l-5.2 1.1l-6.5 .5l-12 .1zM344.1 519.7l77.1 0l7.2 .8l0 2.8l-84.3 0zM460.6 520.1l6.4 0l0 3.2l-9.1 0l0-2.8z"/>
<path fill="#afff00" d="M344.1 293l122.9 0l0 33.3l-16.5-.1l-7.6-.4l-6.4-1.1l-11.3-2.9l-4.4-.5l-2 .1l-2.4 .4l-9.2 2.8l-4.9 .7l-3.2 0l-3.2-.4l-3.6-.7l-8.8-2.3l-2.9-.5l-2.4-.1l-2 .2l-2.4 .4l-8.4 2.7l-4.8 1l-6.1 .5l-10.4 .2z"/>
<path fill="#baff00" stroke="none" d="M344.1 293l122.9 0l0 25.3l-18.5 0l-8-.4l-6.4-1l-11.3-2.9l-4.8-.5l-4.4 .6l-10.1 2.8l-5.2 .5l-6.4-.6l-12.1-2.9l-5.2-.3l-3.6 .6l-8 2.5l-4.4 .9l-5.7 .6l-8.8 .1z"/>
<path fill="#c5ff00" d="M344.1 293l122.9 0l0 17.6l-20.5-.1l-8-.3l-6.8-1.1l-11.3-2.8l-2.4-.4l-2.4-.1l-2 .1l-2.4 .4l-10.1 2.9l-2.4 .3l-2.8 .2l-3.2-.2l-3.2-.5l-12.1-2.8l-2.8-.4l-2.4 .1l-3.6 .6l-8 2.4l-4 .9l-5.3 .5l-7.2 .3z"/>
<path fill="#cfff00" stroke="none" d="M344.1 293l122.9 0l0 9.9l-22.5 0l-8.4-.4l-6.9-1l-11.6-2.9l-4.4-.4l-4.4 .5l-10.1 2.8l-5.2 .6l-6.4-.7l-12.1-2.9l-5.2-.3l-3.6 .6l-11.3 3.2l-4.8 .6l-6 .3z"/>
<path fill="#daff00" d="M344.1 293l13.3 0l-3.3 .9l-2.8 .6l-7.2 .6zM381.8 293l17.5 0l-4.2 1l-4 .3l-4.4-.3zM423.7 293l43.3 0l0 2.2l-22.5 0l-8-.2l-6.5-.6z"/>

</g>
<use href="#fd" transform="translate(928.000 0) scale(-1 1)"/>
</g>
<rect x="347.10" y="296.00" width="233.80" height="224.30" fill="none" stroke="#000" stroke-width="1.25"/>
<path d="M347.10 520.30v4.3M361.71 520.30v2.4M376.33 520.30v2.4M390.94 520.30v2.4M405.55 520.30v4.3M420.16 520.30v2.4M434.77 520.30v2.4M449.39 520.30v2.4M464.00 520.30v4.3M478.61 520.30v2.4M493.23 520.30v2.4M507.84 520.30v2.4M522.45 520.30v4.3M537.06 520.30v2.4M551.67 520.30v2.4M566.29 520.30v2.4M580.90 520.30v4.3M347.10 520.30h-4.3M347.10 506.28h-2.4M347.10 492.26h-2.4M347.10 478.24h-2.4M347.10 464.22h-4.3M347.10 450.21h-2.4M347.10 436.19h-2.4M347.10 422.17h-2.4M347.10 408.15h-4.3M347.10 394.13h-2.4M347.10 380.11h-2.4M347.10 366.09h-2.4M347.10 352.07h-4.3M347.10 338.06h-2.4M347.10 324.04h-2.4M347.10 310.02h-2.4M347.10 296.00h-4.3" fill="none" stroke="#000" stroke-width="1.2"/>
<text class="tk" x="347.10" y="539.30" text-anchor="middle">-40</text>
<text class="tk" x="405.55" y="539.30" text-anchor="middle">-20</text>
<text class="tk" x="464.00" y="539.30" text-anchor="middle">0</text>
<text class="tk" x="522.45" y="539.30" text-anchor="middle">20</text>
<text class="tk" x="580.90" y="539.30" text-anchor="middle">40</text>
<text class="tk" x="339.20" y="524.90" text-anchor="end">0</text>
<text class="tk" x="339.20" y="468.82" text-anchor="end">2</text>
<text class="tk" x="339.20" y="412.75" text-anchor="end">4</text>
<text class="tk" x="339.20" y="356.68" text-anchor="end">6</text>
<text class="tk" x="339.20" y="300.60" text-anchor="end">8</text>
<text class="lb" x="340.50" y="557.00" textLength="247.9" lengthAdjust="spacingAndGlyphs">Translation t ofdislocation center (b/2)</text>
<text class="lb" transform="translate(318.20 510.80) rotate(-90)" textLength="216.9" lengthAdjust="spacingAndGlyphs">Distance d between partials (nm)</text>
</g>
<g id="arrows"><path d="M174.0 190.0L194.6 232.0L254.4 98.4M253.2 99.5C252.7 101.8 251.7 107.2 250.0 113.4C248.3 119.6 245.3 128.9 243.0 136.7C240.7 144.5 237.9 152.3 236.0 160.1C234.1 167.9 232.5 176.9 231.4 183.5C230.3 190.1 229.9 195.2 229.5 199.8C229.1 204.4 228.8 209.1 228.7 211.0M229 213.5H285M174.0 190.0L221.6 70.6M221.2 72.0C220.6 75.3 219.4 83.8 217.4 92.0C215.4 100.2 212.1 111.6 209.4 121.4C206.7 131.2 203.6 141.5 201.4 150.8C199.2 160.2 197.2 169.5 196.0 177.5C194.8 185.5 194.1 193.1 193.9 198.9C193.7 204.7 194.5 210.2 194.6 212.5M196 216L204.5 217.6M537.0 61.0C536.7 63.1 536.8 65.8 535.1 73.4C533.4 81.0 529.0 95.7 526.8 106.8C524.6 117.9 522.4 130.8 521.8 140.2C521.2 149.6 521.7 157.1 523.4 163.5C525.1 169.9 527.9 175.0 531.8 178.6C535.7 182.2 541.5 183.7 546.8 185.2C552.1 186.7 558.8 187.1 563.5 187.6C568.2 188.1 573.1 187.8 575.0 187.9M172.2 459.5L194.2 505.0L261.0 361.5M260.6 363.0C259.8 366.9 257.2 378.3 255.7 386.5C254.2 394.7 252.4 403.9 251.6 412.0C250.8 420.1 250.6 429.0 251.0 435.0C251.4 441.0 252.6 444.5 254.0 448.0C255.4 451.5 258.6 454.7 259.5 456.0M262 459L283 460.1M172.2 459.5L211.5 361.8M211.2 363.5C210.4 367.9 207.9 381.9 206.5 390.0C205.1 398.1 203.8 404.5 203.0 412.0C202.2 419.5 201.8 428.2 202.0 435.0C202.2 441.8 202.8 448.3 204.0 453.0C205.2 457.7 208.2 461.3 209.0 463.0M464.2 458.1L473.4 442.3L481.0 457.6L474.1 473.5L464.2 458.1M481 457.8H569" fill="none" stroke="#000" stroke-width="1.25" stroke-linejoin="round"/>
<path d="M194.0 231.2L189.5 226.7L193.3 224.9zM254.4 98.4L253.5 105.6L249.6 103.9zM228.7 212.8L226.0 208.1L230.2 207.6zM287.0 213.5L280.0 215.6L280.0 211.4zM221.6 70.6L221.0 77.9L217.1 76.3zM195.0 214.6L191.9 210.2L196.0 209.3zM205.4 217.8L200.1 219.0L200.9 214.8zM202.2 222.2L203.6 217.4L206.8 220.2zM464.9 225.9L534.5 63.1L536.5 63.9L465.5 226.1zM537.8 58.0L536.3 67.2L532.0 65.3zM579.5 187.9L573.0 190.0L573.0 185.8zM193.8 504.2L189.3 499.7L193.1 497.9zM261.0 361.5L259.9 368.7L256.1 367.0zM262.5 458.3L256.7 457.2L258.9 453.6zM286.0 460.2L279.4 462.1L279.6 457.9zM211.5 361.8L210.8 369.1L206.9 367.5zM213.0 466.2L207.5 464.0L210.4 460.9zM216.4 469.2L211.3 467.3L214.2 464.3zM473.6 441.8L472.6 447.6L469.0 445.5zM481.4 458.4L477.1 454.4L480.8 452.5zM474.3 473.9L469.6 470.4L473.1 468.1zM481.4 457.0L481.1 462.9L477.3 461.2zM573.0 457.8L566.0 459.9L566.0 455.7z" fill="#000"/></g>
<text class="pl" x="134.2" y="68.7" textLength="33.7" lengthAdjust="spacingAndGlyphs">(a)</text>
<text class="pl" x="436.6" y="65.5" textLength="35.4" lengthAdjust="spacingAndGlyphs">(b)</text>
<text class="pl" x="142.7" y="350.0" textLength="33.7" lengthAdjust="spacingAndGlyphs">(c)</text>
<text class="pl" x="444.9" y="349.0" textLength="35.3" lengthAdjust="spacingAndGlyphs">(d)</text>
<defs><linearGradient id="cbg" x1="0" y1="0" x2="0" y2="1"><stop offset="0" stop-color="#ff0000"/><stop offset="0.25" stop-color="#ffff00"/><stop offset="0.5" stop-color="#00ff00"/><stop offset="0.75" stop-color="#00ffff"/><stop offset="1" stop-color="#0000ff"/></linearGradient></defs>
<rect x="601.50" y="8.80" width="27.20" height="571.20" fill="#fff" stroke="#000" stroke-width="1"/>
<rect x="602.00" y="11.20" width="26.20" height="567.80" fill="url(#cbg)"/>
<path d="M601.00 579.60H629.20" stroke="#000" stroke-width="1.6"/>
<path d="M628.70 11.80h6.4M628.70 23.62h6.4M628.70 35.43h6.4M628.70 47.25h6.4M628.70 59.07h6.4M628.70 70.88h6.4M628.70 82.70h6.4M628.70 94.52h6.4M628.70 106.33h6.4M628.70 118.15h6.4M628.70 129.97h6.4M628.70 141.78h6.4M628.70 153.60h6.4M628.70 165.42h6.4M628.70 177.23h6.4M628.70 189.05h6.4M628.70 200.87h6.4M628.70 212.68h6.4M628.70 224.50h6.4M628.70 236.32h6.4M628.70 248.13h6.4M628.70 259.95h6.4M628.70 271.77h6.4M628.70 283.58h6.4M628.70 295.40h6.4M628.70 307.22h6.4M628.70 319.03h6.4M628.70 330.85h6.4M628.70 342.67h6.4M628.70 354.48h6.4M628.70 366.30h6.4M628.70 378.12h6.4M628.70 389.93h6.4M628.70 401.75h6.4M628.70 413.57h6.4M628.70 425.38h6.4M628.70 437.20h6.4M628.70 449.02h6.4M628.70 460.83h6.4M628.70 472.65h6.4M628.70 484.47h6.4M628.70 496.28h6.4M628.70 508.10h6.4M628.70 519.92h6.4M628.70 531.73h6.4M628.70 543.55h6.4M628.70 555.37h6.4M628.70 567.18h6.4M628.70 579.00h6.4" fill="none" stroke="#000" stroke-width="1.3"/>
<text class="cb" x="639.6" y="16.40" textLength="26.3" lengthAdjust="spacingAndGlyphs">1.620</text>
<text class="cb" x="639.6" y="28.22" textLength="26.3" lengthAdjust="spacingAndGlyphs">1.610</text>
<text class="cb" x="639.6" y="40.03" textLength="26.3" lengthAdjust="spacingAndGlyphs">1.600</text>
<text class="cb" x="639.6" y="51.85" textLength="26.3" lengthAdjust="spacingAndGlyphs">1.590</text>
<text class="cb" x="639.6" y="63.67" textLength="26.3" lengthAdjust="spacingAndGlyphs">1.580</text>
<text class="cb" x="639.6" y="75.48" textLength="26.3" lengthAdjust="spacingAndGlyphs">1.570</text>
<text class="cb" x="639.6" y="87.30" textLength="26.3" lengthAdjust="spacingAndGlyphs">1.560</text>
<text class="cb" x="639.6" y="99.12" textLength="26.3" lengthAdjust="spacingAndGlyphs">1.550</text>
<text class="cb" x="639.6" y="110.93" textLength="26.3" lengthAdjust="spacingAndGlyphs">1.540</text>
<text class="cb" x="639.6" y="122.75" textLength="26.3" lengthAdjust="spacingAndGlyphs">1.530</text>
<text class="cb" x="639.6" y="134.57" textLength="26.3" lengthAdjust="spacingAndGlyphs">1.520</text>
<text class="cb" x="639.6" y="146.38" textLength="26.3" lengthAdjust="spacingAndGlyphs">1.510</text>
<text class="cb" x="639.6" y="158.20" textLength="26.3" lengthAdjust="spacingAndGlyphs">1.500</text>
<text class="cb" x="639.6" y="170.02" textLength="26.3" lengthAdjust="spacingAndGlyphs">1.490</text>
<text class="cb" x="639.6" y="181.83" textLength="26.3" lengthAdjust="spacingAndGlyphs">1.480</text>
<text class="cb" x="639.6" y="193.65" textLength="26.3" lengthAdjust="spacingAndGlyphs">1.470</text>
<text class="cb" x="639.6" y="205.47" textLength="26.3" lengthAdjust="spacingAndGlyphs">1.460</text>
<text class="cb" x="639.6" y="217.28" textLength="26.3" lengthAdjust="spacingAndGlyphs">1.450</text>
<text class="cb" x="639.6" y="229.10" textLength="26.3" lengthAdjust="spacingAndGlyphs">1.440</text>
<text class="cb" x="639.6" y="240.92" textLength="26.3" lengthAdjust="spacingAndGlyphs">1.430</text>
<text class="cb" x="639.6" y="252.73" textLength="26.3" lengthAdjust="spacingAndGlyphs">1.420</text>
<text class="cb" x="639.6" y="264.55" textLength="26.3" lengthAdjust="spacingAndGlyphs">1.410</text>
<text class="cb" x="639.6" y="276.37" textLength="26.3" lengthAdjust="spacingAndGlyphs">1.400</text>
<text class="cb" x="639.6" y="288.18" textLength="26.3" lengthAdjust="spacingAndGlyphs">1.390</text>
<text class="cb" x="639.6" y="300.00" textLength="26.3" lengthAdjust="spacingAndGlyphs">1.380</text>
<text class="cb" x="639.6" y="311.82" textLength="26.3" lengthAdjust="spacingAndGlyphs">1.370</text>
<text class="cb" x="639.6" y="323.63" textLength="26.3" lengthAdjust="spacingAndGlyphs">1.360</text>
<text class="cb" x="639.6" y="335.45" textLength="26.3" lengthAdjust="spacingAndGlyphs">1.350</text>
<text class="cb" x="639.6" y="347.27" textLength="26.3" lengthAdjust="spacingAndGlyphs">1.340</text>
<text class="cb" x="639.6" y="359.08" textLength="26.3" lengthAdjust="spacingAndGlyphs">1.330</text>
<text class="cb" x="639.6" y="370.90" textLength="26.3" lengthAdjust="spacingAndGlyphs">1.320</text>
<text class="cb" x="639.6" y="382.72" textLength="26.3" lengthAdjust="spacingAndGlyphs">1.310</text>
<text class="cb" x="639.6" y="394.53" textLength="26.3" lengthAdjust="spacingAndGlyphs">1.300</text>
<text class="cb" x="639.6" y="406.35" textLength="26.3" lengthAdjust="spacingAndGlyphs">1.290</text>
<text class="cb" x="639.6" y="418.17" textLength="26.3" lengthAdjust="spacingAndGlyphs">1.280</text>
<text class="cb" x="639.6" y="429.98" textLength="26.3" lengthAdjust="spacingAndGlyphs">1.270</text>
<text class="cb" x="639.6" y="441.80" textLength="26.3" lengthAdjust="spacingAndGlyphs">1.260</text>
<text class="cb" x="639.6" y="453.62" textLength="26.3" lengthAdjust="spacingAndGlyphs">1.250</text>
<text class="cb" x="639.6" y="465.43" textLength="26.3" lengthAdjust="spacingAndGlyphs">1.240</text>
<text class="cb" x="639.6" y="477.25" textLength="26.3" lengthAdjust="spacingAndGlyphs">1.230</text>
<text class="cb" x="639.6" y="489.07" textLength="26.3" lengthAdjust="spacingAndGlyphs">1.220</text>
<text class="cb" x="639.6" y="500.88" textLength="26.3" lengthAdjust="spacingAndGlyphs">1.210</text>
<text class="cb" x="639.6" y="512.70" textLength="26.3" lengthAdjust="spacingAndGlyphs">1.200</text>
<text class="cb" x="639.6" y="524.52" textLength="26.3" lengthAdjust="spacingAndGlyphs">1.190</text>
<text class="cb" x="639.6" y="536.33" textLength="26.3" lengthAdjust="spacingAndGlyphs">1.180</text>
<text class="cb" x="639.6" y="548.15" textLength="26.3" lengthAdjust="spacingAndGlyphs">1.170</text>
<text class="cb" x="639.6" y="559.97" textLength="26.3" lengthAdjust="spacingAndGlyphs">1.160</text>
<text class="cb" x="639.6" y="571.78" textLength="26.3" lengthAdjust="spacingAndGlyphs">1.150</text>
<text class="cb" x="639.6" y="583.60" textLength="26.3" lengthAdjust="spacingAndGlyphs">1.140</text>
</svg>
</body></html>
